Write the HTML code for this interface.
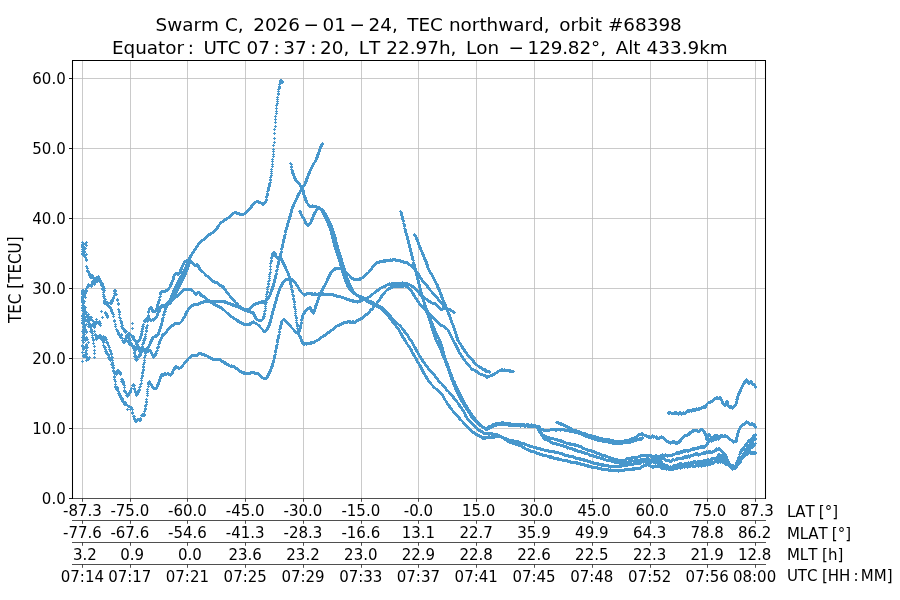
<!DOCTYPE html>
<html lang="en"><head><meta charset="utf-8"><title>Swarm C TEC northward, orbit #68398</title>
<style>
html,body{margin:0;padding:0;background:#fff;overflow:hidden}
svg{display:block;will-change:transform}
text{white-space:pre}
.c,.c text{font-family:"DejaVu Sans Condensed","DejaVu Sans","Liberation Sans",sans-serif;font-stretch:condensed}
.k{font-kerning:none}
</style></head>
<body>
<svg width="900" height="600" viewBox="0 0 900 600" font-family="'DejaVu Sans','Liberation Sans',sans-serif" fill="#000">
<rect width="900" height="600" fill="#fff"/>
<path d="M82.5 60.5V498.5M130.5 60.5V498.5M187.5 60.5V498.5M245.5 60.5V498.5M303.5 60.5V498.5M361.5 60.5V498.5M418.5 60.5V498.5M476.5 60.5V498.5M534.5 60.5V498.5M592.5 60.5V498.5M650.5 60.5V498.5M707.5 60.5V498.5M755.5 60.5V498.5M72.5 428.5H765.5M72.5 358.5H765.5M72.5 288.5H765.5M72.5 218.5H765.5M72.5 148.5H765.5M72.5 78.5H765.5" stroke="#bcbcbc" stroke-width="0.8" fill="none"/>
<path d="M84 255.5h3m-1.5 -1.5v3M84 257.5h3m-1.5 -1.5v3M85 259.5h3m-1.5 -1.5v3M85 260.5h3m-1.5 -1.5v3M85 266.5h3m-1.5 -1.5v3M86 268.5h3m-1.5 -1.5v3M86 271.5h3m-1.5 -1.5v3M86 270.5h3m-1.5 -1.5v3M87 271.5h3m-1.5 -1.5v3M87 272.5h3m-1.5 -1.5v3M88 275.5h3m-1.5 -1.5v3M88 274.5h3m-1.5 -1.5v3M89 277.5h3m-1.5 -1.5v3M89 274.5h3m-1.5 -1.5v3M90 275.5h3m-1.5 -1.5v3M90 277.5h3m-1.5 -1.5v3M91 276.5h3m-1.5 -1.5v3M91 275.5h3m-1.5 -1.5v3M91 277.5h3m-1.5 -1.5v3M92 277.5h3m-1.5 -1.5v3M93 279.5h3m-1.5 -1.5v3M93 278.5h3m-1.5 -1.5v3M94 278.5h3m-1.5 -1.5v3M95 277.5h3m-1.5 -1.5v3M95 279.5h3m-1.5 -1.5v3M96 279.5h3m-1.5 -1.5v3M96 281.5h3m-1.5 -1.5v3M97 279.5h3m-1.5 -1.5v3M97 280.5h3m-1.5 -1.5v3M98 280.5h3m-1.5 -1.5v3M98 281.5h3m-1.5 -1.5v3M99 280.5h3m-1.5 -1.5v3M100 282.5h3m-1.5 -1.5v3M100 284.5h3m-1.5 -1.5v3M100 283.5h3m-1.5 -1.5v3M101 284.5h3m-1.5 -1.5v3M101 283.5h3m-1.5 -1.5v3M101 285.5h3m-1.5 -1.5v3M101 286.5h3m-1.5 -1.5v3M102 286.5h3m-1.5 -1.5v3M103 290.5h3m-1.5 -1.5v3M103 288.5h3m-1.5 -1.5v3M103 296.5h3m-1.5 -1.5v3M104 299.5h3m-1.5 -1.5v3M104 301.5h3m-1.5 -1.5v3M104 303.5h3m-1.5 -1.5v3M105 303.5h3m-1.5 -1.5v3M105 304.5h3m-1.5 -1.5v3M106 305.5h3m-1.5 -1.5v3M106 303.5h3m-1.5 -1.5v3M107 305.5h3m-1.5 -1.5v3M107 306.5h3m-1.5 -1.5v3M108 307.5h3m-1.5 -1.5v3M109 308.5h3m-1.5 -1.5v3M109 307.5h3m-1.5 -1.5v3M110 309.5h3m-1.5 -1.5v3M110 310.5h3m-1.5 -1.5v3M110 311.5h3m-1.5 -1.5v3M111 313.5h3m-1.5 -1.5v3M111 312.5h3m-1.5 -1.5v3M112 314.5h3m-1.5 -1.5v3M112 316.5h3m-1.5 -1.5v3M113 320.5h3m-1.5 -1.5v3M113 321.5h3m-1.5 -1.5v3M114 324.5h3m-1.5 -1.5v3M114 326.5h3m-1.5 -1.5v3M115 329.5h3m-1.5 -1.5v3M116 331.5h3m-1.5 -1.5v3M116 330.5h3m-1.5 -1.5v3M117 332.5h3m-1.5 -1.5v3M117 333.5h3m-1.5 -1.5v3M117 334.5h3m-1.5 -1.5v3M118 335.5h3m-1.5 -1.5v3M119 337.5h3m-1.5 -1.5v3M119 335.5h3m-1.5 -1.5v3M120 334.5h3m-1.5 -1.5v3M120 335.5h3m-1.5 -1.5v3M120 337.5h3m-1.5 -1.5v3M121 338.5h3m-1.5 -1.5v3M121 340.5h3m-1.5 -1.5v3M122 342.5h3m-1.5 -1.5v3M122 341.5h3m-1.5 -1.5v3M123 342.5h3m-1.5 -1.5v3M123 341.5h3m-1.5 -1.5v3M124 338.5h3m-1.5 -1.5v3M124 341.5h3m-1.5 -1.5v3M124 339.5h3m-1.5 -1.5v3M125 337.5h3m-1.5 -1.5v3M125 338.5h3m-1.5 -1.5v3M125 340.5h3m-1.5 -1.5v3M126 341.5h3m-1.5 -1.5v3M127 340.5h3m-1.5 -1.5v3M127 341.5h3m-1.5 -1.5v3M128 343.5h3m-1.5 -1.5v3M128 344.5h3m-1.5 -1.5v3M129 343.5h3m-1.5 -1.5v3M129 342.5h3m-1.5 -1.5v3M130 343.5h3m-1.5 -1.5v3M130 345.5h3m-1.5 -1.5v3M131 346.5h3m-1.5 -1.5v3M132 348.5h3m-1.5 -1.5v3M132 346.5h3m-1.5 -1.5v3M133 346.5h3m-1.5 -1.5v3M133 347.5h3m-1.5 -1.5v3M134 350.5h3m-1.5 -1.5v3M134 349.5h3m-1.5 -1.5v3M135 349.5h3m-1.5 -1.5v3M135 347.5h3m-1.5 -1.5v3M135 346.5h3m-1.5 -1.5v3M136 345.5h3m-1.5 -1.5v3M136 342.5h3m-1.5 -1.5v3M136 341.5h3m-1.5 -1.5v3M137 341.5h3m-1.5 -1.5v3M138 340.5h3m-1.5 -1.5v3M138 339.5h3m-1.5 -1.5v3M139 338.5h3m-1.5 -1.5v3M139 337.5h3m-1.5 -1.5v3M139 336.5h3m-1.5 -1.5v3M140 335.5h3m-1.5 -1.5v3M140 334.5h3m-1.5 -1.5v3M140 333.5h3m-1.5 -1.5v3M140 331.5h3m-1.5 -1.5v3M141 331.5h3m-1.5 -1.5v3M141 329.5h3m-1.5 -1.5v3M141 328.5h3m-1.5 -1.5v3M141 326.5h3m-1.5 -1.5v3M142 326.5h3m-1.5 -1.5v3M142 324.5h3m-1.5 -1.5v3M143 321.5h3m-1.5 -1.5v3M143 320.5h3m-1.5 -1.5v3M144 321.5h3m-1.5 -1.5v3M144 320.5h3m-1.5 -1.5v3M144 319.5h3m-1.5 -1.5v3M145 320.5h3m-1.5 -1.5v3M145 319.5h3m-1.5 -1.5v3M145 318.5h3m-1.5 -1.5v3M146 318.5h3m-1.5 -1.5v3M146 319.5h3m-1.5 -1.5v3M147 319.5h3m-1.5 -1.5v3M147 320.5h3m-1.5 -1.5v3M148 319.5h3m-1.5 -1.5v3M148 318.5h3m-1.5 -1.5v3M149 319.5h3m-1.5 -1.5v3M149 320.5h3m-1.5 -1.5v3M150 320.5h3m-1.5 -1.5v3M151 319.5h3m-1.5 -1.5v3M152 320.5h3m-1.5 -1.5v3M152 319.5h3m-1.5 -1.5v3M153 318.5h3m-1.5 -1.5v3M154 318.5h3m-1.5 -1.5v3M154 317.5h3m-1.5 -1.5v3M155 317.5h3m-1.5 -1.5v3M155 316.5h3m-1.5 -1.5v3M156 315.5h3m-1.5 -1.5v3M156 314.5h3m-1.5 -1.5v3M156 313.5h3m-1.5 -1.5v3M157 312.5h3m-1.5 -1.5v3M157 311.5h3m-1.5 -1.5v3M158 311.5h3m-1.5 -1.5v3M158 310.5h3m-1.5 -1.5v3M158 309.5h3m-1.5 -1.5v3M158 308.5h3m-1.5 -1.5v3M158 307.5h3m-1.5 -1.5v3M159 308.5h3m-1.5 -1.5v3M159 307.5h3m-1.5 -1.5v3M159 306.5h3m-1.5 -1.5v3M160 307.5h3m-1.5 -1.5v3M160 306.5h3m-1.5 -1.5v3M160 305.5h3m-1.5 -1.5v3M161 305.5h3m-1.5 -1.5v3M162 305.5h3m-1.5 -1.5v3M162 306.5h3m-1.5 -1.5v3M163 306.5h3m-1.5 -1.5v3M163 305.5h3m-1.5 -1.5v3M164 305.5h3m-1.5 -1.5v3M164 304.5h3m-1.5 -1.5v3M165 303.5h3m-1.5 -1.5v3M166 302.5h3m-1.5 -1.5v3M166 303.5h3m-1.5 -1.5v3M167 302.5h3m-1.5 -1.5v3M167 301.5h3m-1.5 -1.5v3M168 301.5h3m-1.5 -1.5v3M169 300.5h3m-1.5 -1.5v3M169 299.5h3m-1.5 -1.5v3M169 298.5h3m-1.5 -1.5v3M170 297.5h3m-1.5 -1.5v3M170 296.5h3m-1.5 -1.5v3M170 295.5h3m-1.5 -1.5v3M171 295.5h3m-1.5 -1.5v3M171 294.5h3m-1.5 -1.5v3M171 293.5h3m-1.5 -1.5v3M172 293.5h3m-1.5 -1.5v3M172 292.5h3m-1.5 -1.5v3M172 291.5h3m-1.5 -1.5v3M172 290.5h3m-1.5 -1.5v3M173 290.5h3m-1.5 -1.5v3M173 289.5h3m-1.5 -1.5v3M173 288.5h3m-1.5 -1.5v3M174 288.5h3m-1.5 -1.5v3M174 287.5h3m-1.5 -1.5v3M174 286.5h3m-1.5 -1.5v3M175 286.5h3m-1.5 -1.5v3M175 285.5h3m-1.5 -1.5v3M175 284.5h3m-1.5 -1.5v3M176 284.5h3m-1.5 -1.5v3M176 283.5h3m-1.5 -1.5v3M176 282.5h3m-1.5 -1.5v3M177 282.5h3m-1.5 -1.5v3M177 281.5h3m-1.5 -1.5v3M177 280.5h3m-1.5 -1.5v3M178 279.5h3m-1.5 -1.5v3M178 278.5h3m-1.5 -1.5v3M179 278.5h3m-1.5 -1.5v3M179 277.5h3m-1.5 -1.5v3M179 276.5h3m-1.5 -1.5v3M180 276.5h3m-1.5 -1.5v3M180 275.5h3m-1.5 -1.5v3M181 274.5h3m-1.5 -1.5v3M181 273.5h3m-1.5 -1.5v3M182 272.5h3m-1.5 -1.5v3M182 271.5h3m-1.5 -1.5v3M183 271.5h3m-1.5 -1.5v3M183 270.5h3m-1.5 -1.5v3M183 269.5h3m-1.5 -1.5v3M184 268.5h3m-1.5 -1.5v3M184 267.5h3m-1.5 -1.5v3M185 266.5h3m-1.5 -1.5v3M185 265.5h3m-1.5 -1.5v3M185 264.5h3m-1.5 -1.5v3M186 263.5h3m-1.5 -1.5v3M186 262.5h3m-1.5 -1.5v3M186 261.5h3m-1.5 -1.5v3M187 260.5h3m-1.5 -1.5v3M187 259.5h3m-1.5 -1.5v3M188 258.5h3m-1.5 -1.5v3M188 257.5h3m-1.5 -1.5v3M189 257.5h3m-1.5 -1.5v3M189 256.5h3m-1.5 -1.5v3M189 255.5h3m-1.5 -1.5v3M190 255.5h3m-1.5 -1.5v3M190 254.5h3m-1.5 -1.5v3M191 253.5h3m-1.5 -1.5v3M191 252.5h3m-1.5 -1.5v3M192 252.5h3m-1.5 -1.5v3M192 251.5h3m-1.5 -1.5v3M193 250.5h3m-1.5 -1.5v3M193 249.5h3m-1.5 -1.5v3M194 249.5h3m-1.5 -1.5v3M194 248.5h3m-1.5 -1.5v3M195 247.5h3m-1.5 -1.5v3M195 246.5h3m-1.5 -1.5v3M196 246.5h3m-1.5 -1.5v3M196 245.5h3m-1.5 -1.5v3M197 244.5h3m-1.5 -1.5v3M197 243.5h3m-1.5 -1.5v3M198 243.5h3m-1.5 -1.5v3M198 242.5h3m-1.5 -1.5v3M199 242.5h3m-1.5 -1.5v3M199 241.5h3m-1.5 -1.5v3M200 241.5h3m-1.5 -1.5v3M200 240.5h3m-1.5 -1.5v3M201 240.5h3m-1.5 -1.5v3M202 239.5h3m-1.5 -1.5v3M203 239.5h3m-1.5 -1.5v3M203 238.5h3m-1.5 -1.5v3M204 237.5h3m-1.5 -1.5v3M205 237.5h3m-1.5 -1.5v3M205 236.5h3m-1.5 -1.5v3M206 236.5h3m-1.5 -1.5v3M206 235.5h3m-1.5 -1.5v3M207 235.5h3m-1.5 -1.5v3M207 234.5h3m-1.5 -1.5v3M208 234.5h3m-1.5 -1.5v3M209 234.5h3m-1.5 -1.5v3M209 233.5h3m-1.5 -1.5v3M210 233.5h3m-1.5 -1.5v3M211 232.5h3m-1.5 -1.5v3M212 232.5h3m-1.5 -1.5v3M212 231.5h3m-1.5 -1.5v3M213 231.5h3m-1.5 -1.5v3M213 230.5h3m-1.5 -1.5v3M214 230.5h3m-1.5 -1.5v3M214 229.5h3m-1.5 -1.5v3M215 229.5h3m-1.5 -1.5v3M215 228.5h3m-1.5 -1.5v3M216 228.5h3m-1.5 -1.5v3M216 227.5h3m-1.5 -1.5v3M216 226.5h3m-1.5 -1.5v3M217 226.5h3m-1.5 -1.5v3M217 225.5h3m-1.5 -1.5v3M218 224.5h3m-1.5 -1.5v3M219 223.5h3m-1.5 -1.5v3M219 222.5h3m-1.5 -1.5v3M220 222.5h3m-1.5 -1.5v3M221 221.5h3m-1.5 -1.5v3M222 221.5h3m-1.5 -1.5v3M222 220.5h3m-1.5 -1.5v3M223 220.5h3m-1.5 -1.5v3M223 219.5h3m-1.5 -1.5v3M224 219.5h3m-1.5 -1.5v3M225 219.5h3m-1.5 -1.5v3M225 218.5h3m-1.5 -1.5v3M226 218.5h3m-1.5 -1.5v3M227 217.5h3m-1.5 -1.5v3M228 217.5h3m-1.5 -1.5v3M228 216.5h3m-1.5 -1.5v3M229 215.5h3m-1.5 -1.5v3M230 215.5h3m-1.5 -1.5v3M230 214.5h3m-1.5 -1.5v3M231 214.5h3m-1.5 -1.5v3M231 213.5h3m-1.5 -1.5v3M232 213.5h3m-1.5 -1.5v3M233 212.5h3m-1.5 -1.5v3M234 212.5h3m-1.5 -1.5v3M235 212.5h3m-1.5 -1.5v3M235 213.5h3m-1.5 -1.5v3M236 213.5h3m-1.5 -1.5v3M237 213.5h3m-1.5 -1.5v3M238 213.5h3m-1.5 -1.5v3M238 214.5h3m-1.5 -1.5v3M239 214.5h3m-1.5 -1.5v3M240 214.5h3m-1.5 -1.5v3M241 214.5h3m-1.5 -1.5v3M242 214.5h3m-1.5 -1.5v3M243 213.5h3m-1.5 -1.5v3M244 213.5h3m-1.5 -1.5v3M244 212.5h3m-1.5 -1.5v3M245 212.5h3m-1.5 -1.5v3M245 211.5h3m-1.5 -1.5v3M246 211.5h3m-1.5 -1.5v3M246 210.5h3m-1.5 -1.5v3M247 210.5h3m-1.5 -1.5v3M247 209.5h3m-1.5 -1.5v3M248 209.5h3m-1.5 -1.5v3M248 208.5h3m-1.5 -1.5v3M249 208.5h3m-1.5 -1.5v3M249 207.5h3m-1.5 -1.5v3M250 207.5h3m-1.5 -1.5v3M250 206.5h3m-1.5 -1.5v3M250 205.5h3m-1.5 -1.5v3M251 205.5h3m-1.5 -1.5v3M251 204.5h3m-1.5 -1.5v3M252 204.5h3m-1.5 -1.5v3M252 203.5h3m-1.5 -1.5v3M253 203.5h3m-1.5 -1.5v3M253 202.5h3m-1.5 -1.5v3M254 202.5h3m-1.5 -1.5v3M255 201.5h3m-1.5 -1.5v3M256 201.5h3m-1.5 -1.5v3M257 201.5h3m-1.5 -1.5v3M257 202.5h3m-1.5 -1.5v3M258 202.5h3m-1.5 -1.5v3M259 202.5h3m-1.5 -1.5v3M260 203.5h3m-1.5 -1.5v3M261 203.5h3m-1.5 -1.5v3M261 204.5h3m-1.5 -1.5v3M262 204.5h3m-1.5 -1.5v3M262 203.5h3m-1.5 -1.5v3M263 203.5h3m-1.5 -1.5v3M263 202.5h3m-1.5 -1.5v3M264 202.5h3m-1.5 -1.5v3M264 201.5h3m-1.5 -1.5v3M265 200.5h3m-1.5 -1.5v3M265 199.5h3m-1.5 -1.5v3M265 197.5h3m-1.5 -1.5v3M265 196.5h3m-1.5 -1.5v3M266 195.5h3m-1.5 -1.5v3M266 194.5h3m-1.5 -1.5v3M266 193.5h3m-1.5 -1.5v3M266 191.5h3m-1.5 -1.5v3M267 190.5h3m-1.5 -1.5v3M267 189.5h3m-1.5 -1.5v3M267 188.5h3m-1.5 -1.5v3M267 187.5h3m-1.5 -1.5v3M268 186.5h3m-1.5 -1.5v3M268 185.5h3m-1.5 -1.5v3M268 184.5h3m-1.5 -1.5v3M268 183.5h3m-1.5 -1.5v3M269 182.5h3m-1.5 -1.5v3M269 180.5h3m-1.5 -1.5v3M269 179.5h3m-1.5 -1.5v3M269 177.5h3m-1.5 -1.5v3M270 175.5h3m-1.5 -1.5v3M270 173.5h3m-1.5 -1.5v3M270 171.5h3m-1.5 -1.5v3M270 169.5h3m-1.5 -1.5v3M271 166.5h3m-1.5 -1.5v3M271 164.5h3m-1.5 -1.5v3M271 161.5h3m-1.5 -1.5v3M271 159.5h3m-1.5 -1.5v3M272 156.5h3m-1.5 -1.5v3M272 154.5h3m-1.5 -1.5v3M272 151.5h3m-1.5 -1.5v3M272 149.5h3m-1.5 -1.5v3M272 145.5h3m-1.5 -1.5v3M273 142.5h3m-1.5 -1.5v3M273 138.5h3m-1.5 -1.5v3M273 133.5h3m-1.5 -1.5v3M273 129.5h3m-1.5 -1.5v3M274 126.5h3m-1.5 -1.5v3M274 122.5h3m-1.5 -1.5v3M274 119.5h3m-1.5 -1.5v3M274 116.5h3m-1.5 -1.5v3M275 113.5h3m-1.5 -1.5v3M275 111.5h3m-1.5 -1.5v3M275 108.5h3m-1.5 -1.5v3M275 105.5h3m-1.5 -1.5v3M276 103.5h3m-1.5 -1.5v3M276 101.5h3m-1.5 -1.5v3M276 99.5h3m-1.5 -1.5v3M276 97.5h3m-1.5 -1.5v3M277 94.5h3m-1.5 -1.5v3M277 93.5h3m-1.5 -1.5v3M277 91.5h3m-1.5 -1.5v3M277 89.5h3m-1.5 -1.5v3M278 88.5h3m-1.5 -1.5v3M278 87.5h3m-1.5 -1.5v3M278 86.5h3m-1.5 -1.5v3M278 84.5h3m-1.5 -1.5v3M279 83.5h3m-1.5 -1.5v3M279 82.5h3m-1.5 -1.5v3M279 81.5h3m-1.5 -1.5v3M279 80.5h3m-1.5 -1.5v3M280 80.5h3m-1.5 -1.5v3M280 81.5h3m-1.5 -1.5v3M281 81.5h3m-1.5 -1.5v3M281 82.5h3m-1.5 -1.5v3M84 293.5h3m-1.5 -1.5v3M85 290.5h3m-1.5 -1.5v3M85 291.5h3m-1.5 -1.5v3M85 288.5h3m-1.5 -1.5v3M86 287.5h3m-1.5 -1.5v3M86 286.5h3m-1.5 -1.5v3M87 284.5h3m-1.5 -1.5v3M87 285.5h3m-1.5 -1.5v3M88 285.5h3m-1.5 -1.5v3M89 285.5h3m-1.5 -1.5v3M90 286.5h3m-1.5 -1.5v3M90 285.5h3m-1.5 -1.5v3M90 284.5h3m-1.5 -1.5v3M91 282.5h3m-1.5 -1.5v3M91 281.5h3m-1.5 -1.5v3M92 281.5h3m-1.5 -1.5v3M92 282.5h3m-1.5 -1.5v3M93 283.5h3m-1.5 -1.5v3M93 284.5h3m-1.5 -1.5v3M93 282.5h3m-1.5 -1.5v3M94 281.5h3m-1.5 -1.5v3M94 282.5h3m-1.5 -1.5v3M95 280.5h3m-1.5 -1.5v3M95 278.5h3m-1.5 -1.5v3M96 278.5h3m-1.5 -1.5v3M97 277.5h3m-1.5 -1.5v3M97 276.5h3m-1.5 -1.5v3M98 278.5h3m-1.5 -1.5v3M100 285.5h3m-1.5 -1.5v3M101 288.5h3m-1.5 -1.5v3M101 289.5h3m-1.5 -1.5v3M102 292.5h3m-1.5 -1.5v3M102 294.5h3m-1.5 -1.5v3M102 296.5h3m-1.5 -1.5v3M103 298.5h3m-1.5 -1.5v3M103 300.5h3m-1.5 -1.5v3M103 301.5h3m-1.5 -1.5v3M103 302.5h3m-1.5 -1.5v3M103 303.5h3m-1.5 -1.5v3M104 302.5h3m-1.5 -1.5v3M105 302.5h3m-1.5 -1.5v3M106 302.5h3m-1.5 -1.5v3M109 303.5h3m-1.5 -1.5v3M109 302.5h3m-1.5 -1.5v3M110 302.5h3m-1.5 -1.5v3M110 303.5h3m-1.5 -1.5v3M110 301.5h3m-1.5 -1.5v3M110 300.5h3m-1.5 -1.5v3M111 300.5h3m-1.5 -1.5v3M111 301.5h3m-1.5 -1.5v3M112 297.5h3m-1.5 -1.5v3M112 298.5h3m-1.5 -1.5v3M113 295.5h3m-1.5 -1.5v3M113 293.5h3m-1.5 -1.5v3M113 291.5h3m-1.5 -1.5v3M113 290.5h3m-1.5 -1.5v3M114 291.5h3m-1.5 -1.5v3M114 290.5h3m-1.5 -1.5v3M115 294.5h3m-1.5 -1.5v3M116 299.5h3m-1.5 -1.5v3M116 300.5h3m-1.5 -1.5v3M117 303.5h3m-1.5 -1.5v3M117 304.5h3m-1.5 -1.5v3M117 309.5h3m-1.5 -1.5v3M118 311.5h3m-1.5 -1.5v3M118 312.5h3m-1.5 -1.5v3M118 314.5h3m-1.5 -1.5v3M118 317.5h3m-1.5 -1.5v3M119 318.5h3m-1.5 -1.5v3M119 320.5h3m-1.5 -1.5v3M120 321.5h3m-1.5 -1.5v3M120 322.5h3m-1.5 -1.5v3M120 323.5h3m-1.5 -1.5v3M120 326.5h3m-1.5 -1.5v3M121 325.5h3m-1.5 -1.5v3M121 327.5h3m-1.5 -1.5v3M121 328.5h3m-1.5 -1.5v3M122 328.5h3m-1.5 -1.5v3M122 329.5h3m-1.5 -1.5v3M123 329.5h3m-1.5 -1.5v3M123 331.5h3m-1.5 -1.5v3M124 330.5h3m-1.5 -1.5v3M124 332.5h3m-1.5 -1.5v3M124 331.5h3m-1.5 -1.5v3M125 331.5h3m-1.5 -1.5v3M126 334.5h3m-1.5 -1.5v3M127 333.5h3m-1.5 -1.5v3M127 334.5h3m-1.5 -1.5v3M127 335.5h3m-1.5 -1.5v3M128 334.5h3m-1.5 -1.5v3M128 333.5h3m-1.5 -1.5v3M129 334.5h3m-1.5 -1.5v3M130 335.5h3m-1.5 -1.5v3M131 336.5h3m-1.5 -1.5v3M131 337.5h3m-1.5 -1.5v3M132 337.5h3m-1.5 -1.5v3M132 336.5h3m-1.5 -1.5v3M132 338.5h3m-1.5 -1.5v3M132 339.5h3m-1.5 -1.5v3M133 340.5h3m-1.5 -1.5v3M133 339.5h3m-1.5 -1.5v3M134 340.5h3m-1.5 -1.5v3M134 341.5h3m-1.5 -1.5v3M135 342.5h3m-1.5 -1.5v3M135 343.5h3m-1.5 -1.5v3M135 344.5h3m-1.5 -1.5v3M136 344.5h3m-1.5 -1.5v3M136 346.5h3m-1.5 -1.5v3M137 346.5h3m-1.5 -1.5v3M137 347.5h3m-1.5 -1.5v3M137 348.5h3m-1.5 -1.5v3M138 349.5h3m-1.5 -1.5v3M138 350.5h3m-1.5 -1.5v3M138 351.5h3m-1.5 -1.5v3M139 350.5h3m-1.5 -1.5v3M139 349.5h3m-1.5 -1.5v3M140 349.5h3m-1.5 -1.5v3M140 348.5h3m-1.5 -1.5v3M140 347.5h3m-1.5 -1.5v3M141 347.5h3m-1.5 -1.5v3M141 346.5h3m-1.5 -1.5v3M141 344.5h3m-1.5 -1.5v3M142 343.5h3m-1.5 -1.5v3M142 342.5h3m-1.5 -1.5v3M142 340.5h3m-1.5 -1.5v3M143 340.5h3m-1.5 -1.5v3M143 338.5h3m-1.5 -1.5v3M144 338.5h3m-1.5 -1.5v3M144 336.5h3m-1.5 -1.5v3M144 334.5h3m-1.5 -1.5v3M145 331.5h3m-1.5 -1.5v3M145 330.5h3m-1.5 -1.5v3M145 328.5h3m-1.5 -1.5v3M145 327.5h3m-1.5 -1.5v3M146 325.5h3m-1.5 -1.5v3M146 321.5h3m-1.5 -1.5v3M147 316.5h3m-1.5 -1.5v3M147 315.5h3m-1.5 -1.5v3M147 312.5h3m-1.5 -1.5v3M147 311.5h3m-1.5 -1.5v3M148 309.5h3m-1.5 -1.5v3M148 308.5h3m-1.5 -1.5v3M149 307.5h3m-1.5 -1.5v3M150 307.5h3m-1.5 -1.5v3M150 308.5h3m-1.5 -1.5v3M150 309.5h3m-1.5 -1.5v3M151 309.5h3m-1.5 -1.5v3M151 310.5h3m-1.5 -1.5v3M151 311.5h3m-1.5 -1.5v3M152 311.5h3m-1.5 -1.5v3M153 311.5h3m-1.5 -1.5v3M154 311.5h3m-1.5 -1.5v3M154 310.5h3m-1.5 -1.5v3M155 310.5h3m-1.5 -1.5v3M155 309.5h3m-1.5 -1.5v3M155 308.5h3m-1.5 -1.5v3M156 307.5h3m-1.5 -1.5v3M156 306.5h3m-1.5 -1.5v3M156 305.5h3m-1.5 -1.5v3M156 304.5h3m-1.5 -1.5v3M157 303.5h3m-1.5 -1.5v3M157 302.5h3m-1.5 -1.5v3M157 301.5h3m-1.5 -1.5v3M158 300.5h3m-1.5 -1.5v3M158 299.5h3m-1.5 -1.5v3M158 297.5h3m-1.5 -1.5v3M159 296.5h3m-1.5 -1.5v3M159 294.5h3m-1.5 -1.5v3M159 293.5h3m-1.5 -1.5v3M159 292.5h3m-1.5 -1.5v3M160 292.5h3m-1.5 -1.5v3M160 291.5h3m-1.5 -1.5v3M161 291.5h3m-1.5 -1.5v3M162 291.5h3m-1.5 -1.5v3M163 291.5h3m-1.5 -1.5v3M164 291.5h3m-1.5 -1.5v3M164 290.5h3m-1.5 -1.5v3M165 290.5h3m-1.5 -1.5v3M166 290.5h3m-1.5 -1.5v3M166 289.5h3m-1.5 -1.5v3M167 289.5h3m-1.5 -1.5v3M167 288.5h3m-1.5 -1.5v3M168 287.5h3m-1.5 -1.5v3M169 286.5h3m-1.5 -1.5v3M169 285.5h3m-1.5 -1.5v3M169 284.5h3m-1.5 -1.5v3M170 284.5h3m-1.5 -1.5v3M170 283.5h3m-1.5 -1.5v3M170 282.5h3m-1.5 -1.5v3M171 281.5h3m-1.5 -1.5v3M171 280.5h3m-1.5 -1.5v3M172 279.5h3m-1.5 -1.5v3M172 278.5h3m-1.5 -1.5v3M172 277.5h3m-1.5 -1.5v3M172 276.5h3m-1.5 -1.5v3M173 275.5h3m-1.5 -1.5v3M173 274.5h3m-1.5 -1.5v3M174 274.5h3m-1.5 -1.5v3M174 273.5h3m-1.5 -1.5v3M175 273.5h3m-1.5 -1.5v3M176 273.5h3m-1.5 -1.5v3M176 274.5h3m-1.5 -1.5v3M177 274.5h3m-1.5 -1.5v3M177 273.5h3m-1.5 -1.5v3M178 273.5h3m-1.5 -1.5v3M178 272.5h3m-1.5 -1.5v3M179 272.5h3m-1.5 -1.5v3M179 271.5h3m-1.5 -1.5v3M179 270.5h3m-1.5 -1.5v3M179 269.5h3m-1.5 -1.5v3M180 269.5h3m-1.5 -1.5v3M180 268.5h3m-1.5 -1.5v3M180 267.5h3m-1.5 -1.5v3M181 266.5h3m-1.5 -1.5v3M181 265.5h3m-1.5 -1.5v3M182 264.5h3m-1.5 -1.5v3M182 263.5h3m-1.5 -1.5v3M183 262.5h3m-1.5 -1.5v3M183 261.5h3m-1.5 -1.5v3M184 261.5h3m-1.5 -1.5v3M185 261.5h3m-1.5 -1.5v3M185 260.5h3m-1.5 -1.5v3M186 260.5h3m-1.5 -1.5v3M188 260.5h3m-1.5 -1.5v3M189 260.5h3m-1.5 -1.5v3M189 261.5h3m-1.5 -1.5v3M190 261.5h3m-1.5 -1.5v3M190 262.5h3m-1.5 -1.5v3M191 262.5h3m-1.5 -1.5v3M191 263.5h3m-1.5 -1.5v3M192 263.5h3m-1.5 -1.5v3M192 264.5h3m-1.5 -1.5v3M193 264.5h3m-1.5 -1.5v3M193 265.5h3m-1.5 -1.5v3M194 265.5h3m-1.5 -1.5v3M195 265.5h3m-1.5 -1.5v3M195 264.5h3m-1.5 -1.5v3M196 264.5h3m-1.5 -1.5v3M196 265.5h3m-1.5 -1.5v3M197 265.5h3m-1.5 -1.5v3M197 266.5h3m-1.5 -1.5v3M197 267.5h3m-1.5 -1.5v3M198 267.5h3m-1.5 -1.5v3M198 268.5h3m-1.5 -1.5v3M198 269.5h3m-1.5 -1.5v3M199 269.5h3m-1.5 -1.5v3M199 270.5h3m-1.5 -1.5v3M200 270.5h3m-1.5 -1.5v3M200 271.5h3m-1.5 -1.5v3M201 271.5h3m-1.5 -1.5v3M202 272.5h3m-1.5 -1.5v3M203 273.5h3m-1.5 -1.5v3M204 274.5h3m-1.5 -1.5v3M204 275.5h3m-1.5 -1.5v3M205 275.5h3m-1.5 -1.5v3M206 276.5h3m-1.5 -1.5v3M207 276.5h3m-1.5 -1.5v3M207 277.5h3m-1.5 -1.5v3M208 277.5h3m-1.5 -1.5v3M208 278.5h3m-1.5 -1.5v3M209 279.5h3m-1.5 -1.5v3M210 279.5h3m-1.5 -1.5v3M210 280.5h3m-1.5 -1.5v3M211 280.5h3m-1.5 -1.5v3M211 281.5h3m-1.5 -1.5v3M212 281.5h3m-1.5 -1.5v3M213 281.5h3m-1.5 -1.5v3M213 282.5h3m-1.5 -1.5v3M214 282.5h3m-1.5 -1.5v3M215 282.5h3m-1.5 -1.5v3M216 282.5h3m-1.5 -1.5v3M216 283.5h3m-1.5 -1.5v3M217 283.5h3m-1.5 -1.5v3M217 284.5h3m-1.5 -1.5v3M218 284.5h3m-1.5 -1.5v3M218 285.5h3m-1.5 -1.5v3M219 285.5h3m-1.5 -1.5v3M220 285.5h3m-1.5 -1.5v3M220 286.5h3m-1.5 -1.5v3M221 286.5h3m-1.5 -1.5v3M222 286.5h3m-1.5 -1.5v3M222 287.5h3m-1.5 -1.5v3M222 288.5h3m-1.5 -1.5v3M223 288.5h3m-1.5 -1.5v3M223 289.5h3m-1.5 -1.5v3M224 289.5h3m-1.5 -1.5v3M224 290.5h3m-1.5 -1.5v3M225 291.5h3m-1.5 -1.5v3M225 292.5h3m-1.5 -1.5v3M226 292.5h3m-1.5 -1.5v3M226 293.5h3m-1.5 -1.5v3M227 293.5h3m-1.5 -1.5v3M227 294.5h3m-1.5 -1.5v3M228 295.5h3m-1.5 -1.5v3M229 296.5h3m-1.5 -1.5v3M229 297.5h3m-1.5 -1.5v3M230 297.5h3m-1.5 -1.5v3M230 298.5h3m-1.5 -1.5v3M231 298.5h3m-1.5 -1.5v3M231 299.5h3m-1.5 -1.5v3M232 299.5h3m-1.5 -1.5v3M232 300.5h3m-1.5 -1.5v3M233 300.5h3m-1.5 -1.5v3M233 301.5h3m-1.5 -1.5v3M234 302.5h3m-1.5 -1.5v3M235 303.5h3m-1.5 -1.5v3M236 303.5h3m-1.5 -1.5v3M236 304.5h3m-1.5 -1.5v3M237 305.5h3m-1.5 -1.5v3M238 306.5h3m-1.5 -1.5v3M239 306.5h3m-1.5 -1.5v3M239 307.5h3m-1.5 -1.5v3M240 307.5h3m-1.5 -1.5v3M240 308.5h3m-1.5 -1.5v3M241 308.5h3m-1.5 -1.5v3M241 309.5h3m-1.5 -1.5v3M242 309.5h3m-1.5 -1.5v3M243 309.5h3m-1.5 -1.5v3M243 310.5h3m-1.5 -1.5v3M244 310.5h3m-1.5 -1.5v3M245 310.5h3m-1.5 -1.5v3M246 310.5h3m-1.5 -1.5v3M246 311.5h3m-1.5 -1.5v3M247 311.5h3m-1.5 -1.5v3M248 311.5h3m-1.5 -1.5v3M249 311.5h3m-1.5 -1.5v3M249 312.5h3m-1.5 -1.5v3M250 312.5h3m-1.5 -1.5v3M251 312.5h3m-1.5 -1.5v3M252 312.5h3m-1.5 -1.5v3M252 313.5h3m-1.5 -1.5v3M252 314.5h3m-1.5 -1.5v3M253 314.5h3m-1.5 -1.5v3M253 315.5h3m-1.5 -1.5v3M253 316.5h3m-1.5 -1.5v3M254 316.5h3m-1.5 -1.5v3M254 317.5h3m-1.5 -1.5v3M254 318.5h3m-1.5 -1.5v3M255 318.5h3m-1.5 -1.5v3M255 319.5h3m-1.5 -1.5v3M256 319.5h3m-1.5 -1.5v3M257 320.5h3m-1.5 -1.5v3M258 320.5h3m-1.5 -1.5v3M259 320.5h3m-1.5 -1.5v3M260 320.5h3m-1.5 -1.5v3M261 319.5h3m-1.5 -1.5v3M262 318.5h3m-1.5 -1.5v3M262 317.5h3m-1.5 -1.5v3M262 316.5h3m-1.5 -1.5v3M263 316.5h3m-1.5 -1.5v3M263 314.5h3m-1.5 -1.5v3M263 313.5h3m-1.5 -1.5v3M263 311.5h3m-1.5 -1.5v3M264 310.5h3m-1.5 -1.5v3M264 308.5h3m-1.5 -1.5v3M264 306.5h3m-1.5 -1.5v3M264 304.5h3m-1.5 -1.5v3M265 302.5h3m-1.5 -1.5v3M265 300.5h3m-1.5 -1.5v3M265 298.5h3m-1.5 -1.5v3M265 296.5h3m-1.5 -1.5v3M265 294.5h3m-1.5 -1.5v3M266 292.5h3m-1.5 -1.5v3M266 291.5h3m-1.5 -1.5v3M266 289.5h3m-1.5 -1.5v3M266 287.5h3m-1.5 -1.5v3M267 286.5h3m-1.5 -1.5v3M267 284.5h3m-1.5 -1.5v3M267 283.5h3m-1.5 -1.5v3M267 281.5h3m-1.5 -1.5v3M268 280.5h3m-1.5 -1.5v3M268 278.5h3m-1.5 -1.5v3M268 276.5h3m-1.5 -1.5v3M268 274.5h3m-1.5 -1.5v3M269 272.5h3m-1.5 -1.5v3M269 269.5h3m-1.5 -1.5v3M269 266.5h3m-1.5 -1.5v3M269 263.5h3m-1.5 -1.5v3M270 261.5h3m-1.5 -1.5v3M270 260.5h3m-1.5 -1.5v3M270 258.5h3m-1.5 -1.5v3M270 257.5h3m-1.5 -1.5v3M271 256.5h3m-1.5 -1.5v3M271 255.5h3m-1.5 -1.5v3M271 254.5h3m-1.5 -1.5v3M271 253.5h3m-1.5 -1.5v3M272 253.5h3m-1.5 -1.5v3M272 252.5h3m-1.5 -1.5v3M273 252.5h3m-1.5 -1.5v3M273 253.5h3m-1.5 -1.5v3M274 253.5h3m-1.5 -1.5v3M274 254.5h3m-1.5 -1.5v3M274 255.5h3m-1.5 -1.5v3M274 256.5h3m-1.5 -1.5v3M275 256.5h3m-1.5 -1.5v3M275 257.5h3m-1.5 -1.5v3M276 257.5h3m-1.5 -1.5v3M276 258.5h3m-1.5 -1.5v3M277 258.5h3m-1.5 -1.5v3M277 257.5h3m-1.5 -1.5v3M278 257.5h3m-1.5 -1.5v3M279 257.5h3m-1.5 -1.5v3M279 258.5h3m-1.5 -1.5v3M280 258.5h3m-1.5 -1.5v3M280 259.5h3m-1.5 -1.5v3M280 260.5h3m-1.5 -1.5v3M281 260.5h3m-1.5 -1.5v3M281 261.5h3m-1.5 -1.5v3M281 262.5h3m-1.5 -1.5v3M282 262.5h3m-1.5 -1.5v3M282 263.5h3m-1.5 -1.5v3M282 264.5h3m-1.5 -1.5v3M283 264.5h3m-1.5 -1.5v3M283 265.5h3m-1.5 -1.5v3M283 266.5h3m-1.5 -1.5v3M284 266.5h3m-1.5 -1.5v3M284 267.5h3m-1.5 -1.5v3M284 268.5h3m-1.5 -1.5v3M285 269.5h3m-1.5 -1.5v3M285 270.5h3m-1.5 -1.5v3M286 271.5h3m-1.5 -1.5v3M286 272.5h3m-1.5 -1.5v3M287 273.5h3m-1.5 -1.5v3M287 274.5h3m-1.5 -1.5v3M287 275.5h3m-1.5 -1.5v3M288 276.5h3m-1.5 -1.5v3M288 277.5h3m-1.5 -1.5v3M288 279.5h3m-1.5 -1.5v3M288 280.5h3m-1.5 -1.5v3M289 281.5h3m-1.5 -1.5v3M289 282.5h3m-1.5 -1.5v3M289 283.5h3m-1.5 -1.5v3M289 284.5h3m-1.5 -1.5v3M290 285.5h3m-1.5 -1.5v3M290 286.5h3m-1.5 -1.5v3M290 287.5h3m-1.5 -1.5v3M290 289.5h3m-1.5 -1.5v3M291 290.5h3m-1.5 -1.5v3M291 291.5h3m-1.5 -1.5v3M291 292.5h3m-1.5 -1.5v3M291 294.5h3m-1.5 -1.5v3M292 295.5h3m-1.5 -1.5v3M292 296.5h3m-1.5 -1.5v3M292 298.5h3m-1.5 -1.5v3M292 299.5h3m-1.5 -1.5v3M293 301.5h3m-1.5 -1.5v3M293 302.5h3m-1.5 -1.5v3M293 304.5h3m-1.5 -1.5v3M293 306.5h3m-1.5 -1.5v3M293 307.5h3m-1.5 -1.5v3M294 309.5h3m-1.5 -1.5v3M294 311.5h3m-1.5 -1.5v3M294 313.5h3m-1.5 -1.5v3M294 315.5h3m-1.5 -1.5v3M295 317.5h3m-1.5 -1.5v3M295 318.5h3m-1.5 -1.5v3M295 320.5h3m-1.5 -1.5v3M295 322.5h3m-1.5 -1.5v3M296 324.5h3m-1.5 -1.5v3M296 325.5h3m-1.5 -1.5v3M296 326.5h3m-1.5 -1.5v3M296 328.5h3m-1.5 -1.5v3M297 329.5h3m-1.5 -1.5v3M297 330.5h3m-1.5 -1.5v3M297 331.5h3m-1.5 -1.5v3M298 331.5h3m-1.5 -1.5v3M298 330.5h3m-1.5 -1.5v3M298 329.5h3m-1.5 -1.5v3M299 328.5h3m-1.5 -1.5v3M299 327.5h3m-1.5 -1.5v3M299 326.5h3m-1.5 -1.5v3M299 325.5h3m-1.5 -1.5v3M300 323.5h3m-1.5 -1.5v3M300 322.5h3m-1.5 -1.5v3M300 320.5h3m-1.5 -1.5v3M300 319.5h3m-1.5 -1.5v3M301 318.5h3m-1.5 -1.5v3M301 317.5h3m-1.5 -1.5v3M301 316.5h3m-1.5 -1.5v3M301 315.5h3m-1.5 -1.5v3M302 314.5h3m-1.5 -1.5v3M302 313.5h3m-1.5 -1.5v3M303 313.5h3m-1.5 -1.5v3M303 312.5h3m-1.5 -1.5v3M303 311.5h3m-1.5 -1.5v3M304 310.5h3m-1.5 -1.5v3M305 310.5h3m-1.5 -1.5v3M305 309.5h3m-1.5 -1.5v3M306 309.5h3m-1.5 -1.5v3M306 308.5h3m-1.5 -1.5v3M307 308.5h3m-1.5 -1.5v3M308 308.5h3m-1.5 -1.5v3M308 307.5h3m-1.5 -1.5v3M309 307.5h3m-1.5 -1.5v3M309 308.5h3m-1.5 -1.5v3M310 309.5h3m-1.5 -1.5v3M310 310.5h3m-1.5 -1.5v3M310 311.5h3m-1.5 -1.5v3M311 311.5h3m-1.5 -1.5v3M311 312.5h3m-1.5 -1.5v3M312 313.5h3m-1.5 -1.5v3M312 312.5h3m-1.5 -1.5v3M312 311.5h3m-1.5 -1.5v3M313 311.5h3m-1.5 -1.5v3M313 310.5h3m-1.5 -1.5v3M313 309.5h3m-1.5 -1.5v3M314 308.5h3m-1.5 -1.5v3M314 307.5h3m-1.5 -1.5v3M314 306.5h3m-1.5 -1.5v3M314 305.5h3m-1.5 -1.5v3M315 305.5h3m-1.5 -1.5v3M315 304.5h3m-1.5 -1.5v3M315 303.5h3m-1.5 -1.5v3M316 302.5h3m-1.5 -1.5v3M316 301.5h3m-1.5 -1.5v3M316 300.5h3m-1.5 -1.5v3M317 299.5h3m-1.5 -1.5v3M317 298.5h3m-1.5 -1.5v3M317 297.5h3m-1.5 -1.5v3M318 296.5h3m-1.5 -1.5v3M318 295.5h3m-1.5 -1.5v3M318 294.5h3m-1.5 -1.5v3M319 293.5h3m-1.5 -1.5v3M319 292.5h3m-1.5 -1.5v3M320 292.5h3m-1.5 -1.5v3M320 291.5h3m-1.5 -1.5v3M320 290.5h3m-1.5 -1.5v3M321 290.5h3m-1.5 -1.5v3M321 289.5h3m-1.5 -1.5v3M321 288.5h3m-1.5 -1.5v3M322 288.5h3m-1.5 -1.5v3M322 287.5h3m-1.5 -1.5v3M322 286.5h3m-1.5 -1.5v3M323 286.5h3m-1.5 -1.5v3M323 285.5h3m-1.5 -1.5v3M324 284.5h3m-1.5 -1.5v3M324 283.5h3m-1.5 -1.5v3M325 282.5h3m-1.5 -1.5v3M325 281.5h3m-1.5 -1.5v3M326 280.5h3m-1.5 -1.5v3M326 279.5h3m-1.5 -1.5v3M326 278.5h3m-1.5 -1.5v3M327 278.5h3m-1.5 -1.5v3M327 277.5h3m-1.5 -1.5v3M327 276.5h3m-1.5 -1.5v3M328 276.5h3m-1.5 -1.5v3M328 275.5h3m-1.5 -1.5v3M328 274.5h3m-1.5 -1.5v3M329 274.5h3m-1.5 -1.5v3M329 273.5h3m-1.5 -1.5v3M329 272.5h3m-1.5 -1.5v3M330 272.5h3m-1.5 -1.5v3M330 271.5h3m-1.5 -1.5v3M331 271.5h3m-1.5 -1.5v3M331 270.5h3m-1.5 -1.5v3M332 270.5h3m-1.5 -1.5v3M332 269.5h3m-1.5 -1.5v3M333 269.5h3m-1.5 -1.5v3M333 268.5h3m-1.5 -1.5v3M334 268.5h3m-1.5 -1.5v3M334 269.5h3m-1.5 -1.5v3M335 268.5h3m-1.5 -1.5v3M336 268.5h3m-1.5 -1.5v3M337 268.5h3m-1.5 -1.5v3M338 268.5h3m-1.5 -1.5v3M339 268.5h3m-1.5 -1.5v3M340 268.5h3m-1.5 -1.5v3M341 269.5h3m-1.5 -1.5v3M342 269.5h3m-1.5 -1.5v3M342 270.5h3m-1.5 -1.5v3M343 270.5h3m-1.5 -1.5v3M344 271.5h3m-1.5 -1.5v3M345 272.5h3m-1.5 -1.5v3M346 273.5h3m-1.5 -1.5v3M347 274.5h3m-1.5 -1.5v3M348 275.5h3m-1.5 -1.5v3M349 276.5h3m-1.5 -1.5v3M349 277.5h3m-1.5 -1.5v3M350 277.5h3m-1.5 -1.5v3M350 278.5h3m-1.5 -1.5v3M351 278.5h3m-1.5 -1.5v3M352 278.5h3m-1.5 -1.5v3M352 279.5h3m-1.5 -1.5v3M353 279.5h3m-1.5 -1.5v3M354 279.5h3m-1.5 -1.5v3M355 279.5h3m-1.5 -1.5v3M356 279.5h3m-1.5 -1.5v3M357 279.5h3m-1.5 -1.5v3M358 279.5h3m-1.5 -1.5v3M358 278.5h3m-1.5 -1.5v3M359 278.5h3m-1.5 -1.5v3M359 279.5h3m-1.5 -1.5v3M360 278.5h3m-1.5 -1.5v3M361 277.5h3m-1.5 -1.5v3M362 277.5h3m-1.5 -1.5v3M362 276.5h3m-1.5 -1.5v3M363 276.5h3m-1.5 -1.5v3M363 275.5h3m-1.5 -1.5v3M364 275.5h3m-1.5 -1.5v3M364 274.5h3m-1.5 -1.5v3M365 274.5h3m-1.5 -1.5v3M365 273.5h3m-1.5 -1.5v3M366 273.5h3m-1.5 -1.5v3M367 272.5h3m-1.5 -1.5v3M368 271.5h3m-1.5 -1.5v3M368 270.5h3m-1.5 -1.5v3M369 270.5h3m-1.5 -1.5v3M369 269.5h3m-1.5 -1.5v3M370 269.5h3m-1.5 -1.5v3M370 268.5h3m-1.5 -1.5v3M371 267.5h3m-1.5 -1.5v3M371 266.5h3m-1.5 -1.5v3M372 266.5h3m-1.5 -1.5v3M372 265.5h3m-1.5 -1.5v3M373 265.5h3m-1.5 -1.5v3M373 264.5h3m-1.5 -1.5v3M374 264.5h3m-1.5 -1.5v3M375 263.5h3m-1.5 -1.5v3M375 262.5h3m-1.5 -1.5v3M376 262.5h3m-1.5 -1.5v3M377 262.5h3m-1.5 -1.5v3M378 262.5h3m-1.5 -1.5v3M378 261.5h3m-1.5 -1.5v3M379 261.5h3m-1.5 -1.5v3M380 261.5h3m-1.5 -1.5v3M381 261.5h3m-1.5 -1.5v3M382 261.5h3m-1.5 -1.5v3M382 260.5h3m-1.5 -1.5v3M383 261.5h3m-1.5 -1.5v3M383 260.5h3m-1.5 -1.5v3M384 260.5h3m-1.5 -1.5v3M384 261.5h3m-1.5 -1.5v3M385 260.5h3m-1.5 -1.5v3M386 260.5h3m-1.5 -1.5v3M387 260.5h3m-1.5 -1.5v3M388 260.5h3m-1.5 -1.5v3M389 260.5h3m-1.5 -1.5v3M389 259.5h3m-1.5 -1.5v3M390 260.5h3m-1.5 -1.5v3M391 260.5h3m-1.5 -1.5v3M391 259.5h3m-1.5 -1.5v3M392 259.5h3m-1.5 -1.5v3M393 259.5h3m-1.5 -1.5v3M394 259.5h3m-1.5 -1.5v3M394 260.5h3m-1.5 -1.5v3M395 260.5h3m-1.5 -1.5v3M396 260.5h3m-1.5 -1.5v3M397 260.5h3m-1.5 -1.5v3M398 260.5h3m-1.5 -1.5v3M399 260.5h3m-1.5 -1.5v3M399 261.5h3m-1.5 -1.5v3M400 261.5h3m-1.5 -1.5v3M401 261.5h3m-1.5 -1.5v3M402 261.5h3m-1.5 -1.5v3M402 262.5h3m-1.5 -1.5v3M403 262.5h3m-1.5 -1.5v3M404 262.5h3m-1.5 -1.5v3M405 262.5h3m-1.5 -1.5v3M406 262.5h3m-1.5 -1.5v3M406 263.5h3m-1.5 -1.5v3M407 263.5h3m-1.5 -1.5v3M407 264.5h3m-1.5 -1.5v3M408 264.5h3m-1.5 -1.5v3M409 265.5h3m-1.5 -1.5v3M410 265.5h3m-1.5 -1.5v3M410 266.5h3m-1.5 -1.5v3M411 266.5h3m-1.5 -1.5v3M411 267.5h3m-1.5 -1.5v3M412 267.5h3m-1.5 -1.5v3M412 268.5h3m-1.5 -1.5v3M413 268.5h3m-1.5 -1.5v3M413 269.5h3m-1.5 -1.5v3M414 270.5h3m-1.5 -1.5v3M414 271.5h3m-1.5 -1.5v3M415 271.5h3m-1.5 -1.5v3M415 272.5h3m-1.5 -1.5v3M416 272.5h3m-1.5 -1.5v3M416 273.5h3m-1.5 -1.5v3M417 273.5h3m-1.5 -1.5v3M417 274.5h3m-1.5 -1.5v3M417 275.5h3m-1.5 -1.5v3M418 275.5h3m-1.5 -1.5v3M418 276.5h3m-1.5 -1.5v3M419 277.5h3m-1.5 -1.5v3M419 278.5h3m-1.5 -1.5v3M420 278.5h3m-1.5 -1.5v3M420 279.5h3m-1.5 -1.5v3M421 280.5h3m-1.5 -1.5v3M421 281.5h3m-1.5 -1.5v3M422 281.5h3m-1.5 -1.5v3M422 282.5h3m-1.5 -1.5v3M423 282.5h3m-1.5 -1.5v3M423 283.5h3m-1.5 -1.5v3M424 283.5h3m-1.5 -1.5v3M424 284.5h3m-1.5 -1.5v3M425 284.5h3m-1.5 -1.5v3M425 285.5h3m-1.5 -1.5v3M426 285.5h3m-1.5 -1.5v3M426 286.5h3m-1.5 -1.5v3M426 287.5h3m-1.5 -1.5v3M427 287.5h3m-1.5 -1.5v3M427 288.5h3m-1.5 -1.5v3M428 288.5h3m-1.5 -1.5v3M428 289.5h3m-1.5 -1.5v3M429 290.5h3m-1.5 -1.5v3M430 291.5h3m-1.5 -1.5v3M431 292.5h3m-1.5 -1.5v3M431 293.5h3m-1.5 -1.5v3M432 293.5h3m-1.5 -1.5v3M432 294.5h3m-1.5 -1.5v3M433 294.5h3m-1.5 -1.5v3M433 295.5h3m-1.5 -1.5v3M434 295.5h3m-1.5 -1.5v3M434 296.5h3m-1.5 -1.5v3M435 296.5h3m-1.5 -1.5v3M435 297.5h3m-1.5 -1.5v3M436 297.5h3m-1.5 -1.5v3M436 298.5h3m-1.5 -1.5v3M437 299.5h3m-1.5 -1.5v3M437 300.5h3m-1.5 -1.5v3M438 300.5h3m-1.5 -1.5v3M438 301.5h3m-1.5 -1.5v3M439 301.5h3m-1.5 -1.5v3M439 302.5h3m-1.5 -1.5v3M440 302.5h3m-1.5 -1.5v3M440 303.5h3m-1.5 -1.5v3M441 304.5h3m-1.5 -1.5v3M442 305.5h3m-1.5 -1.5v3M442 306.5h3m-1.5 -1.5v3M443 306.5h3m-1.5 -1.5v3M443 307.5h3m-1.5 -1.5v3M444 307.5h3m-1.5 -1.5v3M444 308.5h3m-1.5 -1.5v3M445 308.5h3m-1.5 -1.5v3M445 309.5h3m-1.5 -1.5v3M446 309.5h3m-1.5 -1.5v3M446 310.5h3m-1.5 -1.5v3M446 311.5h3m-1.5 -1.5v3M447 312.5h3m-1.5 -1.5v3M447 313.5h3m-1.5 -1.5v3M447 314.5h3m-1.5 -1.5v3M448 314.5h3m-1.5 -1.5v3M448 315.5h3m-1.5 -1.5v3M448 316.5h3m-1.5 -1.5v3M449 317.5h3m-1.5 -1.5v3M449 318.5h3m-1.5 -1.5v3M449 319.5h3m-1.5 -1.5v3M450 320.5h3m-1.5 -1.5v3M450 321.5h3m-1.5 -1.5v3M450 322.5h3m-1.5 -1.5v3M451 323.5h3m-1.5 -1.5v3M451 324.5h3m-1.5 -1.5v3M452 325.5h3m-1.5 -1.5v3M452 326.5h3m-1.5 -1.5v3M452 327.5h3m-1.5 -1.5v3M453 328.5h3m-1.5 -1.5v3M453 329.5h3m-1.5 -1.5v3M453 330.5h3m-1.5 -1.5v3M454 331.5h3m-1.5 -1.5v3M454 332.5h3m-1.5 -1.5v3M454 333.5h3m-1.5 -1.5v3M455 334.5h3m-1.5 -1.5v3M455 335.5h3m-1.5 -1.5v3M455 336.5h3m-1.5 -1.5v3M455 337.5h3m-1.5 -1.5v3M456 337.5h3m-1.5 -1.5v3M456 338.5h3m-1.5 -1.5v3M456 339.5h3m-1.5 -1.5v3M456 340.5h3m-1.5 -1.5v3M457 340.5h3m-1.5 -1.5v3M457 341.5h3m-1.5 -1.5v3M458 342.5h3m-1.5 -1.5v3M458 343.5h3m-1.5 -1.5v3M459 343.5h3m-1.5 -1.5v3M459 344.5h3m-1.5 -1.5v3M460 345.5h3m-1.5 -1.5v3M460 346.5h3m-1.5 -1.5v3M461 346.5h3m-1.5 -1.5v3M461 347.5h3m-1.5 -1.5v3M461 348.5h3m-1.5 -1.5v3M462 348.5h3m-1.5 -1.5v3M462 349.5h3m-1.5 -1.5v3M463 349.5h3m-1.5 -1.5v3M463 350.5h3m-1.5 -1.5v3M463 351.5h3m-1.5 -1.5v3M464 351.5h3m-1.5 -1.5v3M464 352.5h3m-1.5 -1.5v3M465 352.5h3m-1.5 -1.5v3M465 353.5h3m-1.5 -1.5v3M466 354.5h3m-1.5 -1.5v3M466 355.5h3m-1.5 -1.5v3M467 355.5h3m-1.5 -1.5v3M467 356.5h3m-1.5 -1.5v3M468 356.5h3m-1.5 -1.5v3M468 357.5h3m-1.5 -1.5v3M469 358.5h3m-1.5 -1.5v3M470 358.5h3m-1.5 -1.5v3M470 359.5h3m-1.5 -1.5v3M471 359.5h3m-1.5 -1.5v3M471 360.5h3m-1.5 -1.5v3M472 360.5h3m-1.5 -1.5v3M472 361.5h3m-1.5 -1.5v3M472 362.5h3m-1.5 -1.5v3M473 362.5h3m-1.5 -1.5v3M473 363.5h3m-1.5 -1.5v3M474 363.5h3m-1.5 -1.5v3M474 364.5h3m-1.5 -1.5v3M475 364.5h3m-1.5 -1.5v3M476 365.5h3m-1.5 -1.5v3M477 366.5h3m-1.5 -1.5v3M478 366.5h3m-1.5 -1.5v3M478 367.5h3m-1.5 -1.5v3M479 367.5h3m-1.5 -1.5v3M480 367.5h3m-1.5 -1.5v3M480 368.5h3m-1.5 -1.5v3M481 368.5h3m-1.5 -1.5v3M481 369.5h3m-1.5 -1.5v3M482 369.5h3m-1.5 -1.5v3M483 369.5h3m-1.5 -1.5v3M483 370.5h3m-1.5 -1.5v3M484 369.5h3m-1.5 -1.5v3M484 370.5h3m-1.5 -1.5v3M484 371.5h3m-1.5 -1.5v3M485 371.5h3m-1.5 -1.5v3M486 371.5h3m-1.5 -1.5v3M487 371.5h3m-1.5 -1.5v3M488 371.5h3m-1.5 -1.5v3M488 372.5h3m-1.5 -1.5v3M85 316.5h3m-1.5 -1.5v3M85 314.5h3m-1.5 -1.5v3M86 316.5h3m-1.5 -1.5v3M86 315.5h3m-1.5 -1.5v3M87 316.5h3m-1.5 -1.5v3M87 314.5h3m-1.5 -1.5v3M88 317.5h3m-1.5 -1.5v3M88 319.5h3m-1.5 -1.5v3M89 319.5h3m-1.5 -1.5v3M89 317.5h3m-1.5 -1.5v3M90 317.5h3m-1.5 -1.5v3M90 319.5h3m-1.5 -1.5v3M91 320.5h3m-1.5 -1.5v3M92 321.5h3m-1.5 -1.5v3M92 323.5h3m-1.5 -1.5v3M93 322.5h3m-1.5 -1.5v3M94 324.5h3m-1.5 -1.5v3M94 323.5h3m-1.5 -1.5v3M95 321.5h3m-1.5 -1.5v3M95 322.5h3m-1.5 -1.5v3M95 319.5h3m-1.5 -1.5v3M96 322.5h3m-1.5 -1.5v3M97 323.5h3m-1.5 -1.5v3M98 323.5h3m-1.5 -1.5v3M98 321.5h3m-1.5 -1.5v3M99 323.5h3m-1.5 -1.5v3M99 325.5h3m-1.5 -1.5v3M100 339.5h3m-1.5 -1.5v3M101 340.5h3m-1.5 -1.5v3M102 342.5h3m-1.5 -1.5v3M102 341.5h3m-1.5 -1.5v3M102 345.5h3m-1.5 -1.5v3M103 346.5h3m-1.5 -1.5v3M103 347.5h3m-1.5 -1.5v3M104 347.5h3m-1.5 -1.5v3M104 349.5h3m-1.5 -1.5v3M104 351.5h3m-1.5 -1.5v3M105 351.5h3m-1.5 -1.5v3M105 353.5h3m-1.5 -1.5v3M106 353.5h3m-1.5 -1.5v3M107 354.5h3m-1.5 -1.5v3M107 355.5h3m-1.5 -1.5v3M107 357.5h3m-1.5 -1.5v3M108 357.5h3m-1.5 -1.5v3M108 359.5h3m-1.5 -1.5v3M109 359.5h3m-1.5 -1.5v3M109 360.5h3m-1.5 -1.5v3M110 364.5h3m-1.5 -1.5v3M111 363.5h3m-1.5 -1.5v3M111 365.5h3m-1.5 -1.5v3M111 367.5h3m-1.5 -1.5v3M112 367.5h3m-1.5 -1.5v3M112 368.5h3m-1.5 -1.5v3M112 371.5h3m-1.5 -1.5v3M113 371.5h3m-1.5 -1.5v3M113 372.5h3m-1.5 -1.5v3M114 373.5h3m-1.5 -1.5v3M115 374.5h3m-1.5 -1.5v3M115 371.5h3m-1.5 -1.5v3M116 370.5h3m-1.5 -1.5v3M116 372.5h3m-1.5 -1.5v3M116 371.5h3m-1.5 -1.5v3M117 370.5h3m-1.5 -1.5v3M117 371.5h3m-1.5 -1.5v3M118 373.5h3m-1.5 -1.5v3M119 372.5h3m-1.5 -1.5v3M119 373.5h3m-1.5 -1.5v3M119 374.5h3m-1.5 -1.5v3M120 379.5h3m-1.5 -1.5v3M120 381.5h3m-1.5 -1.5v3M121 379.5h3m-1.5 -1.5v3M121 380.5h3m-1.5 -1.5v3M121 381.5h3m-1.5 -1.5v3M122 381.5h3m-1.5 -1.5v3M122 382.5h3m-1.5 -1.5v3M122 383.5h3m-1.5 -1.5v3M122 384.5h3m-1.5 -1.5v3M123 385.5h3m-1.5 -1.5v3M123 387.5h3m-1.5 -1.5v3M123 390.5h3m-1.5 -1.5v3M123 391.5h3m-1.5 -1.5v3M124 392.5h3m-1.5 -1.5v3M124 391.5h3m-1.5 -1.5v3M125 393.5h3m-1.5 -1.5v3M125 395.5h3m-1.5 -1.5v3M126 395.5h3m-1.5 -1.5v3M126 396.5h3m-1.5 -1.5v3M127 395.5h3m-1.5 -1.5v3M127 393.5h3m-1.5 -1.5v3M128 393.5h3m-1.5 -1.5v3M128 392.5h3m-1.5 -1.5v3M129 392.5h3m-1.5 -1.5v3M129 390.5h3m-1.5 -1.5v3M129 391.5h3m-1.5 -1.5v3M130 388.5h3m-1.5 -1.5v3M131 385.5h3m-1.5 -1.5v3M132 384.5h3m-1.5 -1.5v3M132 385.5h3m-1.5 -1.5v3M133 385.5h3m-1.5 -1.5v3M133 388.5h3m-1.5 -1.5v3M133 389.5h3m-1.5 -1.5v3M134 391.5h3m-1.5 -1.5v3M134 392.5h3m-1.5 -1.5v3M135 394.5h3m-1.5 -1.5v3M135 395.5h3m-1.5 -1.5v3M136 394.5h3m-1.5 -1.5v3M136 393.5h3m-1.5 -1.5v3M136 392.5h3m-1.5 -1.5v3M137 392.5h3m-1.5 -1.5v3M137 391.5h3m-1.5 -1.5v3M137 390.5h3m-1.5 -1.5v3M138 390.5h3m-1.5 -1.5v3M138 389.5h3m-1.5 -1.5v3M138 387.5h3m-1.5 -1.5v3M139 386.5h3m-1.5 -1.5v3M139 384.5h3m-1.5 -1.5v3M140 383.5h3m-1.5 -1.5v3M140 380.5h3m-1.5 -1.5v3M140 378.5h3m-1.5 -1.5v3M141 376.5h3m-1.5 -1.5v3M141 375.5h3m-1.5 -1.5v3M141 373.5h3m-1.5 -1.5v3M141 372.5h3m-1.5 -1.5v3M142 370.5h3m-1.5 -1.5v3M142 369.5h3m-1.5 -1.5v3M142 367.5h3m-1.5 -1.5v3M142 366.5h3m-1.5 -1.5v3M142 364.5h3m-1.5 -1.5v3M143 362.5h3m-1.5 -1.5v3M143 360.5h3m-1.5 -1.5v3M143 357.5h3m-1.5 -1.5v3M144 355.5h3m-1.5 -1.5v3M144 353.5h3m-1.5 -1.5v3M144 352.5h3m-1.5 -1.5v3M145 352.5h3m-1.5 -1.5v3M145 348.5h3m-1.5 -1.5v3M146 348.5h3m-1.5 -1.5v3M146 347.5h3m-1.5 -1.5v3M147 347.5h3m-1.5 -1.5v3M147 346.5h3m-1.5 -1.5v3M148 345.5h3m-1.5 -1.5v3M148 344.5h3m-1.5 -1.5v3M149 343.5h3m-1.5 -1.5v3M149 342.5h3m-1.5 -1.5v3M149 341.5h3m-1.5 -1.5v3M150 341.5h3m-1.5 -1.5v3M150 340.5h3m-1.5 -1.5v3M150 339.5h3m-1.5 -1.5v3M151 339.5h3m-1.5 -1.5v3M151 338.5h3m-1.5 -1.5v3M151 337.5h3m-1.5 -1.5v3M152 337.5h3m-1.5 -1.5v3M153 336.5h3m-1.5 -1.5v3M154 336.5h3m-1.5 -1.5v3M154 335.5h3m-1.5 -1.5v3M155 336.5h3m-1.5 -1.5v3M155 335.5h3m-1.5 -1.5v3M156 335.5h3m-1.5 -1.5v3M156 334.5h3m-1.5 -1.5v3M157 334.5h3m-1.5 -1.5v3M157 333.5h3m-1.5 -1.5v3M157 332.5h3m-1.5 -1.5v3M158 331.5h3m-1.5 -1.5v3M158 330.5h3m-1.5 -1.5v3M158 329.5h3m-1.5 -1.5v3M159 328.5h3m-1.5 -1.5v3M159 327.5h3m-1.5 -1.5v3M159 326.5h3m-1.5 -1.5v3M160 325.5h3m-1.5 -1.5v3M160 324.5h3m-1.5 -1.5v3M160 323.5h3m-1.5 -1.5v3M161 321.5h3m-1.5 -1.5v3M161 320.5h3m-1.5 -1.5v3M161 319.5h3m-1.5 -1.5v3M161 318.5h3m-1.5 -1.5v3M162 317.5h3m-1.5 -1.5v3M162 315.5h3m-1.5 -1.5v3M162 314.5h3m-1.5 -1.5v3M163 314.5h3m-1.5 -1.5v3M163 312.5h3m-1.5 -1.5v3M163 311.5h3m-1.5 -1.5v3M164 311.5h3m-1.5 -1.5v3M164 309.5h3m-1.5 -1.5v3M164 308.5h3m-1.5 -1.5v3M165 307.5h3m-1.5 -1.5v3M165 306.5h3m-1.5 -1.5v3M166 305.5h3m-1.5 -1.5v3M166 304.5h3m-1.5 -1.5v3M167 303.5h3m-1.5 -1.5v3M167 304.5h3m-1.5 -1.5v3M168 302.5h3m-1.5 -1.5v3M169 302.5h3m-1.5 -1.5v3M169 301.5h3m-1.5 -1.5v3M170 301.5h3m-1.5 -1.5v3M170 300.5h3m-1.5 -1.5v3M171 300.5h3m-1.5 -1.5v3M171 299.5h3m-1.5 -1.5v3M172 299.5h3m-1.5 -1.5v3M172 298.5h3m-1.5 -1.5v3M173 298.5h3m-1.5 -1.5v3M173 297.5h3m-1.5 -1.5v3M174 297.5h3m-1.5 -1.5v3M174 296.5h3m-1.5 -1.5v3M175 296.5h3m-1.5 -1.5v3M176 296.5h3m-1.5 -1.5v3M176 295.5h3m-1.5 -1.5v3M177 295.5h3m-1.5 -1.5v3M177 294.5h3m-1.5 -1.5v3M178 294.5h3m-1.5 -1.5v3M178 293.5h3m-1.5 -1.5v3M179 293.5h3m-1.5 -1.5v3M180 292.5h3m-1.5 -1.5v3M180 291.5h3m-1.5 -1.5v3M181 291.5h3m-1.5 -1.5v3M181 290.5h3m-1.5 -1.5v3M182 290.5h3m-1.5 -1.5v3M182 289.5h3m-1.5 -1.5v3M183 289.5h3m-1.5 -1.5v3M184 289.5h3m-1.5 -1.5v3M185 289.5h3m-1.5 -1.5v3M186 289.5h3m-1.5 -1.5v3M187 289.5h3m-1.5 -1.5v3M188 289.5h3m-1.5 -1.5v3M189 289.5h3m-1.5 -1.5v3M190 289.5h3m-1.5 -1.5v3M190 290.5h3m-1.5 -1.5v3M191 290.5h3m-1.5 -1.5v3M192 291.5h3m-1.5 -1.5v3M193 292.5h3m-1.5 -1.5v3M193 293.5h3m-1.5 -1.5v3M194 293.5h3m-1.5 -1.5v3M194 294.5h3m-1.5 -1.5v3M195 294.5h3m-1.5 -1.5v3M195 293.5h3m-1.5 -1.5v3M196 293.5h3m-1.5 -1.5v3M196 292.5h3m-1.5 -1.5v3M197 292.5h3m-1.5 -1.5v3M198 292.5h3m-1.5 -1.5v3M198 293.5h3m-1.5 -1.5v3M199 293.5h3m-1.5 -1.5v3M199 294.5h3m-1.5 -1.5v3M199 295.5h3m-1.5 -1.5v3M200 295.5h3m-1.5 -1.5v3M201 295.5h3m-1.5 -1.5v3M201 296.5h3m-1.5 -1.5v3M202 296.5h3m-1.5 -1.5v3M203 296.5h3m-1.5 -1.5v3M203 297.5h3m-1.5 -1.5v3M204 297.5h3m-1.5 -1.5v3M204 298.5h3m-1.5 -1.5v3M205 298.5h3m-1.5 -1.5v3M205 299.5h3m-1.5 -1.5v3M206 299.5h3m-1.5 -1.5v3M207 300.5h3m-1.5 -1.5v3M208 300.5h3m-1.5 -1.5v3M208 301.5h3m-1.5 -1.5v3M209 301.5h3m-1.5 -1.5v3M209 302.5h3m-1.5 -1.5v3M210 302.5h3m-1.5 -1.5v3M211 303.5h3m-1.5 -1.5v3M212 303.5h3m-1.5 -1.5v3M212 304.5h3m-1.5 -1.5v3M213 304.5h3m-1.5 -1.5v3M214 304.5h3m-1.5 -1.5v3M214 305.5h3m-1.5 -1.5v3M215 305.5h3m-1.5 -1.5v3M216 305.5h3m-1.5 -1.5v3M216 306.5h3m-1.5 -1.5v3M217 306.5h3m-1.5 -1.5v3M218 306.5h3m-1.5 -1.5v3M218 307.5h3m-1.5 -1.5v3M219 307.5h3m-1.5 -1.5v3M220 307.5h3m-1.5 -1.5v3M220 308.5h3m-1.5 -1.5v3M221 308.5h3m-1.5 -1.5v3M221 309.5h3m-1.5 -1.5v3M222 309.5h3m-1.5 -1.5v3M223 310.5h3m-1.5 -1.5v3M224 311.5h3m-1.5 -1.5v3M225 312.5h3m-1.5 -1.5v3M226 313.5h3m-1.5 -1.5v3M227 313.5h3m-1.5 -1.5v3M227 314.5h3m-1.5 -1.5v3M228 314.5h3m-1.5 -1.5v3M228 315.5h3m-1.5 -1.5v3M229 315.5h3m-1.5 -1.5v3M229 316.5h3m-1.5 -1.5v3M230 316.5h3m-1.5 -1.5v3M231 317.5h3m-1.5 -1.5v3M232 317.5h3m-1.5 -1.5v3M232 318.5h3m-1.5 -1.5v3M233 318.5h3m-1.5 -1.5v3M234 319.5h3m-1.5 -1.5v3M235 319.5h3m-1.5 -1.5v3M235 320.5h3m-1.5 -1.5v3M236 320.5h3m-1.5 -1.5v3M236 321.5h3m-1.5 -1.5v3M237 320.5h3m-1.5 -1.5v3M237 321.5h3m-1.5 -1.5v3M238 321.5h3m-1.5 -1.5v3M238 322.5h3m-1.5 -1.5v3M239 322.5h3m-1.5 -1.5v3M240 322.5h3m-1.5 -1.5v3M240 323.5h3m-1.5 -1.5v3M241 323.5h3m-1.5 -1.5v3M242 323.5h3m-1.5 -1.5v3M242 324.5h3m-1.5 -1.5v3M243 324.5h3m-1.5 -1.5v3M244 324.5h3m-1.5 -1.5v3M245 324.5h3m-1.5 -1.5v3M246 324.5h3m-1.5 -1.5v3M247 324.5h3m-1.5 -1.5v3M248 324.5h3m-1.5 -1.5v3M248 323.5h3m-1.5 -1.5v3M249 324.5h3m-1.5 -1.5v3M249 323.5h3m-1.5 -1.5v3M250 323.5h3m-1.5 -1.5v3M250 322.5h3m-1.5 -1.5v3M251 322.5h3m-1.5 -1.5v3M252 321.5h3m-1.5 -1.5v3M252 322.5h3m-1.5 -1.5v3M253 322.5h3m-1.5 -1.5v3M254 323.5h3m-1.5 -1.5v3M255 323.5h3m-1.5 -1.5v3M256 324.5h3m-1.5 -1.5v3M257 325.5h3m-1.5 -1.5v3M258 325.5h3m-1.5 -1.5v3M258 326.5h3m-1.5 -1.5v3M259 327.5h3m-1.5 -1.5v3M260 328.5h3m-1.5 -1.5v3M261 329.5h3m-1.5 -1.5v3M262 330.5h3m-1.5 -1.5v3M262 331.5h3m-1.5 -1.5v3M263 331.5h3m-1.5 -1.5v3M264 331.5h3m-1.5 -1.5v3M264 330.5h3m-1.5 -1.5v3M265 330.5h3m-1.5 -1.5v3M265 329.5h3m-1.5 -1.5v3M266 329.5h3m-1.5 -1.5v3M266 328.5h3m-1.5 -1.5v3M266 327.5h3m-1.5 -1.5v3M267 327.5h3m-1.5 -1.5v3M267 326.5h3m-1.5 -1.5v3M267 325.5h3m-1.5 -1.5v3M268 325.5h3m-1.5 -1.5v3M268 324.5h3m-1.5 -1.5v3M268 323.5h3m-1.5 -1.5v3M268 322.5h3m-1.5 -1.5v3M269 322.5h3m-1.5 -1.5v3M269 321.5h3m-1.5 -1.5v3M269 320.5h3m-1.5 -1.5v3M269 319.5h3m-1.5 -1.5v3M270 318.5h3m-1.5 -1.5v3M270 317.5h3m-1.5 -1.5v3M270 316.5h3m-1.5 -1.5v3M270 315.5h3m-1.5 -1.5v3M271 314.5h3m-1.5 -1.5v3M271 313.5h3m-1.5 -1.5v3M271 312.5h3m-1.5 -1.5v3M271 311.5h3m-1.5 -1.5v3M272 310.5h3m-1.5 -1.5v3M272 309.5h3m-1.5 -1.5v3M272 308.5h3m-1.5 -1.5v3M273 307.5h3m-1.5 -1.5v3M273 306.5h3m-1.5 -1.5v3M273 305.5h3m-1.5 -1.5v3M273 304.5h3m-1.5 -1.5v3M274 303.5h3m-1.5 -1.5v3M274 302.5h3m-1.5 -1.5v3M274 301.5h3m-1.5 -1.5v3M275 300.5h3m-1.5 -1.5v3M275 299.5h3m-1.5 -1.5v3M275 298.5h3m-1.5 -1.5v3M275 297.5h3m-1.5 -1.5v3M276 296.5h3m-1.5 -1.5v3M276 295.5h3m-1.5 -1.5v3M276 294.5h3m-1.5 -1.5v3M277 293.5h3m-1.5 -1.5v3M277 292.5h3m-1.5 -1.5v3M277 291.5h3m-1.5 -1.5v3M278 290.5h3m-1.5 -1.5v3M278 289.5h3m-1.5 -1.5v3M278 288.5h3m-1.5 -1.5v3M279 287.5h3m-1.5 -1.5v3M279 286.5h3m-1.5 -1.5v3M280 286.5h3m-1.5 -1.5v3M280 285.5h3m-1.5 -1.5v3M280 284.5h3m-1.5 -1.5v3M281 284.5h3m-1.5 -1.5v3M281 283.5h3m-1.5 -1.5v3M281 282.5h3m-1.5 -1.5v3M282 282.5h3m-1.5 -1.5v3M282 281.5h3m-1.5 -1.5v3M283 281.5h3m-1.5 -1.5v3M283 280.5h3m-1.5 -1.5v3M284 280.5h3m-1.5 -1.5v3M284 279.5h3m-1.5 -1.5v3M285 279.5h3m-1.5 -1.5v3M286 279.5h3m-1.5 -1.5v3M287 279.5h3m-1.5 -1.5v3M287 278.5h3m-1.5 -1.5v3M288 278.5h3m-1.5 -1.5v3M289 278.5h3m-1.5 -1.5v3M289 279.5h3m-1.5 -1.5v3M290 279.5h3m-1.5 -1.5v3M291 279.5h3m-1.5 -1.5v3M291 280.5h3m-1.5 -1.5v3M292 280.5h3m-1.5 -1.5v3M292 281.5h3m-1.5 -1.5v3M293 281.5h3m-1.5 -1.5v3M293 282.5h3m-1.5 -1.5v3M294 282.5h3m-1.5 -1.5v3M294 283.5h3m-1.5 -1.5v3M295 284.5h3m-1.5 -1.5v3M295 285.5h3m-1.5 -1.5v3M296 285.5h3m-1.5 -1.5v3M296 286.5h3m-1.5 -1.5v3M297 287.5h3m-1.5 -1.5v3M297 288.5h3m-1.5 -1.5v3M298 289.5h3m-1.5 -1.5v3M298 290.5h3m-1.5 -1.5v3M299 290.5h3m-1.5 -1.5v3M299 291.5h3m-1.5 -1.5v3M300 292.5h3m-1.5 -1.5v3M301 293.5h3m-1.5 -1.5v3M302 294.5h3m-1.5 -1.5v3M303 295.5h3m-1.5 -1.5v3M303 294.5h3m-1.5 -1.5v3M304 294.5h3m-1.5 -1.5v3M305 294.5h3m-1.5 -1.5v3M305 293.5h3m-1.5 -1.5v3M306 293.5h3m-1.5 -1.5v3M307 293.5h3m-1.5 -1.5v3M308 293.5h3m-1.5 -1.5v3M309 293.5h3m-1.5 -1.5v3M310 293.5h3m-1.5 -1.5v3M310 294.5h3m-1.5 -1.5v3M311 293.5h3m-1.5 -1.5v3M311 294.5h3m-1.5 -1.5v3M312 294.5h3m-1.5 -1.5v3M313 294.5h3m-1.5 -1.5v3M313 293.5h3m-1.5 -1.5v3M314 293.5h3m-1.5 -1.5v3M314 294.5h3m-1.5 -1.5v3M315 294.5h3m-1.5 -1.5v3M316 294.5h3m-1.5 -1.5v3M317 294.5h3m-1.5 -1.5v3M317 293.5h3m-1.5 -1.5v3M318 293.5h3m-1.5 -1.5v3M319 294.5h3m-1.5 -1.5v3M320 294.5h3m-1.5 -1.5v3M320 293.5h3m-1.5 -1.5v3M321 293.5h3m-1.5 -1.5v3M321 294.5h3m-1.5 -1.5v3M322 293.5h3m-1.5 -1.5v3M322 294.5h3m-1.5 -1.5v3M323 294.5h3m-1.5 -1.5v3M324 294.5h3m-1.5 -1.5v3M325 294.5h3m-1.5 -1.5v3M326 294.5h3m-1.5 -1.5v3M327 294.5h3m-1.5 -1.5v3M328 294.5h3m-1.5 -1.5v3M329 294.5h3m-1.5 -1.5v3M330 294.5h3m-1.5 -1.5v3M331 294.5h3m-1.5 -1.5v3M332 295.5h3m-1.5 -1.5v3M332 294.5h3m-1.5 -1.5v3M333 295.5h3m-1.5 -1.5v3M334 295.5h3m-1.5 -1.5v3M335 295.5h3m-1.5 -1.5v3M335 296.5h3m-1.5 -1.5v3M336 296.5h3m-1.5 -1.5v3M337 296.5h3m-1.5 -1.5v3M338 296.5h3m-1.5 -1.5v3M339 296.5h3m-1.5 -1.5v3M340 297.5h3m-1.5 -1.5v3M341 297.5h3m-1.5 -1.5v3M342 297.5h3m-1.5 -1.5v3M343 298.5h3m-1.5 -1.5v3M344 298.5h3m-1.5 -1.5v3M345 298.5h3m-1.5 -1.5v3M345 299.5h3m-1.5 -1.5v3M346 299.5h3m-1.5 -1.5v3M347 299.5h3m-1.5 -1.5v3M348 299.5h3m-1.5 -1.5v3M348 300.5h3m-1.5 -1.5v3M349 300.5h3m-1.5 -1.5v3M350 300.5h3m-1.5 -1.5v3M351 300.5h3m-1.5 -1.5v3M351 301.5h3m-1.5 -1.5v3M352 301.5h3m-1.5 -1.5v3M352 300.5h3m-1.5 -1.5v3M353 301.5h3m-1.5 -1.5v3M354 301.5h3m-1.5 -1.5v3M355 301.5h3m-1.5 -1.5v3M356 302.5h3m-1.5 -1.5v3M356 301.5h3m-1.5 -1.5v3M357 301.5h3m-1.5 -1.5v3M358 301.5h3m-1.5 -1.5v3M358 300.5h3m-1.5 -1.5v3M359 301.5h3m-1.5 -1.5v3M359 300.5h3m-1.5 -1.5v3M360 300.5h3m-1.5 -1.5v3M361 300.5h3m-1.5 -1.5v3M361 299.5h3m-1.5 -1.5v3M362 299.5h3m-1.5 -1.5v3M363 299.5h3m-1.5 -1.5v3M364 298.5h3m-1.5 -1.5v3M365 298.5h3m-1.5 -1.5v3M366 298.5h3m-1.5 -1.5v3M366 297.5h3m-1.5 -1.5v3M367 297.5h3m-1.5 -1.5v3M368 296.5h3m-1.5 -1.5v3M369 296.5h3m-1.5 -1.5v3M369 295.5h3m-1.5 -1.5v3M370 295.5h3m-1.5 -1.5v3M370 294.5h3m-1.5 -1.5v3M371 294.5h3m-1.5 -1.5v3M372 293.5h3m-1.5 -1.5v3M373 292.5h3m-1.5 -1.5v3M374 292.5h3m-1.5 -1.5v3M374 291.5h3m-1.5 -1.5v3M375 291.5h3m-1.5 -1.5v3M375 290.5h3m-1.5 -1.5v3M376 290.5h3m-1.5 -1.5v3M377 290.5h3m-1.5 -1.5v3M377 289.5h3m-1.5 -1.5v3M378 289.5h3m-1.5 -1.5v3M378 288.5h3m-1.5 -1.5v3M379 288.5h3m-1.5 -1.5v3M380 287.5h3m-1.5 -1.5v3M381 287.5h3m-1.5 -1.5v3M382 286.5h3m-1.5 -1.5v3M383 286.5h3m-1.5 -1.5v3M384 286.5h3m-1.5 -1.5v3M384 285.5h3m-1.5 -1.5v3M385 285.5h3m-1.5 -1.5v3M386 284.5h3m-1.5 -1.5v3M387 284.5h3m-1.5 -1.5v3M388 284.5h3m-1.5 -1.5v3M388 283.5h3m-1.5 -1.5v3M389 284.5h3m-1.5 -1.5v3M390 284.5h3m-1.5 -1.5v3M390 283.5h3m-1.5 -1.5v3M391 283.5h3m-1.5 -1.5v3M391 284.5h3m-1.5 -1.5v3M392 283.5h3m-1.5 -1.5v3M393 283.5h3m-1.5 -1.5v3M394 283.5h3m-1.5 -1.5v3M395 283.5h3m-1.5 -1.5v3M396 283.5h3m-1.5 -1.5v3M397 283.5h3m-1.5 -1.5v3M398 283.5h3m-1.5 -1.5v3M399 283.5h3m-1.5 -1.5v3M400 283.5h3m-1.5 -1.5v3M401 283.5h3m-1.5 -1.5v3M401 282.5h3m-1.5 -1.5v3M402 283.5h3m-1.5 -1.5v3M403 283.5h3m-1.5 -1.5v3M404 283.5h3m-1.5 -1.5v3M405 283.5h3m-1.5 -1.5v3M406 283.5h3m-1.5 -1.5v3M406 284.5h3m-1.5 -1.5v3M407 284.5h3m-1.5 -1.5v3M408 284.5h3m-1.5 -1.5v3M409 285.5h3m-1.5 -1.5v3M410 285.5h3m-1.5 -1.5v3M410 286.5h3m-1.5 -1.5v3M411 286.5h3m-1.5 -1.5v3M412 286.5h3m-1.5 -1.5v3M412 287.5h3m-1.5 -1.5v3M413 287.5h3m-1.5 -1.5v3M413 288.5h3m-1.5 -1.5v3M414 288.5h3m-1.5 -1.5v3M414 289.5h3m-1.5 -1.5v3M415 289.5h3m-1.5 -1.5v3M415 290.5h3m-1.5 -1.5v3M416 290.5h3m-1.5 -1.5v3M416 291.5h3m-1.5 -1.5v3M417 291.5h3m-1.5 -1.5v3M417 292.5h3m-1.5 -1.5v3M418 293.5h3m-1.5 -1.5v3M418 294.5h3m-1.5 -1.5v3M419 294.5h3m-1.5 -1.5v3M420 295.5h3m-1.5 -1.5v3M420 296.5h3m-1.5 -1.5v3M421 296.5h3m-1.5 -1.5v3M422 296.5h3m-1.5 -1.5v3M422 297.5h3m-1.5 -1.5v3M423 297.5h3m-1.5 -1.5v3M423 298.5h3m-1.5 -1.5v3M424 298.5h3m-1.5 -1.5v3M425 299.5h3m-1.5 -1.5v3M426 299.5h3m-1.5 -1.5v3M426 300.5h3m-1.5 -1.5v3M427 300.5h3m-1.5 -1.5v3M427 301.5h3m-1.5 -1.5v3M428 301.5h3m-1.5 -1.5v3M429 301.5h3m-1.5 -1.5v3M429 302.5h3m-1.5 -1.5v3M430 302.5h3m-1.5 -1.5v3M431 303.5h3m-1.5 -1.5v3M432 303.5h3m-1.5 -1.5v3M433 303.5h3m-1.5 -1.5v3M434 303.5h3m-1.5 -1.5v3M434 304.5h3m-1.5 -1.5v3M435 304.5h3m-1.5 -1.5v3M435 305.5h3m-1.5 -1.5v3M436 305.5h3m-1.5 -1.5v3M436 306.5h3m-1.5 -1.5v3M437 306.5h3m-1.5 -1.5v3M437 307.5h3m-1.5 -1.5v3M438 307.5h3m-1.5 -1.5v3M438 308.5h3m-1.5 -1.5v3M439 308.5h3m-1.5 -1.5v3M439 309.5h3m-1.5 -1.5v3M440 309.5h3m-1.5 -1.5v3M441 309.5h3m-1.5 -1.5v3M441 308.5h3m-1.5 -1.5v3M442 308.5h3m-1.5 -1.5v3M443 308.5h3m-1.5 -1.5v3M447 309.5h3m-1.5 -1.5v3M448 309.5h3m-1.5 -1.5v3M449 309.5h3m-1.5 -1.5v3M449 310.5h3m-1.5 -1.5v3M450 310.5h3m-1.5 -1.5v3M451 311.5h3m-1.5 -1.5v3M452 311.5h3m-1.5 -1.5v3M452 312.5h3m-1.5 -1.5v3M453 312.5h3m-1.5 -1.5v3M86 319.5h3m-1.5 -1.5v3M86 321.5h3m-1.5 -1.5v3M87 326.5h3m-1.5 -1.5v3M87 324.5h3m-1.5 -1.5v3M88 324.5h3m-1.5 -1.5v3M88 323.5h3m-1.5 -1.5v3M89 325.5h3m-1.5 -1.5v3M89 327.5h3m-1.5 -1.5v3M90 326.5h3m-1.5 -1.5v3M90 325.5h3m-1.5 -1.5v3M91 325.5h3m-1.5 -1.5v3M92 326.5h3m-1.5 -1.5v3M93 326.5h3m-1.5 -1.5v3M93 327.5h3m-1.5 -1.5v3M93 331.5h3m-1.5 -1.5v3M94 334.5h3m-1.5 -1.5v3M94 335.5h3m-1.5 -1.5v3M95 339.5h3m-1.5 -1.5v3M95 337.5h3m-1.5 -1.5v3M95 338.5h3m-1.5 -1.5v3M96 336.5h3m-1.5 -1.5v3M96 338.5h3m-1.5 -1.5v3M97 337.5h3m-1.5 -1.5v3M97 336.5h3m-1.5 -1.5v3M98 335.5h3m-1.5 -1.5v3M98 337.5h3m-1.5 -1.5v3M99 336.5h3m-1.5 -1.5v3M99 335.5h3m-1.5 -1.5v3M100 337.5h3m-1.5 -1.5v3M100 336.5h3m-1.5 -1.5v3M100 338.5h3m-1.5 -1.5v3M101 337.5h3m-1.5 -1.5v3M101 338.5h3m-1.5 -1.5v3M101 339.5h3m-1.5 -1.5v3M102 336.5h3m-1.5 -1.5v3M102 338.5h3m-1.5 -1.5v3M102 337.5h3m-1.5 -1.5v3M103 339.5h3m-1.5 -1.5v3M103 338.5h3m-1.5 -1.5v3M104 337.5h3m-1.5 -1.5v3M104 338.5h3m-1.5 -1.5v3M104 339.5h3m-1.5 -1.5v3M105 339.5h3m-1.5 -1.5v3M105 342.5h3m-1.5 -1.5v3M106 343.5h3m-1.5 -1.5v3M106 342.5h3m-1.5 -1.5v3M107 345.5h3m-1.5 -1.5v3M108 347.5h3m-1.5 -1.5v3M108 349.5h3m-1.5 -1.5v3M109 351.5h3m-1.5 -1.5v3M109 350.5h3m-1.5 -1.5v3M110 353.5h3m-1.5 -1.5v3M110 354.5h3m-1.5 -1.5v3M110 357.5h3m-1.5 -1.5v3M111 357.5h3m-1.5 -1.5v3M111 360.5h3m-1.5 -1.5v3M111 362.5h3m-1.5 -1.5v3M112 365.5h3m-1.5 -1.5v3M112 370.5h3m-1.5 -1.5v3M113 373.5h3m-1.5 -1.5v3M113 376.5h3m-1.5 -1.5v3M113 377.5h3m-1.5 -1.5v3M113 379.5h3m-1.5 -1.5v3M114 381.5h3m-1.5 -1.5v3M114 384.5h3m-1.5 -1.5v3M114 387.5h3m-1.5 -1.5v3M114 386.5h3m-1.5 -1.5v3M115 389.5h3m-1.5 -1.5v3M116 387.5h3m-1.5 -1.5v3M116 388.5h3m-1.5 -1.5v3M116 389.5h3m-1.5 -1.5v3M117 391.5h3m-1.5 -1.5v3M117 393.5h3m-1.5 -1.5v3M118 393.5h3m-1.5 -1.5v3M118 395.5h3m-1.5 -1.5v3M119 395.5h3m-1.5 -1.5v3M119 396.5h3m-1.5 -1.5v3M119 397.5h3m-1.5 -1.5v3M120 398.5h3m-1.5 -1.5v3M120 399.5h3m-1.5 -1.5v3M121 398.5h3m-1.5 -1.5v3M121 399.5h3m-1.5 -1.5v3M121 401.5h3m-1.5 -1.5v3M122 401.5h3m-1.5 -1.5v3M122 402.5h3m-1.5 -1.5v3M123 403.5h3m-1.5 -1.5v3M123 404.5h3m-1.5 -1.5v3M124 403.5h3m-1.5 -1.5v3M124 402.5h3m-1.5 -1.5v3M124 404.5h3m-1.5 -1.5v3M125 404.5h3m-1.5 -1.5v3M126 405.5h3m-1.5 -1.5v3M126 409.5h3m-1.5 -1.5v3M127 406.5h3m-1.5 -1.5v3M128 406.5h3m-1.5 -1.5v3M129 407.5h3m-1.5 -1.5v3M129 409.5h3m-1.5 -1.5v3M130 407.5h3m-1.5 -1.5v3M130 408.5h3m-1.5 -1.5v3M131 409.5h3m-1.5 -1.5v3M131 412.5h3m-1.5 -1.5v3M131 413.5h3m-1.5 -1.5v3M132 416.5h3m-1.5 -1.5v3M133 416.5h3m-1.5 -1.5v3M133 418.5h3m-1.5 -1.5v3M133 419.5h3m-1.5 -1.5v3M134 420.5h3m-1.5 -1.5v3M134 421.5h3m-1.5 -1.5v3M135 421.5h3m-1.5 -1.5v3M136 420.5h3m-1.5 -1.5v3M136 419.5h3m-1.5 -1.5v3M137 419.5h3m-1.5 -1.5v3M138 419.5h3m-1.5 -1.5v3M138 420.5h3m-1.5 -1.5v3M139 420.5h3m-1.5 -1.5v3M139 419.5h3m-1.5 -1.5v3M139 418.5h3m-1.5 -1.5v3M140 415.5h3m-1.5 -1.5v3M141 414.5h3m-1.5 -1.5v3M141 415.5h3m-1.5 -1.5v3M142 414.5h3m-1.5 -1.5v3M142 415.5h3m-1.5 -1.5v3M143 415.5h3m-1.5 -1.5v3M143 414.5h3m-1.5 -1.5v3M143 411.5h3m-1.5 -1.5v3M144 409.5h3m-1.5 -1.5v3M144 408.5h3m-1.5 -1.5v3M144 406.5h3m-1.5 -1.5v3M144 405.5h3m-1.5 -1.5v3M145 404.5h3m-1.5 -1.5v3M145 402.5h3m-1.5 -1.5v3M145 401.5h3m-1.5 -1.5v3M145 399.5h3m-1.5 -1.5v3M146 395.5h3m-1.5 -1.5v3M146 393.5h3m-1.5 -1.5v3M146 391.5h3m-1.5 -1.5v3M146 389.5h3m-1.5 -1.5v3M147 386.5h3m-1.5 -1.5v3M147 384.5h3m-1.5 -1.5v3M147 383.5h3m-1.5 -1.5v3M147 382.5h3m-1.5 -1.5v3M148 381.5h3m-1.5 -1.5v3M148 382.5h3m-1.5 -1.5v3M148 383.5h3m-1.5 -1.5v3M149 383.5h3m-1.5 -1.5v3M149 384.5h3m-1.5 -1.5v3M150 384.5h3m-1.5 -1.5v3M150 385.5h3m-1.5 -1.5v3M151 386.5h3m-1.5 -1.5v3M151 387.5h3m-1.5 -1.5v3M152 387.5h3m-1.5 -1.5v3M152 388.5h3m-1.5 -1.5v3M153 388.5h3m-1.5 -1.5v3M154 388.5h3m-1.5 -1.5v3M155 388.5h3m-1.5 -1.5v3M155 387.5h3m-1.5 -1.5v3M156 386.5h3m-1.5 -1.5v3M156 385.5h3m-1.5 -1.5v3M156 384.5h3m-1.5 -1.5v3M157 384.5h3m-1.5 -1.5v3M157 383.5h3m-1.5 -1.5v3M157 382.5h3m-1.5 -1.5v3M158 381.5h3m-1.5 -1.5v3M158 380.5h3m-1.5 -1.5v3M158 379.5h3m-1.5 -1.5v3M159 378.5h3m-1.5 -1.5v3M159 377.5h3m-1.5 -1.5v3M159 376.5h3m-1.5 -1.5v3M160 376.5h3m-1.5 -1.5v3M160 375.5h3m-1.5 -1.5v3M160 374.5h3m-1.5 -1.5v3M161 375.5h3m-1.5 -1.5v3M161 374.5h3m-1.5 -1.5v3M162 374.5h3m-1.5 -1.5v3M162 375.5h3m-1.5 -1.5v3M163 374.5h3m-1.5 -1.5v3M163 373.5h3m-1.5 -1.5v3M164 374.5h3m-1.5 -1.5v3M164 373.5h3m-1.5 -1.5v3M165 374.5h3m-1.5 -1.5v3M166 373.5h3m-1.5 -1.5v3M167 373.5h3m-1.5 -1.5v3M167 374.5h3m-1.5 -1.5v3M168 374.5h3m-1.5 -1.5v3M169 374.5h3m-1.5 -1.5v3M169 375.5h3m-1.5 -1.5v3M170 374.5h3m-1.5 -1.5v3M170 373.5h3m-1.5 -1.5v3M171 373.5h3m-1.5 -1.5v3M171 372.5h3m-1.5 -1.5v3M171 371.5h3m-1.5 -1.5v3M172 370.5h3m-1.5 -1.5v3M172 369.5h3m-1.5 -1.5v3M173 369.5h3m-1.5 -1.5v3M173 368.5h3m-1.5 -1.5v3M173 367.5h3m-1.5 -1.5v3M174 367.5h3m-1.5 -1.5v3M174 366.5h3m-1.5 -1.5v3M175 367.5h3m-1.5 -1.5v3M175 366.5h3m-1.5 -1.5v3M176 367.5h3m-1.5 -1.5v3M177 367.5h3m-1.5 -1.5v3M177 368.5h3m-1.5 -1.5v3M178 368.5h3m-1.5 -1.5v3M179 367.5h3m-1.5 -1.5v3M180 367.5h3m-1.5 -1.5v3M180 366.5h3m-1.5 -1.5v3M181 366.5h3m-1.5 -1.5v3M181 365.5h3m-1.5 -1.5v3M182 364.5h3m-1.5 -1.5v3M183 363.5h3m-1.5 -1.5v3M183 362.5h3m-1.5 -1.5v3M184 362.5h3m-1.5 -1.5v3M184 361.5h3m-1.5 -1.5v3M185 361.5h3m-1.5 -1.5v3M185 360.5h3m-1.5 -1.5v3M186 360.5h3m-1.5 -1.5v3M186 359.5h3m-1.5 -1.5v3M187 358.5h3m-1.5 -1.5v3M188 357.5h3m-1.5 -1.5v3M189 357.5h3m-1.5 -1.5v3M189 356.5h3m-1.5 -1.5v3M190 356.5h3m-1.5 -1.5v3M190 355.5h3m-1.5 -1.5v3M191 355.5h3m-1.5 -1.5v3M192 355.5h3m-1.5 -1.5v3M193 355.5h3m-1.5 -1.5v3M194 355.5h3m-1.5 -1.5v3M195 355.5h3m-1.5 -1.5v3M196 355.5h3m-1.5 -1.5v3M196 354.5h3m-1.5 -1.5v3M197 354.5h3m-1.5 -1.5v3M197 353.5h3m-1.5 -1.5v3M198 353.5h3m-1.5 -1.5v3M199 353.5h3m-1.5 -1.5v3M200 353.5h3m-1.5 -1.5v3M200 354.5h3m-1.5 -1.5v3M201 354.5h3m-1.5 -1.5v3M202 354.5h3m-1.5 -1.5v3M203 355.5h3m-1.5 -1.5v3M203 354.5h3m-1.5 -1.5v3M204 355.5h3m-1.5 -1.5v3M205 355.5h3m-1.5 -1.5v3M206 356.5h3m-1.5 -1.5v3M207 356.5h3m-1.5 -1.5v3M207 357.5h3m-1.5 -1.5v3M208 357.5h3m-1.5 -1.5v3M209 357.5h3m-1.5 -1.5v3M209 358.5h3m-1.5 -1.5v3M210 358.5h3m-1.5 -1.5v3M211 358.5h3m-1.5 -1.5v3M211 359.5h3m-1.5 -1.5v3M212 359.5h3m-1.5 -1.5v3M213 359.5h3m-1.5 -1.5v3M214 359.5h3m-1.5 -1.5v3M215 359.5h3m-1.5 -1.5v3M216 359.5h3m-1.5 -1.5v3M217 359.5h3m-1.5 -1.5v3M218 359.5h3m-1.5 -1.5v3M219 359.5h3m-1.5 -1.5v3M219 360.5h3m-1.5 -1.5v3M220 360.5h3m-1.5 -1.5v3M220 361.5h3m-1.5 -1.5v3M221 361.5h3m-1.5 -1.5v3M222 361.5h3m-1.5 -1.5v3M222 362.5h3m-1.5 -1.5v3M223 362.5h3m-1.5 -1.5v3M223 363.5h3m-1.5 -1.5v3M224 362.5h3m-1.5 -1.5v3M224 363.5h3m-1.5 -1.5v3M225 363.5h3m-1.5 -1.5v3M225 364.5h3m-1.5 -1.5v3M226 364.5h3m-1.5 -1.5v3M227 364.5h3m-1.5 -1.5v3M227 365.5h3m-1.5 -1.5v3M228 365.5h3m-1.5 -1.5v3M229 366.5h3m-1.5 -1.5v3M230 366.5h3m-1.5 -1.5v3M230 365.5h3m-1.5 -1.5v3M231 366.5h3m-1.5 -1.5v3M232 366.5h3m-1.5 -1.5v3M233 366.5h3m-1.5 -1.5v3M233 367.5h3m-1.5 -1.5v3M234 367.5h3m-1.5 -1.5v3M234 368.5h3m-1.5 -1.5v3M235 368.5h3m-1.5 -1.5v3M236 368.5h3m-1.5 -1.5v3M236 369.5h3m-1.5 -1.5v3M237 369.5h3m-1.5 -1.5v3M237 370.5h3m-1.5 -1.5v3M238 370.5h3m-1.5 -1.5v3M238 371.5h3m-1.5 -1.5v3M239 371.5h3m-1.5 -1.5v3M240 371.5h3m-1.5 -1.5v3M240 372.5h3m-1.5 -1.5v3M241 372.5h3m-1.5 -1.5v3M242 372.5h3m-1.5 -1.5v3M242 373.5h3m-1.5 -1.5v3M243 372.5h3m-1.5 -1.5v3M243 373.5h3m-1.5 -1.5v3M244 373.5h3m-1.5 -1.5v3M245 373.5h3m-1.5 -1.5v3M246 373.5h3m-1.5 -1.5v3M247 373.5h3m-1.5 -1.5v3M248 373.5h3m-1.5 -1.5v3M249 373.5h3m-1.5 -1.5v3M249 372.5h3m-1.5 -1.5v3M250 372.5h3m-1.5 -1.5v3M251 372.5h3m-1.5 -1.5v3M252 372.5h3m-1.5 -1.5v3M253 372.5h3m-1.5 -1.5v3M253 373.5h3m-1.5 -1.5v3M254 373.5h3m-1.5 -1.5v3M255 373.5h3m-1.5 -1.5v3M256 373.5h3m-1.5 -1.5v3M257 373.5h3m-1.5 -1.5v3M257 374.5h3m-1.5 -1.5v3M258 375.5h3m-1.5 -1.5v3M259 375.5h3m-1.5 -1.5v3M259 376.5h3m-1.5 -1.5v3M260 376.5h3m-1.5 -1.5v3M260 377.5h3m-1.5 -1.5v3M261 377.5h3m-1.5 -1.5v3M262 378.5h3m-1.5 -1.5v3M263 378.5h3m-1.5 -1.5v3M264 378.5h3m-1.5 -1.5v3M265 378.5h3m-1.5 -1.5v3M265 377.5h3m-1.5 -1.5v3M266 377.5h3m-1.5 -1.5v3M266 376.5h3m-1.5 -1.5v3M266 375.5h3m-1.5 -1.5v3M267 375.5h3m-1.5 -1.5v3M267 374.5h3m-1.5 -1.5v3M267 373.5h3m-1.5 -1.5v3M268 373.5h3m-1.5 -1.5v3M268 372.5h3m-1.5 -1.5v3M268 371.5h3m-1.5 -1.5v3M269 371.5h3m-1.5 -1.5v3M269 370.5h3m-1.5 -1.5v3M269 369.5h3m-1.5 -1.5v3M270 368.5h3m-1.5 -1.5v3M270 367.5h3m-1.5 -1.5v3M270 366.5h3m-1.5 -1.5v3M271 366.5h3m-1.5 -1.5v3M271 365.5h3m-1.5 -1.5v3M271 364.5h3m-1.5 -1.5v3M271 363.5h3m-1.5 -1.5v3M272 362.5h3m-1.5 -1.5v3M272 361.5h3m-1.5 -1.5v3M272 360.5h3m-1.5 -1.5v3M273 358.5h3m-1.5 -1.5v3M273 357.5h3m-1.5 -1.5v3M273 356.5h3m-1.5 -1.5v3M273 355.5h3m-1.5 -1.5v3M274 354.5h3m-1.5 -1.5v3M274 352.5h3m-1.5 -1.5v3M274 351.5h3m-1.5 -1.5v3M274 350.5h3m-1.5 -1.5v3M275 348.5h3m-1.5 -1.5v3M275 347.5h3m-1.5 -1.5v3M275 346.5h3m-1.5 -1.5v3M275 345.5h3m-1.5 -1.5v3M276 344.5h3m-1.5 -1.5v3M276 342.5h3m-1.5 -1.5v3M276 341.5h3m-1.5 -1.5v3M276 340.5h3m-1.5 -1.5v3M276 339.5h3m-1.5 -1.5v3M277 338.5h3m-1.5 -1.5v3M277 337.5h3m-1.5 -1.5v3M277 336.5h3m-1.5 -1.5v3M277 335.5h3m-1.5 -1.5v3M278 334.5h3m-1.5 -1.5v3M278 332.5h3m-1.5 -1.5v3M278 331.5h3m-1.5 -1.5v3M278 329.5h3m-1.5 -1.5v3M279 328.5h3m-1.5 -1.5v3M279 327.5h3m-1.5 -1.5v3M279 326.5h3m-1.5 -1.5v3M279 325.5h3m-1.5 -1.5v3M280 324.5h3m-1.5 -1.5v3M280 323.5h3m-1.5 -1.5v3M280 322.5h3m-1.5 -1.5v3M280 321.5h3m-1.5 -1.5v3M281 320.5h3m-1.5 -1.5v3M282 319.5h3m-1.5 -1.5v3M283 319.5h3m-1.5 -1.5v3M283 320.5h3m-1.5 -1.5v3M284 320.5h3m-1.5 -1.5v3M285 321.5h3m-1.5 -1.5v3M285 322.5h3m-1.5 -1.5v3M286 322.5h3m-1.5 -1.5v3M286 323.5h3m-1.5 -1.5v3M287 323.5h3m-1.5 -1.5v3M288 324.5h3m-1.5 -1.5v3M288 325.5h3m-1.5 -1.5v3M289 325.5h3m-1.5 -1.5v3M289 326.5h3m-1.5 -1.5v3M290 327.5h3m-1.5 -1.5v3M291 328.5h3m-1.5 -1.5v3M292 329.5h3m-1.5 -1.5v3M293 330.5h3m-1.5 -1.5v3M293 331.5h3m-1.5 -1.5v3M294 331.5h3m-1.5 -1.5v3M294 332.5h3m-1.5 -1.5v3M295 332.5h3m-1.5 -1.5v3M296 333.5h3m-1.5 -1.5v3M297 333.5h3m-1.5 -1.5v3M297 334.5h3m-1.5 -1.5v3M298 335.5h3m-1.5 -1.5v3M298 336.5h3m-1.5 -1.5v3M299 336.5h3m-1.5 -1.5v3M299 337.5h3m-1.5 -1.5v3M299 338.5h3m-1.5 -1.5v3M300 339.5h3m-1.5 -1.5v3M300 340.5h3m-1.5 -1.5v3M300 341.5h3m-1.5 -1.5v3M301 341.5h3m-1.5 -1.5v3M301 342.5h3m-1.5 -1.5v3M301 343.5h3m-1.5 -1.5v3M302 343.5h3m-1.5 -1.5v3M302 344.5h3m-1.5 -1.5v3M303 344.5h3m-1.5 -1.5v3M303 343.5h3m-1.5 -1.5v3M304 343.5h3m-1.5 -1.5v3M305 343.5h3m-1.5 -1.5v3M305 344.5h3m-1.5 -1.5v3M306 343.5h3m-1.5 -1.5v3M307 343.5h3m-1.5 -1.5v3M308 343.5h3m-1.5 -1.5v3M309 343.5h3m-1.5 -1.5v3M309 342.5h3m-1.5 -1.5v3M310 343.5h3m-1.5 -1.5v3M310 342.5h3m-1.5 -1.5v3M311 342.5h3m-1.5 -1.5v3M312 342.5h3m-1.5 -1.5v3M313 342.5h3m-1.5 -1.5v3M313 341.5h3m-1.5 -1.5v3M314 341.5h3m-1.5 -1.5v3M315 340.5h3m-1.5 -1.5v3M316 340.5h3m-1.5 -1.5v3M317 339.5h3m-1.5 -1.5v3M318 339.5h3m-1.5 -1.5v3M318 338.5h3m-1.5 -1.5v3M319 338.5h3m-1.5 -1.5v3M319 337.5h3m-1.5 -1.5v3M320 337.5h3m-1.5 -1.5v3M321 336.5h3m-1.5 -1.5v3M322 336.5h3m-1.5 -1.5v3M322 335.5h3m-1.5 -1.5v3M323 335.5h3m-1.5 -1.5v3M324 335.5h3m-1.5 -1.5v3M324 334.5h3m-1.5 -1.5v3M325 334.5h3m-1.5 -1.5v3M325 333.5h3m-1.5 -1.5v3M326 333.5h3m-1.5 -1.5v3M326 332.5h3m-1.5 -1.5v3M327 332.5h3m-1.5 -1.5v3M328 332.5h3m-1.5 -1.5v3M328 331.5h3m-1.5 -1.5v3M329 331.5h3m-1.5 -1.5v3M329 330.5h3m-1.5 -1.5v3M330 330.5h3m-1.5 -1.5v3M331 329.5h3m-1.5 -1.5v3M332 329.5h3m-1.5 -1.5v3M332 328.5h3m-1.5 -1.5v3M333 328.5h3m-1.5 -1.5v3M333 327.5h3m-1.5 -1.5v3M334 327.5h3m-1.5 -1.5v3M334 326.5h3m-1.5 -1.5v3M335 326.5h3m-1.5 -1.5v3M336 325.5h3m-1.5 -1.5v3M337 325.5h3m-1.5 -1.5v3M338 325.5h3m-1.5 -1.5v3M338 324.5h3m-1.5 -1.5v3M339 324.5h3m-1.5 -1.5v3M340 324.5h3m-1.5 -1.5v3M340 323.5h3m-1.5 -1.5v3M341 323.5h3m-1.5 -1.5v3M342 323.5h3m-1.5 -1.5v3M342 322.5h3m-1.5 -1.5v3M343 322.5h3m-1.5 -1.5v3M344 322.5h3m-1.5 -1.5v3M345 322.5h3m-1.5 -1.5v3M346 322.5h3m-1.5 -1.5v3M346 321.5h3m-1.5 -1.5v3M347 321.5h3m-1.5 -1.5v3M348 322.5h3m-1.5 -1.5v3M348 321.5h3m-1.5 -1.5v3M349 322.5h3m-1.5 -1.5v3M349 321.5h3m-1.5 -1.5v3M350 322.5h3m-1.5 -1.5v3M351 321.5h3m-1.5 -1.5v3M351 322.5h3m-1.5 -1.5v3M352 322.5h3m-1.5 -1.5v3M352 321.5h3m-1.5 -1.5v3M353 322.5h3m-1.5 -1.5v3M354 322.5h3m-1.5 -1.5v3M354 321.5h3m-1.5 -1.5v3M355 321.5h3m-1.5 -1.5v3M355 320.5h3m-1.5 -1.5v3M356 320.5h3m-1.5 -1.5v3M357 320.5h3m-1.5 -1.5v3M357 319.5h3m-1.5 -1.5v3M358 319.5h3m-1.5 -1.5v3M359 319.5h3m-1.5 -1.5v3M359 318.5h3m-1.5 -1.5v3M360 318.5h3m-1.5 -1.5v3M361 318.5h3m-1.5 -1.5v3M361 317.5h3m-1.5 -1.5v3M362 317.5h3m-1.5 -1.5v3M362 316.5h3m-1.5 -1.5v3M363 316.5h3m-1.5 -1.5v3M363 315.5h3m-1.5 -1.5v3M364 315.5h3m-1.5 -1.5v3M364 314.5h3m-1.5 -1.5v3M365 314.5h3m-1.5 -1.5v3M366 314.5h3m-1.5 -1.5v3M366 313.5h3m-1.5 -1.5v3M367 313.5h3m-1.5 -1.5v3M367 312.5h3m-1.5 -1.5v3M368 312.5h3m-1.5 -1.5v3M368 311.5h3m-1.5 -1.5v3M369 310.5h3m-1.5 -1.5v3M369 309.5h3m-1.5 -1.5v3M370 309.5h3m-1.5 -1.5v3M371 309.5h3m-1.5 -1.5v3M371 308.5h3m-1.5 -1.5v3M372 307.5h3m-1.5 -1.5v3M372 306.5h3m-1.5 -1.5v3M373 306.5h3m-1.5 -1.5v3M373 305.5h3m-1.5 -1.5v3M374 305.5h3m-1.5 -1.5v3M374 304.5h3m-1.5 -1.5v3M375 304.5h3m-1.5 -1.5v3M375 303.5h3m-1.5 -1.5v3M376 302.5h3m-1.5 -1.5v3M376 301.5h3m-1.5 -1.5v3M377 301.5h3m-1.5 -1.5v3M377 300.5h3m-1.5 -1.5v3M378 300.5h3m-1.5 -1.5v3M378 299.5h3m-1.5 -1.5v3M379 298.5h3m-1.5 -1.5v3M379 297.5h3m-1.5 -1.5v3M380 297.5h3m-1.5 -1.5v3M380 296.5h3m-1.5 -1.5v3M380 295.5h3m-1.5 -1.5v3M381 295.5h3m-1.5 -1.5v3M381 294.5h3m-1.5 -1.5v3M382 294.5h3m-1.5 -1.5v3M382 293.5h3m-1.5 -1.5v3M383 293.5h3m-1.5 -1.5v3M383 292.5h3m-1.5 -1.5v3M384 291.5h3m-1.5 -1.5v3M385 290.5h3m-1.5 -1.5v3M386 289.5h3m-1.5 -1.5v3M387 289.5h3m-1.5 -1.5v3M387 288.5h3m-1.5 -1.5v3M388 288.5h3m-1.5 -1.5v3M389 288.5h3m-1.5 -1.5v3M389 287.5h3m-1.5 -1.5v3M390 287.5h3m-1.5 -1.5v3M391 287.5h3m-1.5 -1.5v3M391 286.5h3m-1.5 -1.5v3M392 286.5h3m-1.5 -1.5v3M393 286.5h3m-1.5 -1.5v3M394 286.5h3m-1.5 -1.5v3M395 286.5h3m-1.5 -1.5v3M396 286.5h3m-1.5 -1.5v3M397 286.5h3m-1.5 -1.5v3M398 286.5h3m-1.5 -1.5v3M399 286.5h3m-1.5 -1.5v3M400 286.5h3m-1.5 -1.5v3M401 286.5h3m-1.5 -1.5v3M402 285.5h3m-1.5 -1.5v3M402 286.5h3m-1.5 -1.5v3M403 285.5h3m-1.5 -1.5v3M404 285.5h3m-1.5 -1.5v3M404 286.5h3m-1.5 -1.5v3M405 286.5h3m-1.5 -1.5v3M406 286.5h3m-1.5 -1.5v3M406 287.5h3m-1.5 -1.5v3M407 287.5h3m-1.5 -1.5v3M408 288.5h3m-1.5 -1.5v3M408 289.5h3m-1.5 -1.5v3M409 289.5h3m-1.5 -1.5v3M409 290.5h3m-1.5 -1.5v3M410 290.5h3m-1.5 -1.5v3M410 291.5h3m-1.5 -1.5v3M411 292.5h3m-1.5 -1.5v3M411 293.5h3m-1.5 -1.5v3M412 293.5h3m-1.5 -1.5v3M412 294.5h3m-1.5 -1.5v3M412 295.5h3m-1.5 -1.5v3M413 295.5h3m-1.5 -1.5v3M413 296.5h3m-1.5 -1.5v3M414 297.5h3m-1.5 -1.5v3M414 298.5h3m-1.5 -1.5v3M415 298.5h3m-1.5 -1.5v3M415 299.5h3m-1.5 -1.5v3M416 300.5h3m-1.5 -1.5v3M416 301.5h3m-1.5 -1.5v3M417 301.5h3m-1.5 -1.5v3M417 302.5h3m-1.5 -1.5v3M418 303.5h3m-1.5 -1.5v3M418 304.5h3m-1.5 -1.5v3M419 304.5h3m-1.5 -1.5v3M419 305.5h3m-1.5 -1.5v3M420 305.5h3m-1.5 -1.5v3M420 306.5h3m-1.5 -1.5v3M421 306.5h3m-1.5 -1.5v3M421 307.5h3m-1.5 -1.5v3M422 307.5h3m-1.5 -1.5v3M422 308.5h3m-1.5 -1.5v3M423 308.5h3m-1.5 -1.5v3M423 309.5h3m-1.5 -1.5v3M424 310.5h3m-1.5 -1.5v3M425 311.5h3m-1.5 -1.5v3M425 312.5h3m-1.5 -1.5v3M426 312.5h3m-1.5 -1.5v3M427 312.5h3m-1.5 -1.5v3M427 313.5h3m-1.5 -1.5v3M428 313.5h3m-1.5 -1.5v3M428 314.5h3m-1.5 -1.5v3M429 314.5h3m-1.5 -1.5v3M429 315.5h3m-1.5 -1.5v3M430 315.5h3m-1.5 -1.5v3M430 316.5h3m-1.5 -1.5v3M431 316.5h3m-1.5 -1.5v3M431 317.5h3m-1.5 -1.5v3M432 317.5h3m-1.5 -1.5v3M432 318.5h3m-1.5 -1.5v3M433 318.5h3m-1.5 -1.5v3M433 319.5h3m-1.5 -1.5v3M434 319.5h3m-1.5 -1.5v3M434 320.5h3m-1.5 -1.5v3M435 321.5h3m-1.5 -1.5v3M436 321.5h3m-1.5 -1.5v3M436 322.5h3m-1.5 -1.5v3M437 322.5h3m-1.5 -1.5v3M437 323.5h3m-1.5 -1.5v3M438 323.5h3m-1.5 -1.5v3M438 324.5h3m-1.5 -1.5v3M439 324.5h3m-1.5 -1.5v3M439 325.5h3m-1.5 -1.5v3M440 325.5h3m-1.5 -1.5v3M441 325.5h3m-1.5 -1.5v3M442 326.5h3m-1.5 -1.5v3M443 326.5h3m-1.5 -1.5v3M443 327.5h3m-1.5 -1.5v3M444 327.5h3m-1.5 -1.5v3M444 328.5h3m-1.5 -1.5v3M445 328.5h3m-1.5 -1.5v3M446 329.5h3m-1.5 -1.5v3M447 330.5h3m-1.5 -1.5v3M447 331.5h3m-1.5 -1.5v3M448 332.5h3m-1.5 -1.5v3M448 333.5h3m-1.5 -1.5v3M449 334.5h3m-1.5 -1.5v3M449 335.5h3m-1.5 -1.5v3M450 336.5h3m-1.5 -1.5v3M450 337.5h3m-1.5 -1.5v3M451 338.5h3m-1.5 -1.5v3M451 339.5h3m-1.5 -1.5v3M452 340.5h3m-1.5 -1.5v3M452 341.5h3m-1.5 -1.5v3M453 342.5h3m-1.5 -1.5v3M453 343.5h3m-1.5 -1.5v3M454 343.5h3m-1.5 -1.5v3M454 344.5h3m-1.5 -1.5v3M454 345.5h3m-1.5 -1.5v3M455 345.5h3m-1.5 -1.5v3M455 346.5h3m-1.5 -1.5v3M455 347.5h3m-1.5 -1.5v3M456 347.5h3m-1.5 -1.5v3M456 348.5h3m-1.5 -1.5v3M456 349.5h3m-1.5 -1.5v3M457 349.5h3m-1.5 -1.5v3M457 350.5h3m-1.5 -1.5v3M457 351.5h3m-1.5 -1.5v3M458 352.5h3m-1.5 -1.5v3M458 353.5h3m-1.5 -1.5v3M459 353.5h3m-1.5 -1.5v3M459 354.5h3m-1.5 -1.5v3M460 355.5h3m-1.5 -1.5v3M460 356.5h3m-1.5 -1.5v3M461 356.5h3m-1.5 -1.5v3M461 357.5h3m-1.5 -1.5v3M462 358.5h3m-1.5 -1.5v3M462 359.5h3m-1.5 -1.5v3M463 359.5h3m-1.5 -1.5v3M463 360.5h3m-1.5 -1.5v3M464 361.5h3m-1.5 -1.5v3M465 362.5h3m-1.5 -1.5v3M465 363.5h3m-1.5 -1.5v3M466 363.5h3m-1.5 -1.5v3M466 364.5h3m-1.5 -1.5v3M467 364.5h3m-1.5 -1.5v3M467 365.5h3m-1.5 -1.5v3M468 365.5h3m-1.5 -1.5v3M468 366.5h3m-1.5 -1.5v3M469 367.5h3m-1.5 -1.5v3M470 368.5h3m-1.5 -1.5v3M470 369.5h3m-1.5 -1.5v3M471 369.5h3m-1.5 -1.5v3M472 369.5h3m-1.5 -1.5v3M473 370.5h3m-1.5 -1.5v3M474 370.5h3m-1.5 -1.5v3M474 371.5h3m-1.5 -1.5v3M475 371.5h3m-1.5 -1.5v3M476 371.5h3m-1.5 -1.5v3M476 372.5h3m-1.5 -1.5v3M477 372.5h3m-1.5 -1.5v3M477 373.5h3m-1.5 -1.5v3M478 373.5h3m-1.5 -1.5v3M479 374.5h3m-1.5 -1.5v3M480 374.5h3m-1.5 -1.5v3M481 374.5h3m-1.5 -1.5v3M482 375.5h3m-1.5 -1.5v3M483 375.5h3m-1.5 -1.5v3M484 375.5h3m-1.5 -1.5v3M484 376.5h3m-1.5 -1.5v3M485 376.5h3m-1.5 -1.5v3M485 377.5h3m-1.5 -1.5v3M486 377.5h3m-1.5 -1.5v3M486 376.5h3m-1.5 -1.5v3M487 376.5h3m-1.5 -1.5v3M488 376.5h3m-1.5 -1.5v3M489 375.5h3m-1.5 -1.5v3M490 375.5h3m-1.5 -1.5v3M491 375.5h3m-1.5 -1.5v3M491 374.5h3m-1.5 -1.5v3M492 374.5h3m-1.5 -1.5v3M493 374.5h3m-1.5 -1.5v3M493 373.5h3m-1.5 -1.5v3M494 373.5h3m-1.5 -1.5v3M495 372.5h3m-1.5 -1.5v3M496 372.5h3m-1.5 -1.5v3M496 371.5h3m-1.5 -1.5v3M497 371.5h3m-1.5 -1.5v3M498 370.5h3m-1.5 -1.5v3M499 370.5h3m-1.5 -1.5v3M500 370.5h3m-1.5 -1.5v3M500 369.5h3m-1.5 -1.5v3M501 370.5h3m-1.5 -1.5v3M501 369.5h3m-1.5 -1.5v3M502 370.5h3m-1.5 -1.5v3M503 370.5h3m-1.5 -1.5v3M503 369.5h3m-1.5 -1.5v3M504 370.5h3m-1.5 -1.5v3M505 370.5h3m-1.5 -1.5v3M506 370.5h3m-1.5 -1.5v3M507 370.5h3m-1.5 -1.5v3M508 370.5h3m-1.5 -1.5v3M508 371.5h3m-1.5 -1.5v3M509 370.5h3m-1.5 -1.5v3M509 371.5h3m-1.5 -1.5v3M510 371.5h3m-1.5 -1.5v3M511 371.5h3m-1.5 -1.5v3M512 371.5h3m-1.5 -1.5v3M125 336.5h3m-1.5 -1.5v3M125 335.5h3m-1.5 -1.5v3M126 335.5h3m-1.5 -1.5v3M126 336.5h3m-1.5 -1.5v3M127 336.5h3m-1.5 -1.5v3M127 337.5h3m-1.5 -1.5v3M128 339.5h3m-1.5 -1.5v3M128 338.5h3m-1.5 -1.5v3M129 340.5h3m-1.5 -1.5v3M131 345.5h3m-1.5 -1.5v3M132 347.5h3m-1.5 -1.5v3M133 350.5h3m-1.5 -1.5v3M133 352.5h3m-1.5 -1.5v3M133 353.5h3m-1.5 -1.5v3M133 356.5h3m-1.5 -1.5v3M134 355.5h3m-1.5 -1.5v3M134 356.5h3m-1.5 -1.5v3M134 357.5h3m-1.5 -1.5v3M134 359.5h3m-1.5 -1.5v3M135 359.5h3m-1.5 -1.5v3M135 360.5h3m-1.5 -1.5v3M136 359.5h3m-1.5 -1.5v3M136 357.5h3m-1.5 -1.5v3M137 356.5h3m-1.5 -1.5v3M138 356.5h3m-1.5 -1.5v3M138 354.5h3m-1.5 -1.5v3M139 355.5h3m-1.5 -1.5v3M139 354.5h3m-1.5 -1.5v3M139 353.5h3m-1.5 -1.5v3M140 352.5h3m-1.5 -1.5v3M140 351.5h3m-1.5 -1.5v3M141 350.5h3m-1.5 -1.5v3M141 351.5h3m-1.5 -1.5v3M142 350.5h3m-1.5 -1.5v3M142 349.5h3m-1.5 -1.5v3M143 350.5h3m-1.5 -1.5v3M143 349.5h3m-1.5 -1.5v3M144 350.5h3m-1.5 -1.5v3M144 349.5h3m-1.5 -1.5v3M145 349.5h3m-1.5 -1.5v3M145 350.5h3m-1.5 -1.5v3M146 349.5h3m-1.5 -1.5v3M146 350.5h3m-1.5 -1.5v3M146 351.5h3m-1.5 -1.5v3M147 351.5h3m-1.5 -1.5v3M147 350.5h3m-1.5 -1.5v3M148 350.5h3m-1.5 -1.5v3M149 350.5h3m-1.5 -1.5v3M149 351.5h3m-1.5 -1.5v3M150 352.5h3m-1.5 -1.5v3M150 353.5h3m-1.5 -1.5v3M151 354.5h3m-1.5 -1.5v3M151 355.5h3m-1.5 -1.5v3M152 356.5h3m-1.5 -1.5v3M152 357.5h3m-1.5 -1.5v3M153 356.5h3m-1.5 -1.5v3M153 355.5h3m-1.5 -1.5v3M154 355.5h3m-1.5 -1.5v3M154 354.5h3m-1.5 -1.5v3M154 353.5h3m-1.5 -1.5v3M155 353.5h3m-1.5 -1.5v3M155 351.5h3m-1.5 -1.5v3M156 350.5h3m-1.5 -1.5v3M156 348.5h3m-1.5 -1.5v3M156 347.5h3m-1.5 -1.5v3M157 347.5h3m-1.5 -1.5v3M157 346.5h3m-1.5 -1.5v3M157 344.5h3m-1.5 -1.5v3M158 343.5h3m-1.5 -1.5v3M158 342.5h3m-1.5 -1.5v3M158 341.5h3m-1.5 -1.5v3M159 340.5h3m-1.5 -1.5v3M159 339.5h3m-1.5 -1.5v3M160 338.5h3m-1.5 -1.5v3M160 337.5h3m-1.5 -1.5v3M161 336.5h3m-1.5 -1.5v3M161 335.5h3m-1.5 -1.5v3M161 334.5h3m-1.5 -1.5v3M162 334.5h3m-1.5 -1.5v3M163 334.5h3m-1.5 -1.5v3M163 333.5h3m-1.5 -1.5v3M164 332.5h3m-1.5 -1.5v3M165 332.5h3m-1.5 -1.5v3M165 331.5h3m-1.5 -1.5v3M166 330.5h3m-1.5 -1.5v3M166 329.5h3m-1.5 -1.5v3M167 329.5h3m-1.5 -1.5v3M167 328.5h3m-1.5 -1.5v3M168 328.5h3m-1.5 -1.5v3M168 327.5h3m-1.5 -1.5v3M169 326.5h3m-1.5 -1.5v3M170 326.5h3m-1.5 -1.5v3M170 325.5h3m-1.5 -1.5v3M171 325.5h3m-1.5 -1.5v3M172 325.5h3m-1.5 -1.5v3M172 324.5h3m-1.5 -1.5v3M173 323.5h3m-1.5 -1.5v3M174 323.5h3m-1.5 -1.5v3M175 323.5h3m-1.5 -1.5v3M176 323.5h3m-1.5 -1.5v3M177 323.5h3m-1.5 -1.5v3M178 323.5h3m-1.5 -1.5v3M179 322.5h3m-1.5 -1.5v3M180 321.5h3m-1.5 -1.5v3M181 320.5h3m-1.5 -1.5v3M181 319.5h3m-1.5 -1.5v3M182 318.5h3m-1.5 -1.5v3M182 317.5h3m-1.5 -1.5v3M183 317.5h3m-1.5 -1.5v3M183 316.5h3m-1.5 -1.5v3M184 315.5h3m-1.5 -1.5v3M184 314.5h3m-1.5 -1.5v3M184 313.5h3m-1.5 -1.5v3M185 313.5h3m-1.5 -1.5v3M185 312.5h3m-1.5 -1.5v3M185 311.5h3m-1.5 -1.5v3M186 311.5h3m-1.5 -1.5v3M186 310.5h3m-1.5 -1.5v3M187 309.5h3m-1.5 -1.5v3M187 308.5h3m-1.5 -1.5v3M188 308.5h3m-1.5 -1.5v3M188 307.5h3m-1.5 -1.5v3M189 307.5h3m-1.5 -1.5v3M189 306.5h3m-1.5 -1.5v3M190 306.5h3m-1.5 -1.5v3M190 305.5h3m-1.5 -1.5v3M191 305.5h3m-1.5 -1.5v3M192 305.5h3m-1.5 -1.5v3M192 304.5h3m-1.5 -1.5v3M193 304.5h3m-1.5 -1.5v3M194 304.5h3m-1.5 -1.5v3M195 304.5h3m-1.5 -1.5v3M196 304.5h3m-1.5 -1.5v3M197 304.5h3m-1.5 -1.5v3M197 303.5h3m-1.5 -1.5v3M198 303.5h3m-1.5 -1.5v3M199 303.5h3m-1.5 -1.5v3M199 302.5h3m-1.5 -1.5v3M200 302.5h3m-1.5 -1.5v3M201 302.5h3m-1.5 -1.5v3M202 302.5h3m-1.5 -1.5v3M202 301.5h3m-1.5 -1.5v3M203 301.5h3m-1.5 -1.5v3M204 301.5h3m-1.5 -1.5v3M205 301.5h3m-1.5 -1.5v3M206 301.5h3m-1.5 -1.5v3M207 301.5h3m-1.5 -1.5v3M210 301.5h3m-1.5 -1.5v3M211 301.5h3m-1.5 -1.5v3M212 301.5h3m-1.5 -1.5v3M213 301.5h3m-1.5 -1.5v3M214 301.5h3m-1.5 -1.5v3M215 301.5h3m-1.5 -1.5v3M216 301.5h3m-1.5 -1.5v3M217 301.5h3m-1.5 -1.5v3M218 301.5h3m-1.5 -1.5v3M219 301.5h3m-1.5 -1.5v3M220 301.5h3m-1.5 -1.5v3M221 301.5h3m-1.5 -1.5v3M222 301.5h3m-1.5 -1.5v3M223 301.5h3m-1.5 -1.5v3M223 302.5h3m-1.5 -1.5v3M224 301.5h3m-1.5 -1.5v3M224 302.5h3m-1.5 -1.5v3M225 302.5h3m-1.5 -1.5v3M226 302.5h3m-1.5 -1.5v3M226 303.5h3m-1.5 -1.5v3M227 303.5h3m-1.5 -1.5v3M228 303.5h3m-1.5 -1.5v3M229 303.5h3m-1.5 -1.5v3M229 304.5h3m-1.5 -1.5v3M230 304.5h3m-1.5 -1.5v3M231 304.5h3m-1.5 -1.5v3M231 305.5h3m-1.5 -1.5v3M232 304.5h3m-1.5 -1.5v3M232 305.5h3m-1.5 -1.5v3M233 305.5h3m-1.5 -1.5v3M234 305.5h3m-1.5 -1.5v3M234 306.5h3m-1.5 -1.5v3M235 306.5h3m-1.5 -1.5v3M236 306.5h3m-1.5 -1.5v3M237 307.5h3m-1.5 -1.5v3M238 307.5h3m-1.5 -1.5v3M239 308.5h3m-1.5 -1.5v3M242 308.5h3m-1.5 -1.5v3M244 309.5h3m-1.5 -1.5v3M245 309.5h3m-1.5 -1.5v3M246 309.5h3m-1.5 -1.5v3M247 309.5h3m-1.5 -1.5v3M248 309.5h3m-1.5 -1.5v3M248 308.5h3m-1.5 -1.5v3M249 308.5h3m-1.5 -1.5v3M249 307.5h3m-1.5 -1.5v3M250 307.5h3m-1.5 -1.5v3M250 306.5h3m-1.5 -1.5v3M251 306.5h3m-1.5 -1.5v3M251 305.5h3m-1.5 -1.5v3M252 305.5h3m-1.5 -1.5v3M252 304.5h3m-1.5 -1.5v3M253 304.5h3m-1.5 -1.5v3M254 304.5h3m-1.5 -1.5v3M254 303.5h3m-1.5 -1.5v3M255 303.5h3m-1.5 -1.5v3M256 303.5h3m-1.5 -1.5v3M257 303.5h3m-1.5 -1.5v3M257 302.5h3m-1.5 -1.5v3M258 302.5h3m-1.5 -1.5v3M259 302.5h3m-1.5 -1.5v3M260 301.5h3m-1.5 -1.5v3M260 302.5h3m-1.5 -1.5v3M261 301.5h3m-1.5 -1.5v3M261 302.5h3m-1.5 -1.5v3M262 302.5h3m-1.5 -1.5v3M262 301.5h3m-1.5 -1.5v3M263 301.5h3m-1.5 -1.5v3M263 302.5h3m-1.5 -1.5v3M264 301.5h3m-1.5 -1.5v3M264 300.5h3m-1.5 -1.5v3M265 299.5h3m-1.5 -1.5v3M266 299.5h3m-1.5 -1.5v3M266 298.5h3m-1.5 -1.5v3M267 298.5h3m-1.5 -1.5v3M267 297.5h3m-1.5 -1.5v3M267 296.5h3m-1.5 -1.5v3M268 296.5h3m-1.5 -1.5v3M268 295.5h3m-1.5 -1.5v3M269 294.5h3m-1.5 -1.5v3M269 293.5h3m-1.5 -1.5v3M269 292.5h3m-1.5 -1.5v3M270 291.5h3m-1.5 -1.5v3M270 290.5h3m-1.5 -1.5v3M270 289.5h3m-1.5 -1.5v3M271 289.5h3m-1.5 -1.5v3M271 288.5h3m-1.5 -1.5v3M271 287.5h3m-1.5 -1.5v3M271 286.5h3m-1.5 -1.5v3M272 286.5h3m-1.5 -1.5v3M272 285.5h3m-1.5 -1.5v3M272 284.5h3m-1.5 -1.5v3M272 283.5h3m-1.5 -1.5v3M273 282.5h3m-1.5 -1.5v3M273 281.5h3m-1.5 -1.5v3M273 280.5h3m-1.5 -1.5v3M273 279.5h3m-1.5 -1.5v3M274 278.5h3m-1.5 -1.5v3M274 277.5h3m-1.5 -1.5v3M274 276.5h3m-1.5 -1.5v3M274 275.5h3m-1.5 -1.5v3M275 274.5h3m-1.5 -1.5v3M275 273.5h3m-1.5 -1.5v3M275 271.5h3m-1.5 -1.5v3M275 270.5h3m-1.5 -1.5v3M276 269.5h3m-1.5 -1.5v3M276 267.5h3m-1.5 -1.5v3M276 266.5h3m-1.5 -1.5v3M276 265.5h3m-1.5 -1.5v3M277 264.5h3m-1.5 -1.5v3M277 263.5h3m-1.5 -1.5v3M277 262.5h3m-1.5 -1.5v3M277 261.5h3m-1.5 -1.5v3M278 259.5h3m-1.5 -1.5v3M278 258.5h3m-1.5 -1.5v3M279 256.5h3m-1.5 -1.5v3M279 255.5h3m-1.5 -1.5v3M279 254.5h3m-1.5 -1.5v3M279 253.5h3m-1.5 -1.5v3M280 252.5h3m-1.5 -1.5v3M280 251.5h3m-1.5 -1.5v3M280 249.5h3m-1.5 -1.5v3M280 248.5h3m-1.5 -1.5v3M281 247.5h3m-1.5 -1.5v3M281 246.5h3m-1.5 -1.5v3M281 245.5h3m-1.5 -1.5v3M281 244.5h3m-1.5 -1.5v3M282 242.5h3m-1.5 -1.5v3M282 241.5h3m-1.5 -1.5v3M282 240.5h3m-1.5 -1.5v3M282 239.5h3m-1.5 -1.5v3M283 238.5h3m-1.5 -1.5v3M283 237.5h3m-1.5 -1.5v3M283 236.5h3m-1.5 -1.5v3M283 235.5h3m-1.5 -1.5v3M284 234.5h3m-1.5 -1.5v3M284 232.5h3m-1.5 -1.5v3M284 231.5h3m-1.5 -1.5v3M284 230.5h3m-1.5 -1.5v3M285 229.5h3m-1.5 -1.5v3M285 228.5h3m-1.5 -1.5v3M285 227.5h3m-1.5 -1.5v3M286 226.5h3m-1.5 -1.5v3M286 225.5h3m-1.5 -1.5v3M286 224.5h3m-1.5 -1.5v3M286 223.5h3m-1.5 -1.5v3M287 222.5h3m-1.5 -1.5v3M287 221.5h3m-1.5 -1.5v3M287 220.5h3m-1.5 -1.5v3M288 219.5h3m-1.5 -1.5v3M288 218.5h3m-1.5 -1.5v3M288 217.5h3m-1.5 -1.5v3M288 216.5h3m-1.5 -1.5v3M289 216.5h3m-1.5 -1.5v3M289 215.5h3m-1.5 -1.5v3M289 214.5h3m-1.5 -1.5v3M289 213.5h3m-1.5 -1.5v3M290 212.5h3m-1.5 -1.5v3M290 211.5h3m-1.5 -1.5v3M290 210.5h3m-1.5 -1.5v3M290 209.5h3m-1.5 -1.5v3M291 208.5h3m-1.5 -1.5v3M291 207.5h3m-1.5 -1.5v3M291 206.5h3m-1.5 -1.5v3M292 206.5h3m-1.5 -1.5v3M292 205.5h3m-1.5 -1.5v3M292 204.5h3m-1.5 -1.5v3M293 203.5h3m-1.5 -1.5v3M293 202.5h3m-1.5 -1.5v3M294 201.5h3m-1.5 -1.5v3M294 200.5h3m-1.5 -1.5v3M295 199.5h3m-1.5 -1.5v3M295 198.5h3m-1.5 -1.5v3M296 197.5h3m-1.5 -1.5v3M296 196.5h3m-1.5 -1.5v3M296 195.5h3m-1.5 -1.5v3M297 195.5h3m-1.5 -1.5v3M297 194.5h3m-1.5 -1.5v3M297 193.5h3m-1.5 -1.5v3M298 193.5h3m-1.5 -1.5v3M298 192.5h3m-1.5 -1.5v3M299 191.5h3m-1.5 -1.5v3M299 190.5h3m-1.5 -1.5v3M300 189.5h3m-1.5 -1.5v3M300 188.5h3m-1.5 -1.5v3M301 187.5h3m-1.5 -1.5v3M301 186.5h3m-1.5 -1.5v3M302 186.5h3m-1.5 -1.5v3M302 185.5h3m-1.5 -1.5v3M303 185.5h3m-1.5 -1.5v3M303 184.5h3m-1.5 -1.5v3M304 183.5h3m-1.5 -1.5v3M304 182.5h3m-1.5 -1.5v3M304 181.5h3m-1.5 -1.5v3M305 181.5h3m-1.5 -1.5v3M305 180.5h3m-1.5 -1.5v3M305 179.5h3m-1.5 -1.5v3M305 178.5h3m-1.5 -1.5v3M306 178.5h3m-1.5 -1.5v3M306 177.5h3m-1.5 -1.5v3M306 176.5h3m-1.5 -1.5v3M307 175.5h3m-1.5 -1.5v3M307 174.5h3m-1.5 -1.5v3M307 173.5h3m-1.5 -1.5v3M308 173.5h3m-1.5 -1.5v3M308 172.5h3m-1.5 -1.5v3M308 171.5h3m-1.5 -1.5v3M309 170.5h3m-1.5 -1.5v3M309 169.5h3m-1.5 -1.5v3M310 168.5h3m-1.5 -1.5v3M310 167.5h3m-1.5 -1.5v3M311 166.5h3m-1.5 -1.5v3M311 165.5h3m-1.5 -1.5v3M312 164.5h3m-1.5 -1.5v3M312 163.5h3m-1.5 -1.5v3M313 162.5h3m-1.5 -1.5v3M314 161.5h3m-1.5 -1.5v3M314 160.5h3m-1.5 -1.5v3M315 159.5h3m-1.5 -1.5v3M315 158.5h3m-1.5 -1.5v3M315 157.5h3m-1.5 -1.5v3M316 157.5h3m-1.5 -1.5v3M316 156.5h3m-1.5 -1.5v3M316 155.5h3m-1.5 -1.5v3M316 154.5h3m-1.5 -1.5v3M317 154.5h3m-1.5 -1.5v3M317 153.5h3m-1.5 -1.5v3M317 152.5h3m-1.5 -1.5v3M318 151.5h3m-1.5 -1.5v3M318 150.5h3m-1.5 -1.5v3M318 149.5h3m-1.5 -1.5v3M319 148.5h3m-1.5 -1.5v3M319 147.5h3m-1.5 -1.5v3M319 146.5h3m-1.5 -1.5v3M320 146.5h3m-1.5 -1.5v3M320 145.5h3m-1.5 -1.5v3M320 144.5h3m-1.5 -1.5v3M321 144.5h3m-1.5 -1.5v3M321 143.5h3m-1.5 -1.5v3M289 163.5h3m-1.5 -1.5v3M290 164.5h3m-1.5 -1.5v3M290 166.5h3m-1.5 -1.5v3M290 167.5h3m-1.5 -1.5v3M290 169.5h3m-1.5 -1.5v3M291 170.5h3m-1.5 -1.5v3M291 171.5h3m-1.5 -1.5v3M291 172.5h3m-1.5 -1.5v3M291 173.5h3m-1.5 -1.5v3M292 173.5h3m-1.5 -1.5v3M292 174.5h3m-1.5 -1.5v3M292 175.5h3m-1.5 -1.5v3M293 176.5h3m-1.5 -1.5v3M293 177.5h3m-1.5 -1.5v3M293 178.5h3m-1.5 -1.5v3M294 178.5h3m-1.5 -1.5v3M294 179.5h3m-1.5 -1.5v3M294 180.5h3m-1.5 -1.5v3M295 180.5h3m-1.5 -1.5v3M295 181.5h3m-1.5 -1.5v3M296 181.5h3m-1.5 -1.5v3M296 182.5h3m-1.5 -1.5v3M297 182.5h3m-1.5 -1.5v3M297 183.5h3m-1.5 -1.5v3M298 183.5h3m-1.5 -1.5v3M298 184.5h3m-1.5 -1.5v3M299 185.5h3m-1.5 -1.5v3M299 186.5h3m-1.5 -1.5v3M300 186.5h3m-1.5 -1.5v3M300 187.5h3m-1.5 -1.5v3M301 188.5h3m-1.5 -1.5v3M301 189.5h3m-1.5 -1.5v3M301 190.5h3m-1.5 -1.5v3M302 190.5h3m-1.5 -1.5v3M302 191.5h3m-1.5 -1.5v3M302 192.5h3m-1.5 -1.5v3M302 193.5h3m-1.5 -1.5v3M302 194.5h3m-1.5 -1.5v3M303 195.5h3m-1.5 -1.5v3M303 196.5h3m-1.5 -1.5v3M303 197.5h3m-1.5 -1.5v3M304 197.5h3m-1.5 -1.5v3M304 198.5h3m-1.5 -1.5v3M304 199.5h3m-1.5 -1.5v3M304 200.5h3m-1.5 -1.5v3M305 200.5h3m-1.5 -1.5v3M305 201.5h3m-1.5 -1.5v3M305 202.5h3m-1.5 -1.5v3M306 203.5h3m-1.5 -1.5v3M307 204.5h3m-1.5 -1.5v3M307 205.5h3m-1.5 -1.5v3M308 205.5h3m-1.5 -1.5v3M308 206.5h3m-1.5 -1.5v3M309 206.5h3m-1.5 -1.5v3M310 206.5h3m-1.5 -1.5v3M311 206.5h3m-1.5 -1.5v3M311 205.5h3m-1.5 -1.5v3M312 206.5h3m-1.5 -1.5v3M313 206.5h3m-1.5 -1.5v3M314 206.5h3m-1.5 -1.5v3M315 206.5h3m-1.5 -1.5v3M315 207.5h3m-1.5 -1.5v3M316 207.5h3m-1.5 -1.5v3M317 207.5h3m-1.5 -1.5v3M318 207.5h3m-1.5 -1.5v3M318 208.5h3m-1.5 -1.5v3M319 208.5h3m-1.5 -1.5v3M319 209.5h3m-1.5 -1.5v3M320 209.5h3m-1.5 -1.5v3M320 210.5h3m-1.5 -1.5v3M321 211.5h3m-1.5 -1.5v3M321 212.5h3m-1.5 -1.5v3M322 213.5h3m-1.5 -1.5v3M322 214.5h3m-1.5 -1.5v3M323 215.5h3m-1.5 -1.5v3M323 216.5h3m-1.5 -1.5v3M324 217.5h3m-1.5 -1.5v3M324 218.5h3m-1.5 -1.5v3M325 219.5h3m-1.5 -1.5v3M325 220.5h3m-1.5 -1.5v3M326 221.5h3m-1.5 -1.5v3M326 222.5h3m-1.5 -1.5v3M327 223.5h3m-1.5 -1.5v3M327 224.5h3m-1.5 -1.5v3M327 225.5h3m-1.5 -1.5v3M328 226.5h3m-1.5 -1.5v3M328 227.5h3m-1.5 -1.5v3M329 228.5h3m-1.5 -1.5v3M329 229.5h3m-1.5 -1.5v3M329 230.5h3m-1.5 -1.5v3M330 231.5h3m-1.5 -1.5v3M330 232.5h3m-1.5 -1.5v3M330 233.5h3m-1.5 -1.5v3M330 234.5h3m-1.5 -1.5v3M331 234.5h3m-1.5 -1.5v3M331 236.5h3m-1.5 -1.5v3M331 237.5h3m-1.5 -1.5v3M331 238.5h3m-1.5 -1.5v3M332 239.5h3m-1.5 -1.5v3M332 240.5h3m-1.5 -1.5v3M332 241.5h3m-1.5 -1.5v3M332 242.5h3m-1.5 -1.5v3M333 243.5h3m-1.5 -1.5v3M333 244.5h3m-1.5 -1.5v3M333 245.5h3m-1.5 -1.5v3M333 246.5h3m-1.5 -1.5v3M334 247.5h3m-1.5 -1.5v3M334 248.5h3m-1.5 -1.5v3M334 249.5h3m-1.5 -1.5v3M335 250.5h3m-1.5 -1.5v3M335 251.5h3m-1.5 -1.5v3M335 252.5h3m-1.5 -1.5v3M336 253.5h3m-1.5 -1.5v3M336 254.5h3m-1.5 -1.5v3M336 255.5h3m-1.5 -1.5v3M337 256.5h3m-1.5 -1.5v3M337 257.5h3m-1.5 -1.5v3M337 258.5h3m-1.5 -1.5v3M338 259.5h3m-1.5 -1.5v3M338 260.5h3m-1.5 -1.5v3M338 261.5h3m-1.5 -1.5v3M339 262.5h3m-1.5 -1.5v3M339 263.5h3m-1.5 -1.5v3M339 264.5h3m-1.5 -1.5v3M339 265.5h3m-1.5 -1.5v3M340 266.5h3m-1.5 -1.5v3M340 267.5h3m-1.5 -1.5v3M340 269.5h3m-1.5 -1.5v3M341 270.5h3m-1.5 -1.5v3M341 271.5h3m-1.5 -1.5v3M341 272.5h3m-1.5 -1.5v3M342 273.5h3m-1.5 -1.5v3M342 274.5h3m-1.5 -1.5v3M342 275.5h3m-1.5 -1.5v3M343 276.5h3m-1.5 -1.5v3M343 277.5h3m-1.5 -1.5v3M343 278.5h3m-1.5 -1.5v3M344 279.5h3m-1.5 -1.5v3M344 280.5h3m-1.5 -1.5v3M344 281.5h3m-1.5 -1.5v3M345 281.5h3m-1.5 -1.5v3M345 282.5h3m-1.5 -1.5v3M345 283.5h3m-1.5 -1.5v3M346 284.5h3m-1.5 -1.5v3M346 285.5h3m-1.5 -1.5v3M346 286.5h3m-1.5 -1.5v3M347 286.5h3m-1.5 -1.5v3M347 287.5h3m-1.5 -1.5v3M348 288.5h3m-1.5 -1.5v3M348 289.5h3m-1.5 -1.5v3M349 289.5h3m-1.5 -1.5v3M349 290.5h3m-1.5 -1.5v3M350 291.5h3m-1.5 -1.5v3M351 291.5h3m-1.5 -1.5v3M351 292.5h3m-1.5 -1.5v3M352 292.5h3m-1.5 -1.5v3M352 293.5h3m-1.5 -1.5v3M353 293.5h3m-1.5 -1.5v3M354 294.5h3m-1.5 -1.5v3M355 294.5h3m-1.5 -1.5v3M355 295.5h3m-1.5 -1.5v3M356 295.5h3m-1.5 -1.5v3M357 295.5h3m-1.5 -1.5v3M358 296.5h3m-1.5 -1.5v3M359 296.5h3m-1.5 -1.5v3M360 296.5h3m-1.5 -1.5v3M360 297.5h3m-1.5 -1.5v3M361 297.5h3m-1.5 -1.5v3M362 297.5h3m-1.5 -1.5v3M362 298.5h3m-1.5 -1.5v3M363 298.5h3m-1.5 -1.5v3M364 299.5h3m-1.5 -1.5v3M365 299.5h3m-1.5 -1.5v3M365 300.5h3m-1.5 -1.5v3M366 300.5h3m-1.5 -1.5v3M367 300.5h3m-1.5 -1.5v3M368 301.5h3m-1.5 -1.5v3M369 301.5h3m-1.5 -1.5v3M370 301.5h3m-1.5 -1.5v3M370 302.5h3m-1.5 -1.5v3M371 302.5h3m-1.5 -1.5v3M372 302.5h3m-1.5 -1.5v3M372 303.5h3m-1.5 -1.5v3M373 303.5h3m-1.5 -1.5v3M373 304.5h3m-1.5 -1.5v3M375 305.5h3m-1.5 -1.5v3M376 305.5h3m-1.5 -1.5v3M377 305.5h3m-1.5 -1.5v3M378 306.5h3m-1.5 -1.5v3M379 306.5h3m-1.5 -1.5v3M379 307.5h3m-1.5 -1.5v3M380 307.5h3m-1.5 -1.5v3M381 307.5h3m-1.5 -1.5v3M382 308.5h3m-1.5 -1.5v3M382 309.5h3m-1.5 -1.5v3M383 309.5h3m-1.5 -1.5v3M383 310.5h3m-1.5 -1.5v3M384 310.5h3m-1.5 -1.5v3M384 311.5h3m-1.5 -1.5v3M385 311.5h3m-1.5 -1.5v3M385 312.5h3m-1.5 -1.5v3M386 312.5h3m-1.5 -1.5v3M386 313.5h3m-1.5 -1.5v3M387 313.5h3m-1.5 -1.5v3M387 314.5h3m-1.5 -1.5v3M388 314.5h3m-1.5 -1.5v3M388 315.5h3m-1.5 -1.5v3M389 315.5h3m-1.5 -1.5v3M389 316.5h3m-1.5 -1.5v3M390 317.5h3m-1.5 -1.5v3M390 318.5h3m-1.5 -1.5v3M391 318.5h3m-1.5 -1.5v3M391 319.5h3m-1.5 -1.5v3M392 319.5h3m-1.5 -1.5v3M393 320.5h3m-1.5 -1.5v3M393 321.5h3m-1.5 -1.5v3M394 321.5h3m-1.5 -1.5v3M394 322.5h3m-1.5 -1.5v3M395 322.5h3m-1.5 -1.5v3M395 323.5h3m-1.5 -1.5v3M396 323.5h3m-1.5 -1.5v3M397 324.5h3m-1.5 -1.5v3M398 325.5h3m-1.5 -1.5v3M399 325.5h3m-1.5 -1.5v3M399 326.5h3m-1.5 -1.5v3M400 327.5h3m-1.5 -1.5v3M401 328.5h3m-1.5 -1.5v3M401 329.5h3m-1.5 -1.5v3M402 329.5h3m-1.5 -1.5v3M402 330.5h3m-1.5 -1.5v3M403 330.5h3m-1.5 -1.5v3M403 331.5h3m-1.5 -1.5v3M403 332.5h3m-1.5 -1.5v3M404 332.5h3m-1.5 -1.5v3M404 333.5h3m-1.5 -1.5v3M405 333.5h3m-1.5 -1.5v3M405 334.5h3m-1.5 -1.5v3M406 334.5h3m-1.5 -1.5v3M406 335.5h3m-1.5 -1.5v3M407 336.5h3m-1.5 -1.5v3M407 337.5h3m-1.5 -1.5v3M408 338.5h3m-1.5 -1.5v3M408 339.5h3m-1.5 -1.5v3M409 339.5h3m-1.5 -1.5v3M409 340.5h3m-1.5 -1.5v3M410 340.5h3m-1.5 -1.5v3M410 341.5h3m-1.5 -1.5v3M411 342.5h3m-1.5 -1.5v3M411 343.5h3m-1.5 -1.5v3M412 344.5h3m-1.5 -1.5v3M412 345.5h3m-1.5 -1.5v3M413 346.5h3m-1.5 -1.5v3M413 347.5h3m-1.5 -1.5v3M414 347.5h3m-1.5 -1.5v3M414 348.5h3m-1.5 -1.5v3M414 349.5h3m-1.5 -1.5v3M415 349.5h3m-1.5 -1.5v3M415 350.5h3m-1.5 -1.5v3M415 351.5h3m-1.5 -1.5v3M416 351.5h3m-1.5 -1.5v3M416 352.5h3m-1.5 -1.5v3M417 353.5h3m-1.5 -1.5v3M417 354.5h3m-1.5 -1.5v3M418 355.5h3m-1.5 -1.5v3M418 356.5h3m-1.5 -1.5v3M419 356.5h3m-1.5 -1.5v3M419 357.5h3m-1.5 -1.5v3M420 358.5h3m-1.5 -1.5v3M420 359.5h3m-1.5 -1.5v3M421 359.5h3m-1.5 -1.5v3M421 360.5h3m-1.5 -1.5v3M421 361.5h3m-1.5 -1.5v3M422 361.5h3m-1.5 -1.5v3M422 362.5h3m-1.5 -1.5v3M423 362.5h3m-1.5 -1.5v3M423 363.5h3m-1.5 -1.5v3M424 364.5h3m-1.5 -1.5v3M424 365.5h3m-1.5 -1.5v3M425 365.5h3m-1.5 -1.5v3M425 366.5h3m-1.5 -1.5v3M426 366.5h3m-1.5 -1.5v3M426 367.5h3m-1.5 -1.5v3M427 368.5h3m-1.5 -1.5v3M427 369.5h3m-1.5 -1.5v3M428 369.5h3m-1.5 -1.5v3M428 370.5h3m-1.5 -1.5v3M429 370.5h3m-1.5 -1.5v3M429 371.5h3m-1.5 -1.5v3M430 371.5h3m-1.5 -1.5v3M430 372.5h3m-1.5 -1.5v3M431 372.5h3m-1.5 -1.5v3M431 373.5h3m-1.5 -1.5v3M432 373.5h3m-1.5 -1.5v3M432 374.5h3m-1.5 -1.5v3M433 374.5h3m-1.5 -1.5v3M433 375.5h3m-1.5 -1.5v3M434 376.5h3m-1.5 -1.5v3M434 377.5h3m-1.5 -1.5v3M435 377.5h3m-1.5 -1.5v3M435 378.5h3m-1.5 -1.5v3M436 378.5h3m-1.5 -1.5v3M436 379.5h3m-1.5 -1.5v3M437 380.5h3m-1.5 -1.5v3M437 381.5h3m-1.5 -1.5v3M438 381.5h3m-1.5 -1.5v3M438 382.5h3m-1.5 -1.5v3M439 382.5h3m-1.5 -1.5v3M440 383.5h3m-1.5 -1.5v3M441 384.5h3m-1.5 -1.5v3M441 385.5h3m-1.5 -1.5v3M442 385.5h3m-1.5 -1.5v3M442 386.5h3m-1.5 -1.5v3M443 386.5h3m-1.5 -1.5v3M443 387.5h3m-1.5 -1.5v3M444 387.5h3m-1.5 -1.5v3M444 388.5h3m-1.5 -1.5v3M445 389.5h3m-1.5 -1.5v3M445 390.5h3m-1.5 -1.5v3M446 390.5h3m-1.5 -1.5v3M447 391.5h3m-1.5 -1.5v3M448 392.5h3m-1.5 -1.5v3M448 393.5h3m-1.5 -1.5v3M449 393.5h3m-1.5 -1.5v3M449 394.5h3m-1.5 -1.5v3M450 394.5h3m-1.5 -1.5v3M450 395.5h3m-1.5 -1.5v3M451 395.5h3m-1.5 -1.5v3M451 396.5h3m-1.5 -1.5v3M452 396.5h3m-1.5 -1.5v3M452 397.5h3m-1.5 -1.5v3M452 398.5h3m-1.5 -1.5v3M453 398.5h3m-1.5 -1.5v3M453 399.5h3m-1.5 -1.5v3M454 399.5h3m-1.5 -1.5v3M454 400.5h3m-1.5 -1.5v3M455 400.5h3m-1.5 -1.5v3M455 401.5h3m-1.5 -1.5v3M456 402.5h3m-1.5 -1.5v3M457 403.5h3m-1.5 -1.5v3M457 404.5h3m-1.5 -1.5v3M458 404.5h3m-1.5 -1.5v3M458 405.5h3m-1.5 -1.5v3M458 406.5h3m-1.5 -1.5v3M459 406.5h3m-1.5 -1.5v3M459 407.5h3m-1.5 -1.5v3M460 407.5h3m-1.5 -1.5v3M460 408.5h3m-1.5 -1.5v3M461 409.5h3m-1.5 -1.5v3M461 410.5h3m-1.5 -1.5v3M462 410.5h3m-1.5 -1.5v3M462 411.5h3m-1.5 -1.5v3M463 412.5h3m-1.5 -1.5v3M463 413.5h3m-1.5 -1.5v3M464 414.5h3m-1.5 -1.5v3M464 415.5h3m-1.5 -1.5v3M464 416.5h3m-1.5 -1.5v3M465 416.5h3m-1.5 -1.5v3M465 417.5h3m-1.5 -1.5v3M466 418.5h3m-1.5 -1.5v3M466 419.5h3m-1.5 -1.5v3M467 419.5h3m-1.5 -1.5v3M467 420.5h3m-1.5 -1.5v3M468 420.5h3m-1.5 -1.5v3M468 421.5h3m-1.5 -1.5v3M469 421.5h3m-1.5 -1.5v3M469 422.5h3m-1.5 -1.5v3M470 423.5h3m-1.5 -1.5v3M471 423.5h3m-1.5 -1.5v3M471 424.5h3m-1.5 -1.5v3M472 424.5h3m-1.5 -1.5v3M472 425.5h3m-1.5 -1.5v3M473 425.5h3m-1.5 -1.5v3M473 426.5h3m-1.5 -1.5v3M474 426.5h3m-1.5 -1.5v3M474 427.5h3m-1.5 -1.5v3M475 427.5h3m-1.5 -1.5v3M475 428.5h3m-1.5 -1.5v3M476 428.5h3m-1.5 -1.5v3M476 429.5h3m-1.5 -1.5v3M477 429.5h3m-1.5 -1.5v3M477 430.5h3m-1.5 -1.5v3M478 430.5h3m-1.5 -1.5v3M479 430.5h3m-1.5 -1.5v3M479 431.5h3m-1.5 -1.5v3M480 431.5h3m-1.5 -1.5v3M481 431.5h3m-1.5 -1.5v3M481 432.5h3m-1.5 -1.5v3M482 432.5h3m-1.5 -1.5v3M482 433.5h3m-1.5 -1.5v3M483 433.5h3m-1.5 -1.5v3M484 433.5h3m-1.5 -1.5v3M485 433.5h3m-1.5 -1.5v3M486 433.5h3m-1.5 -1.5v3M487 433.5h3m-1.5 -1.5v3M487 434.5h3m-1.5 -1.5v3M488 433.5h3m-1.5 -1.5v3M488 434.5h3m-1.5 -1.5v3M489 433.5h3m-1.5 -1.5v3M490 433.5h3m-1.5 -1.5v3M490 434.5h3m-1.5 -1.5v3M491 433.5h3m-1.5 -1.5v3M491 434.5h3m-1.5 -1.5v3M492 434.5h3m-1.5 -1.5v3M493 434.5h3m-1.5 -1.5v3M494 434.5h3m-1.5 -1.5v3M495 434.5h3m-1.5 -1.5v3M496 434.5h3m-1.5 -1.5v3M496 435.5h3m-1.5 -1.5v3M497 435.5h3m-1.5 -1.5v3M498 435.5h3m-1.5 -1.5v3M499 436.5h3m-1.5 -1.5v3M500 436.5h3m-1.5 -1.5v3M500 437.5h3m-1.5 -1.5v3M501 437.5h3m-1.5 -1.5v3M502 437.5h3m-1.5 -1.5v3M502 438.5h3m-1.5 -1.5v3M503 438.5h3m-1.5 -1.5v3M504 438.5h3m-1.5 -1.5v3M504 439.5h3m-1.5 -1.5v3M505 438.5h3m-1.5 -1.5v3M505 439.5h3m-1.5 -1.5v3M506 439.5h3m-1.5 -1.5v3M507 439.5h3m-1.5 -1.5v3M507 440.5h3m-1.5 -1.5v3M508 440.5h3m-1.5 -1.5v3M508 441.5h3m-1.5 -1.5v3M509 440.5h3m-1.5 -1.5v3M509 441.5h3m-1.5 -1.5v3M510 441.5h3m-1.5 -1.5v3M510 440.5h3m-1.5 -1.5v3M511 440.5h3m-1.5 -1.5v3M511 441.5h3m-1.5 -1.5v3M512 440.5h3m-1.5 -1.5v3M512 441.5h3m-1.5 -1.5v3M513 441.5h3m-1.5 -1.5v3M514 441.5h3m-1.5 -1.5v3M515 441.5h3m-1.5 -1.5v3M516 441.5h3m-1.5 -1.5v3M517 441.5h3m-1.5 -1.5v3M517 442.5h3m-1.5 -1.5v3M518 442.5h3m-1.5 -1.5v3M519 442.5h3m-1.5 -1.5v3M519 443.5h3m-1.5 -1.5v3M520 443.5h3m-1.5 -1.5v3M521 443.5h3m-1.5 -1.5v3M522 443.5h3m-1.5 -1.5v3M523 443.5h3m-1.5 -1.5v3M523 444.5h3m-1.5 -1.5v3M524 444.5h3m-1.5 -1.5v3M525 444.5h3m-1.5 -1.5v3M526 445.5h3m-1.5 -1.5v3M527 445.5h3m-1.5 -1.5v3M528 445.5h3m-1.5 -1.5v3M528 446.5h3m-1.5 -1.5v3M529 446.5h3m-1.5 -1.5v3M530 446.5h3m-1.5 -1.5v3M531 446.5h3m-1.5 -1.5v3M532 447.5h3m-1.5 -1.5v3M533 447.5h3m-1.5 -1.5v3M534 447.5h3m-1.5 -1.5v3M535 447.5h3m-1.5 -1.5v3M535 448.5h3m-1.5 -1.5v3M536 448.5h3m-1.5 -1.5v3M537 448.5h3m-1.5 -1.5v3M538 448.5h3m-1.5 -1.5v3M539 449.5h3m-1.5 -1.5v3M539 448.5h3m-1.5 -1.5v3M540 449.5h3m-1.5 -1.5v3M541 449.5h3m-1.5 -1.5v3M542 449.5h3m-1.5 -1.5v3M543 450.5h3m-1.5 -1.5v3M544 450.5h3m-1.5 -1.5v3M545 450.5h3m-1.5 -1.5v3M546 450.5h3m-1.5 -1.5v3M547 451.5h3m-1.5 -1.5v3M547 450.5h3m-1.5 -1.5v3M548 451.5h3m-1.5 -1.5v3M549 451.5h3m-1.5 -1.5v3M550 451.5h3m-1.5 -1.5v3M551 451.5h3m-1.5 -1.5v3M552 451.5h3m-1.5 -1.5v3M553 451.5h3m-1.5 -1.5v3M553 452.5h3m-1.5 -1.5v3M554 452.5h3m-1.5 -1.5v3M555 452.5h3m-1.5 -1.5v3M556 452.5h3m-1.5 -1.5v3M557 452.5h3m-1.5 -1.5v3M558 453.5h3m-1.5 -1.5v3M559 453.5h3m-1.5 -1.5v3M560 453.5h3m-1.5 -1.5v3M561 453.5h3m-1.5 -1.5v3M561 454.5h3m-1.5 -1.5v3M562 454.5h3m-1.5 -1.5v3M563 454.5h3m-1.5 -1.5v3M563 455.5h3m-1.5 -1.5v3M564 455.5h3m-1.5 -1.5v3M565 455.5h3m-1.5 -1.5v3M566 455.5h3m-1.5 -1.5v3M567 455.5h3m-1.5 -1.5v3M567 456.5h3m-1.5 -1.5v3M568 456.5h3m-1.5 -1.5v3M569 456.5h3m-1.5 -1.5v3M570 456.5h3m-1.5 -1.5v3M571 456.5h3m-1.5 -1.5v3M572 456.5h3m-1.5 -1.5v3M572 457.5h3m-1.5 -1.5v3M573 457.5h3m-1.5 -1.5v3M574 457.5h3m-1.5 -1.5v3M574 458.5h3m-1.5 -1.5v3M575 458.5h3m-1.5 -1.5v3M576 458.5h3m-1.5 -1.5v3M577 458.5h3m-1.5 -1.5v3M578 458.5h3m-1.5 -1.5v3M578 459.5h3m-1.5 -1.5v3M579 458.5h3m-1.5 -1.5v3M579 459.5h3m-1.5 -1.5v3M580 459.5h3m-1.5 -1.5v3M581 459.5h3m-1.5 -1.5v3M582 460.5h3m-1.5 -1.5v3M582 459.5h3m-1.5 -1.5v3M583 459.5h3m-1.5 -1.5v3M583 460.5h3m-1.5 -1.5v3M584 460.5h3m-1.5 -1.5v3M585 460.5h3m-1.5 -1.5v3M586 460.5h3m-1.5 -1.5v3M586 461.5h3m-1.5 -1.5v3M587 461.5h3m-1.5 -1.5v3M588 461.5h3m-1.5 -1.5v3M589 461.5h3m-1.5 -1.5v3M589 462.5h3m-1.5 -1.5v3M590 462.5h3m-1.5 -1.5v3M591 462.5h3m-1.5 -1.5v3M592 462.5h3m-1.5 -1.5v3M592 463.5h3m-1.5 -1.5v3M593 463.5h3m-1.5 -1.5v3M594 463.5h3m-1.5 -1.5v3M595 463.5h3m-1.5 -1.5v3M596 463.5h3m-1.5 -1.5v3M596 464.5h3m-1.5 -1.5v3M597 464.5h3m-1.5 -1.5v3M597 463.5h3m-1.5 -1.5v3M598 464.5h3m-1.5 -1.5v3M599 464.5h3m-1.5 -1.5v3M600 464.5h3m-1.5 -1.5v3M600 465.5h3m-1.5 -1.5v3M601 464.5h3m-1.5 -1.5v3M601 465.5h3m-1.5 -1.5v3M602 465.5h3m-1.5 -1.5v3M602 464.5h3m-1.5 -1.5v3M603 465.5h3m-1.5 -1.5v3M604 465.5h3m-1.5 -1.5v3M605 465.5h3m-1.5 -1.5v3M606 465.5h3m-1.5 -1.5v3M607 465.5h3m-1.5 -1.5v3M607 466.5h3m-1.5 -1.5v3M608 466.5h3m-1.5 -1.5v3M609 466.5h3m-1.5 -1.5v3M610 466.5h3m-1.5 -1.5v3M611 466.5h3m-1.5 -1.5v3M612 466.5h3m-1.5 -1.5v3M613 466.5h3m-1.5 -1.5v3M614 466.5h3m-1.5 -1.5v3M615 466.5h3m-1.5 -1.5v3M616 466.5h3m-1.5 -1.5v3M617 466.5h3m-1.5 -1.5v3M618 465.5h3m-1.5 -1.5v3M618 466.5h3m-1.5 -1.5v3M619 465.5h3m-1.5 -1.5v3M619 466.5h3m-1.5 -1.5v3M620 466.5h3m-1.5 -1.5v3M620 465.5h3m-1.5 -1.5v3M621 465.5h3m-1.5 -1.5v3M622 465.5h3m-1.5 -1.5v3M623 465.5h3m-1.5 -1.5v3M624 465.5h3m-1.5 -1.5v3M625 465.5h3m-1.5 -1.5v3M626 465.5h3m-1.5 -1.5v3M626 464.5h3m-1.5 -1.5v3M627 464.5h3m-1.5 -1.5v3M628 464.5h3m-1.5 -1.5v3M629 464.5h3m-1.5 -1.5v3M630 464.5h3m-1.5 -1.5v3M631 464.5h3m-1.5 -1.5v3M632 464.5h3m-1.5 -1.5v3M633 463.5h3m-1.5 -1.5v3M634 463.5h3m-1.5 -1.5v3M635 463.5h3m-1.5 -1.5v3M636 463.5h3m-1.5 -1.5v3M637 463.5h3m-1.5 -1.5v3M638 463.5h3m-1.5 -1.5v3M638 462.5h3m-1.5 -1.5v3M639 463.5h3m-1.5 -1.5v3M639 462.5h3m-1.5 -1.5v3M640 462.5h3m-1.5 -1.5v3M640 461.5h3m-1.5 -1.5v3M641 461.5h3m-1.5 -1.5v3M642 461.5h3m-1.5 -1.5v3M642 462.5h3m-1.5 -1.5v3M643 461.5h3m-1.5 -1.5v3M643 460.5h3m-1.5 -1.5v3M644 461.5h3m-1.5 -1.5v3M645 461.5h3m-1.5 -1.5v3M645 460.5h3m-1.5 -1.5v3M646 461.5h3m-1.5 -1.5v3M647 461.5h3m-1.5 -1.5v3M647 462.5h3m-1.5 -1.5v3M648 461.5h3m-1.5 -1.5v3M648 462.5h3m-1.5 -1.5v3M649 461.5h3m-1.5 -1.5v3M649 462.5h3m-1.5 -1.5v3M650 461.5h3m-1.5 -1.5v3M650 462.5h3m-1.5 -1.5v3M651 461.5h3m-1.5 -1.5v3M652 461.5h3m-1.5 -1.5v3M652 462.5h3m-1.5 -1.5v3M653 461.5h3m-1.5 -1.5v3M653 462.5h3m-1.5 -1.5v3M654 462.5h3m-1.5 -1.5v3M654 463.5h3m-1.5 -1.5v3M655 462.5h3m-1.5 -1.5v3M656 463.5h3m-1.5 -1.5v3M656 462.5h3m-1.5 -1.5v3M657 463.5h3m-1.5 -1.5v3M657 462.5h3m-1.5 -1.5v3M658 462.5h3m-1.5 -1.5v3M298 211.5h3m-1.5 -1.5v3M299 211.5h3m-1.5 -1.5v3M299 212.5h3m-1.5 -1.5v3M299 213.5h3m-1.5 -1.5v3M300 214.5h3m-1.5 -1.5v3M300 215.5h3m-1.5 -1.5v3M301 216.5h3m-1.5 -1.5v3M301 217.5h3m-1.5 -1.5v3M302 217.5h3m-1.5 -1.5v3M302 218.5h3m-1.5 -1.5v3M303 219.5h3m-1.5 -1.5v3M303 220.5h3m-1.5 -1.5v3M304 221.5h3m-1.5 -1.5v3M304 222.5h3m-1.5 -1.5v3M304 223.5h3m-1.5 -1.5v3M305 223.5h3m-1.5 -1.5v3M305 224.5h3m-1.5 -1.5v3M306 224.5h3m-1.5 -1.5v3M306 225.5h3m-1.5 -1.5v3M307 225.5h3m-1.5 -1.5v3M307 224.5h3m-1.5 -1.5v3M308 224.5h3m-1.5 -1.5v3M308 223.5h3m-1.5 -1.5v3M309 223.5h3m-1.5 -1.5v3M309 222.5h3m-1.5 -1.5v3M310 221.5h3m-1.5 -1.5v3M310 220.5h3m-1.5 -1.5v3M310 219.5h3m-1.5 -1.5v3M311 219.5h3m-1.5 -1.5v3M311 218.5h3m-1.5 -1.5v3M311 217.5h3m-1.5 -1.5v3M312 216.5h3m-1.5 -1.5v3M312 215.5h3m-1.5 -1.5v3M312 214.5h3m-1.5 -1.5v3M313 214.5h3m-1.5 -1.5v3M313 213.5h3m-1.5 -1.5v3M313 212.5h3m-1.5 -1.5v3M314 212.5h3m-1.5 -1.5v3M314 211.5h3m-1.5 -1.5v3M315 210.5h3m-1.5 -1.5v3M315 209.5h3m-1.5 -1.5v3M316 209.5h3m-1.5 -1.5v3M316 208.5h3m-1.5 -1.5v3M317 208.5h3m-1.5 -1.5v3M321 209.5h3m-1.5 -1.5v3M321 210.5h3m-1.5 -1.5v3M322 210.5h3m-1.5 -1.5v3M322 211.5h3m-1.5 -1.5v3M322 212.5h3m-1.5 -1.5v3M323 212.5h3m-1.5 -1.5v3M323 213.5h3m-1.5 -1.5v3M324 213.5h3m-1.5 -1.5v3M324 214.5h3m-1.5 -1.5v3M324 215.5h3m-1.5 -1.5v3M325 215.5h3m-1.5 -1.5v3M325 216.5h3m-1.5 -1.5v3M326 217.5h3m-1.5 -1.5v3M326 218.5h3m-1.5 -1.5v3M327 219.5h3m-1.5 -1.5v3M327 220.5h3m-1.5 -1.5v3M328 221.5h3m-1.5 -1.5v3M328 222.5h3m-1.5 -1.5v3M329 223.5h3m-1.5 -1.5v3M329 224.5h3m-1.5 -1.5v3M329 225.5h3m-1.5 -1.5v3M330 225.5h3m-1.5 -1.5v3M330 226.5h3m-1.5 -1.5v3M330 227.5h3m-1.5 -1.5v3M331 228.5h3m-1.5 -1.5v3M331 229.5h3m-1.5 -1.5v3M331 230.5h3m-1.5 -1.5v3M332 231.5h3m-1.5 -1.5v3M332 232.5h3m-1.5 -1.5v3M332 233.5h3m-1.5 -1.5v3M333 234.5h3m-1.5 -1.5v3M333 235.5h3m-1.5 -1.5v3M333 236.5h3m-1.5 -1.5v3M334 237.5h3m-1.5 -1.5v3M334 238.5h3m-1.5 -1.5v3M334 239.5h3m-1.5 -1.5v3M334 240.5h3m-1.5 -1.5v3M334 241.5h3m-1.5 -1.5v3M335 242.5h3m-1.5 -1.5v3M335 243.5h3m-1.5 -1.5v3M335 244.5h3m-1.5 -1.5v3M336 245.5h3m-1.5 -1.5v3M336 246.5h3m-1.5 -1.5v3M336 247.5h3m-1.5 -1.5v3M336 248.5h3m-1.5 -1.5v3M337 249.5h3m-1.5 -1.5v3M337 250.5h3m-1.5 -1.5v3M337 251.5h3m-1.5 -1.5v3M338 252.5h3m-1.5 -1.5v3M338 253.5h3m-1.5 -1.5v3M338 254.5h3m-1.5 -1.5v3M339 255.5h3m-1.5 -1.5v3M339 256.5h3m-1.5 -1.5v3M339 257.5h3m-1.5 -1.5v3M340 258.5h3m-1.5 -1.5v3M340 259.5h3m-1.5 -1.5v3M340 260.5h3m-1.5 -1.5v3M340 261.5h3m-1.5 -1.5v3M341 262.5h3m-1.5 -1.5v3M341 263.5h3m-1.5 -1.5v3M341 264.5h3m-1.5 -1.5v3M342 265.5h3m-1.5 -1.5v3M342 266.5h3m-1.5 -1.5v3M342 267.5h3m-1.5 -1.5v3M343 268.5h3m-1.5 -1.5v3M343 269.5h3m-1.5 -1.5v3M343 271.5h3m-1.5 -1.5v3M344 272.5h3m-1.5 -1.5v3M344 273.5h3m-1.5 -1.5v3M344 274.5h3m-1.5 -1.5v3M345 275.5h3m-1.5 -1.5v3M345 276.5h3m-1.5 -1.5v3M345 277.5h3m-1.5 -1.5v3M346 278.5h3m-1.5 -1.5v3M346 279.5h3m-1.5 -1.5v3M346 280.5h3m-1.5 -1.5v3M347 280.5h3m-1.5 -1.5v3M347 281.5h3m-1.5 -1.5v3M347 282.5h3m-1.5 -1.5v3M348 283.5h3m-1.5 -1.5v3M348 284.5h3m-1.5 -1.5v3M348 285.5h3m-1.5 -1.5v3M349 285.5h3m-1.5 -1.5v3M349 286.5h3m-1.5 -1.5v3M349 287.5h3m-1.5 -1.5v3M350 287.5h3m-1.5 -1.5v3M350 288.5h3m-1.5 -1.5v3M350 289.5h3m-1.5 -1.5v3M351 289.5h3m-1.5 -1.5v3M351 290.5h3m-1.5 -1.5v3M352 291.5h3m-1.5 -1.5v3M353 292.5h3m-1.5 -1.5v3M357 296.5h3m-1.5 -1.5v3M358 297.5h3m-1.5 -1.5v3M359 297.5h3m-1.5 -1.5v3M360 298.5h3m-1.5 -1.5v3M361 298.5h3m-1.5 -1.5v3M364 300.5h3m-1.5 -1.5v3M365 301.5h3m-1.5 -1.5v3M366 301.5h3m-1.5 -1.5v3M367 301.5h3m-1.5 -1.5v3M367 302.5h3m-1.5 -1.5v3M368 302.5h3m-1.5 -1.5v3M369 302.5h3m-1.5 -1.5v3M369 303.5h3m-1.5 -1.5v3M370 303.5h3m-1.5 -1.5v3M371 303.5h3m-1.5 -1.5v3M371 304.5h3m-1.5 -1.5v3M372 304.5h3m-1.5 -1.5v3M375 306.5h3m-1.5 -1.5v3M376 306.5h3m-1.5 -1.5v3M377 307.5h3m-1.5 -1.5v3M378 307.5h3m-1.5 -1.5v3M379 308.5h3m-1.5 -1.5v3M380 308.5h3m-1.5 -1.5v3M380 309.5h3m-1.5 -1.5v3M381 309.5h3m-1.5 -1.5v3M381 310.5h3m-1.5 -1.5v3M382 311.5h3m-1.5 -1.5v3M383 311.5h3m-1.5 -1.5v3M383 312.5h3m-1.5 -1.5v3M384 312.5h3m-1.5 -1.5v3M384 313.5h3m-1.5 -1.5v3M385 313.5h3m-1.5 -1.5v3M385 314.5h3m-1.5 -1.5v3M386 314.5h3m-1.5 -1.5v3M386 315.5h3m-1.5 -1.5v3M387 315.5h3m-1.5 -1.5v3M387 316.5h3m-1.5 -1.5v3M388 317.5h3m-1.5 -1.5v3M388 318.5h3m-1.5 -1.5v3M389 318.5h3m-1.5 -1.5v3M389 319.5h3m-1.5 -1.5v3M390 319.5h3m-1.5 -1.5v3M390 320.5h3m-1.5 -1.5v3M391 320.5h3m-1.5 -1.5v3M391 321.5h3m-1.5 -1.5v3M391 322.5h3m-1.5 -1.5v3M392 322.5h3m-1.5 -1.5v3M392 323.5h3m-1.5 -1.5v3M393 323.5h3m-1.5 -1.5v3M393 324.5h3m-1.5 -1.5v3M394 325.5h3m-1.5 -1.5v3M395 326.5h3m-1.5 -1.5v3M395 327.5h3m-1.5 -1.5v3M396 327.5h3m-1.5 -1.5v3M396 328.5h3m-1.5 -1.5v3M397 328.5h3m-1.5 -1.5v3M397 329.5h3m-1.5 -1.5v3M398 330.5h3m-1.5 -1.5v3M398 331.5h3m-1.5 -1.5v3M399 332.5h3m-1.5 -1.5v3M399 333.5h3m-1.5 -1.5v3M400 333.5h3m-1.5 -1.5v3M400 334.5h3m-1.5 -1.5v3M400 335.5h3m-1.5 -1.5v3M401 335.5h3m-1.5 -1.5v3M401 336.5h3m-1.5 -1.5v3M401 337.5h3m-1.5 -1.5v3M402 337.5h3m-1.5 -1.5v3M402 338.5h3m-1.5 -1.5v3M403 338.5h3m-1.5 -1.5v3M403 339.5h3m-1.5 -1.5v3M403 340.5h3m-1.5 -1.5v3M404 340.5h3m-1.5 -1.5v3M404 341.5h3m-1.5 -1.5v3M405 342.5h3m-1.5 -1.5v3M405 343.5h3m-1.5 -1.5v3M406 344.5h3m-1.5 -1.5v3M407 345.5h3m-1.5 -1.5v3M407 346.5h3m-1.5 -1.5v3M408 346.5h3m-1.5 -1.5v3M408 347.5h3m-1.5 -1.5v3M409 348.5h3m-1.5 -1.5v3M409 349.5h3m-1.5 -1.5v3M410 349.5h3m-1.5 -1.5v3M410 350.5h3m-1.5 -1.5v3M410 351.5h3m-1.5 -1.5v3M411 352.5h3m-1.5 -1.5v3M411 353.5h3m-1.5 -1.5v3M412 353.5h3m-1.5 -1.5v3M412 354.5h3m-1.5 -1.5v3M412 355.5h3m-1.5 -1.5v3M413 355.5h3m-1.5 -1.5v3M413 356.5h3m-1.5 -1.5v3M414 357.5h3m-1.5 -1.5v3M414 358.5h3m-1.5 -1.5v3M415 358.5h3m-1.5 -1.5v3M415 359.5h3m-1.5 -1.5v3M415 360.5h3m-1.5 -1.5v3M416 361.5h3m-1.5 -1.5v3M416 362.5h3m-1.5 -1.5v3M417 362.5h3m-1.5 -1.5v3M417 363.5h3m-1.5 -1.5v3M418 364.5h3m-1.5 -1.5v3M418 365.5h3m-1.5 -1.5v3M419 365.5h3m-1.5 -1.5v3M419 366.5h3m-1.5 -1.5v3M419 367.5h3m-1.5 -1.5v3M420 367.5h3m-1.5 -1.5v3M420 368.5h3m-1.5 -1.5v3M420 369.5h3m-1.5 -1.5v3M421 369.5h3m-1.5 -1.5v3M421 370.5h3m-1.5 -1.5v3M421 371.5h3m-1.5 -1.5v3M422 371.5h3m-1.5 -1.5v3M422 372.5h3m-1.5 -1.5v3M422 373.5h3m-1.5 -1.5v3M423 373.5h3m-1.5 -1.5v3M423 374.5h3m-1.5 -1.5v3M424 375.5h3m-1.5 -1.5v3M424 376.5h3m-1.5 -1.5v3M425 376.5h3m-1.5 -1.5v3M425 377.5h3m-1.5 -1.5v3M425 378.5h3m-1.5 -1.5v3M426 378.5h3m-1.5 -1.5v3M426 379.5h3m-1.5 -1.5v3M427 380.5h3m-1.5 -1.5v3M427 381.5h3m-1.5 -1.5v3M428 381.5h3m-1.5 -1.5v3M428 382.5h3m-1.5 -1.5v3M429 382.5h3m-1.5 -1.5v3M429 383.5h3m-1.5 -1.5v3M430 384.5h3m-1.5 -1.5v3M431 385.5h3m-1.5 -1.5v3M432 386.5h3m-1.5 -1.5v3M432 387.5h3m-1.5 -1.5v3M433 387.5h3m-1.5 -1.5v3M434 388.5h3m-1.5 -1.5v3M435 389.5h3m-1.5 -1.5v3M436 389.5h3m-1.5 -1.5v3M436 390.5h3m-1.5 -1.5v3M437 390.5h3m-1.5 -1.5v3M437 391.5h3m-1.5 -1.5v3M438 391.5h3m-1.5 -1.5v3M438 392.5h3m-1.5 -1.5v3M439 392.5h3m-1.5 -1.5v3M439 393.5h3m-1.5 -1.5v3M440 393.5h3m-1.5 -1.5v3M441 394.5h3m-1.5 -1.5v3M441 395.5h3m-1.5 -1.5v3M442 396.5h3m-1.5 -1.5v3M442 397.5h3m-1.5 -1.5v3M443 398.5h3m-1.5 -1.5v3M443 399.5h3m-1.5 -1.5v3M444 400.5h3m-1.5 -1.5v3M445 401.5h3m-1.5 -1.5v3M445 402.5h3m-1.5 -1.5v3M446 403.5h3m-1.5 -1.5v3M446 404.5h3m-1.5 -1.5v3M447 404.5h3m-1.5 -1.5v3M447 405.5h3m-1.5 -1.5v3M448 405.5h3m-1.5 -1.5v3M448 406.5h3m-1.5 -1.5v3M448 407.5h3m-1.5 -1.5v3M449 407.5h3m-1.5 -1.5v3M449 408.5h3m-1.5 -1.5v3M450 408.5h3m-1.5 -1.5v3M450 409.5h3m-1.5 -1.5v3M451 410.5h3m-1.5 -1.5v3M452 411.5h3m-1.5 -1.5v3M452 412.5h3m-1.5 -1.5v3M453 412.5h3m-1.5 -1.5v3M453 413.5h3m-1.5 -1.5v3M454 413.5h3m-1.5 -1.5v3M454 414.5h3m-1.5 -1.5v3M455 414.5h3m-1.5 -1.5v3M455 415.5h3m-1.5 -1.5v3M456 415.5h3m-1.5 -1.5v3M456 416.5h3m-1.5 -1.5v3M457 416.5h3m-1.5 -1.5v3M457 417.5h3m-1.5 -1.5v3M458 417.5h3m-1.5 -1.5v3M458 418.5h3m-1.5 -1.5v3M458 419.5h3m-1.5 -1.5v3M459 419.5h3m-1.5 -1.5v3M460 420.5h3m-1.5 -1.5v3M461 421.5h3m-1.5 -1.5v3M462 422.5h3m-1.5 -1.5v3M462 423.5h3m-1.5 -1.5v3M463 423.5h3m-1.5 -1.5v3M463 424.5h3m-1.5 -1.5v3M464 424.5h3m-1.5 -1.5v3M464 425.5h3m-1.5 -1.5v3M465 425.5h3m-1.5 -1.5v3M465 426.5h3m-1.5 -1.5v3M466 426.5h3m-1.5 -1.5v3M466 427.5h3m-1.5 -1.5v3M467 427.5h3m-1.5 -1.5v3M467 428.5h3m-1.5 -1.5v3M468 428.5h3m-1.5 -1.5v3M468 429.5h3m-1.5 -1.5v3M469 429.5h3m-1.5 -1.5v3M469 430.5h3m-1.5 -1.5v3M470 430.5h3m-1.5 -1.5v3M471 431.5h3m-1.5 -1.5v3M471 432.5h3m-1.5 -1.5v3M472 432.5h3m-1.5 -1.5v3M473 432.5h3m-1.5 -1.5v3M473 433.5h3m-1.5 -1.5v3M474 433.5h3m-1.5 -1.5v3M474 434.5h3m-1.5 -1.5v3M475 434.5h3m-1.5 -1.5v3M476 434.5h3m-1.5 -1.5v3M476 435.5h3m-1.5 -1.5v3M477 435.5h3m-1.5 -1.5v3M478 435.5h3m-1.5 -1.5v3M478 436.5h3m-1.5 -1.5v3M479 436.5h3m-1.5 -1.5v3M480 436.5h3m-1.5 -1.5v3M480 437.5h3m-1.5 -1.5v3M481 437.5h3m-1.5 -1.5v3M481 438.5h3m-1.5 -1.5v3M482 437.5h3m-1.5 -1.5v3M482 438.5h3m-1.5 -1.5v3M483 437.5h3m-1.5 -1.5v3M483 438.5h3m-1.5 -1.5v3M484 438.5h3m-1.5 -1.5v3M484 437.5h3m-1.5 -1.5v3M485 437.5h3m-1.5 -1.5v3M486 437.5h3m-1.5 -1.5v3M487 437.5h3m-1.5 -1.5v3M488 437.5h3m-1.5 -1.5v3M489 437.5h3m-1.5 -1.5v3M490 437.5h3m-1.5 -1.5v3M491 437.5h3m-1.5 -1.5v3M492 437.5h3m-1.5 -1.5v3M493 437.5h3m-1.5 -1.5v3M493 436.5h3m-1.5 -1.5v3M494 436.5h3m-1.5 -1.5v3M495 436.5h3m-1.5 -1.5v3M496 436.5h3m-1.5 -1.5v3M497 436.5h3m-1.5 -1.5v3M498 436.5h3m-1.5 -1.5v3M503 439.5h3m-1.5 -1.5v3M505 440.5h3m-1.5 -1.5v3M506 440.5h3m-1.5 -1.5v3M506 441.5h3m-1.5 -1.5v3M507 441.5h3m-1.5 -1.5v3M508 442.5h3m-1.5 -1.5v3M509 442.5h3m-1.5 -1.5v3M510 442.5h3m-1.5 -1.5v3M511 443.5h3m-1.5 -1.5v3M512 443.5h3m-1.5 -1.5v3M513 443.5h3m-1.5 -1.5v3M514 443.5h3m-1.5 -1.5v3M514 444.5h3m-1.5 -1.5v3M515 444.5h3m-1.5 -1.5v3M516 444.5h3m-1.5 -1.5v3M517 445.5h3m-1.5 -1.5v3M518 445.5h3m-1.5 -1.5v3M519 445.5h3m-1.5 -1.5v3M520 446.5h3m-1.5 -1.5v3M521 446.5h3m-1.5 -1.5v3M521 447.5h3m-1.5 -1.5v3M522 447.5h3m-1.5 -1.5v3M523 447.5h3m-1.5 -1.5v3M523 448.5h3m-1.5 -1.5v3M524 448.5h3m-1.5 -1.5v3M525 449.5h3m-1.5 -1.5v3M526 449.5h3m-1.5 -1.5v3M527 449.5h3m-1.5 -1.5v3M527 450.5h3m-1.5 -1.5v3M528 450.5h3m-1.5 -1.5v3M529 450.5h3m-1.5 -1.5v3M529 451.5h3m-1.5 -1.5v3M530 451.5h3m-1.5 -1.5v3M531 451.5h3m-1.5 -1.5v3M532 451.5h3m-1.5 -1.5v3M533 451.5h3m-1.5 -1.5v3M533 452.5h3m-1.5 -1.5v3M534 452.5h3m-1.5 -1.5v3M535 452.5h3m-1.5 -1.5v3M535 453.5h3m-1.5 -1.5v3M536 453.5h3m-1.5 -1.5v3M537 453.5h3m-1.5 -1.5v3M538 454.5h3m-1.5 -1.5v3M538 453.5h3m-1.5 -1.5v3M539 454.5h3m-1.5 -1.5v3M540 454.5h3m-1.5 -1.5v3M541 454.5h3m-1.5 -1.5v3M541 455.5h3m-1.5 -1.5v3M542 455.5h3m-1.5 -1.5v3M543 455.5h3m-1.5 -1.5v3M544 455.5h3m-1.5 -1.5v3M545 455.5h3m-1.5 -1.5v3M546 456.5h3m-1.5 -1.5v3M547 456.5h3m-1.5 -1.5v3M548 456.5h3m-1.5 -1.5v3M548 457.5h3m-1.5 -1.5v3M549 456.5h3m-1.5 -1.5v3M549 457.5h3m-1.5 -1.5v3M550 456.5h3m-1.5 -1.5v3M550 457.5h3m-1.5 -1.5v3M551 457.5h3m-1.5 -1.5v3M552 457.5h3m-1.5 -1.5v3M552 458.5h3m-1.5 -1.5v3M553 458.5h3m-1.5 -1.5v3M554 458.5h3m-1.5 -1.5v3M555 458.5h3m-1.5 -1.5v3M556 458.5h3m-1.5 -1.5v3M556 459.5h3m-1.5 -1.5v3M557 459.5h3m-1.5 -1.5v3M557 458.5h3m-1.5 -1.5v3M558 459.5h3m-1.5 -1.5v3M559 459.5h3m-1.5 -1.5v3M560 459.5h3m-1.5 -1.5v3M561 460.5h3m-1.5 -1.5v3M562 460.5h3m-1.5 -1.5v3M563 460.5h3m-1.5 -1.5v3M564 460.5h3m-1.5 -1.5v3M565 460.5h3m-1.5 -1.5v3M566 460.5h3m-1.5 -1.5v3M566 461.5h3m-1.5 -1.5v3M567 461.5h3m-1.5 -1.5v3M568 461.5h3m-1.5 -1.5v3M569 461.5h3m-1.5 -1.5v3M569 462.5h3m-1.5 -1.5v3M570 462.5h3m-1.5 -1.5v3M571 462.5h3m-1.5 -1.5v3M572 462.5h3m-1.5 -1.5v3M573 462.5h3m-1.5 -1.5v3M574 462.5h3m-1.5 -1.5v3M575 463.5h3m-1.5 -1.5v3M575 462.5h3m-1.5 -1.5v3M576 462.5h3m-1.5 -1.5v3M576 463.5h3m-1.5 -1.5v3M577 463.5h3m-1.5 -1.5v3M578 463.5h3m-1.5 -1.5v3M579 463.5h3m-1.5 -1.5v3M579 464.5h3m-1.5 -1.5v3M580 464.5h3m-1.5 -1.5v3M581 464.5h3m-1.5 -1.5v3M582 464.5h3m-1.5 -1.5v3M583 464.5h3m-1.5 -1.5v3M583 465.5h3m-1.5 -1.5v3M584 465.5h3m-1.5 -1.5v3M585 465.5h3m-1.5 -1.5v3M586 465.5h3m-1.5 -1.5v3M586 466.5h3m-1.5 -1.5v3M587 465.5h3m-1.5 -1.5v3M587 466.5h3m-1.5 -1.5v3M588 466.5h3m-1.5 -1.5v3M589 466.5h3m-1.5 -1.5v3M590 466.5h3m-1.5 -1.5v3M590 467.5h3m-1.5 -1.5v3M591 467.5h3m-1.5 -1.5v3M592 467.5h3m-1.5 -1.5v3M593 467.5h3m-1.5 -1.5v3M594 467.5h3m-1.5 -1.5v3M595 467.5h3m-1.5 -1.5v3M596 467.5h3m-1.5 -1.5v3M596 468.5h3m-1.5 -1.5v3M597 468.5h3m-1.5 -1.5v3M598 468.5h3m-1.5 -1.5v3M599 468.5h3m-1.5 -1.5v3M600 468.5h3m-1.5 -1.5v3M600 469.5h3m-1.5 -1.5v3M601 469.5h3m-1.5 -1.5v3M602 469.5h3m-1.5 -1.5v3M603 469.5h3m-1.5 -1.5v3M604 469.5h3m-1.5 -1.5v3M605 469.5h3m-1.5 -1.5v3M606 469.5h3m-1.5 -1.5v3M607 469.5h3m-1.5 -1.5v3M607 470.5h3m-1.5 -1.5v3M608 470.5h3m-1.5 -1.5v3M609 469.5h3m-1.5 -1.5v3M609 470.5h3m-1.5 -1.5v3M610 470.5h3m-1.5 -1.5v3M611 470.5h3m-1.5 -1.5v3M612 470.5h3m-1.5 -1.5v3M613 470.5h3m-1.5 -1.5v3M614 470.5h3m-1.5 -1.5v3M615 470.5h3m-1.5 -1.5v3M616 470.5h3m-1.5 -1.5v3M617 470.5h3m-1.5 -1.5v3M617 471.5h3m-1.5 -1.5v3M618 470.5h3m-1.5 -1.5v3M619 470.5h3m-1.5 -1.5v3M620 470.5h3m-1.5 -1.5v3M621 470.5h3m-1.5 -1.5v3M622 470.5h3m-1.5 -1.5v3M623 470.5h3m-1.5 -1.5v3M623 469.5h3m-1.5 -1.5v3M624 469.5h3m-1.5 -1.5v3M625 469.5h3m-1.5 -1.5v3M626 469.5h3m-1.5 -1.5v3M627 469.5h3m-1.5 -1.5v3M628 469.5h3m-1.5 -1.5v3M629 469.5h3m-1.5 -1.5v3M630 469.5h3m-1.5 -1.5v3M631 468.5h3m-1.5 -1.5v3M631 469.5h3m-1.5 -1.5v3M632 468.5h3m-1.5 -1.5v3M632 469.5h3m-1.5 -1.5v3M633 468.5h3m-1.5 -1.5v3M633 469.5h3m-1.5 -1.5v3M634 468.5h3m-1.5 -1.5v3M635 468.5h3m-1.5 -1.5v3M636 468.5h3m-1.5 -1.5v3M637 468.5h3m-1.5 -1.5v3M638 468.5h3m-1.5 -1.5v3M639 468.5h3m-1.5 -1.5v3M639 467.5h3m-1.5 -1.5v3M640 467.5h3m-1.5 -1.5v3M640 466.5h3m-1.5 -1.5v3M641 466.5h3m-1.5 -1.5v3M642 466.5h3m-1.5 -1.5v3M642 465.5h3m-1.5 -1.5v3M643 465.5h3m-1.5 -1.5v3M644 465.5h3m-1.5 -1.5v3M644 464.5h3m-1.5 -1.5v3M645 465.5h3m-1.5 -1.5v3M645 464.5h3m-1.5 -1.5v3M646 464.5h3m-1.5 -1.5v3M647 464.5h3m-1.5 -1.5v3M647 465.5h3m-1.5 -1.5v3M648 465.5h3m-1.5 -1.5v3M649 465.5h3m-1.5 -1.5v3M649 466.5h3m-1.5 -1.5v3M650 466.5h3m-1.5 -1.5v3M651 466.5h3m-1.5 -1.5v3M651 467.5h3m-1.5 -1.5v3M652 467.5h3m-1.5 -1.5v3M652 466.5h3m-1.5 -1.5v3M653 466.5h3m-1.5 -1.5v3M654 466.5h3m-1.5 -1.5v3M655 466.5h3m-1.5 -1.5v3M656 466.5h3m-1.5 -1.5v3M657 466.5h3m-1.5 -1.5v3M657 465.5h3m-1.5 -1.5v3M658 465.5h3m-1.5 -1.5v3M658 466.5h3m-1.5 -1.5v3M399 211.5h3m-1.5 -1.5v3M400 212.5h3m-1.5 -1.5v3M400 213.5h3m-1.5 -1.5v3M400 214.5h3m-1.5 -1.5v3M400 215.5h3m-1.5 -1.5v3M401 216.5h3m-1.5 -1.5v3M401 217.5h3m-1.5 -1.5v3M401 218.5h3m-1.5 -1.5v3M401 219.5h3m-1.5 -1.5v3M402 220.5h3m-1.5 -1.5v3M402 221.5h3m-1.5 -1.5v3M402 223.5h3m-1.5 -1.5v3M403 224.5h3m-1.5 -1.5v3M403 225.5h3m-1.5 -1.5v3M403 226.5h3m-1.5 -1.5v3M403 228.5h3m-1.5 -1.5v3M404 229.5h3m-1.5 -1.5v3M404 230.5h3m-1.5 -1.5v3M404 231.5h3m-1.5 -1.5v3M404 232.5h3m-1.5 -1.5v3M405 233.5h3m-1.5 -1.5v3M405 234.5h3m-1.5 -1.5v3M405 235.5h3m-1.5 -1.5v3M406 236.5h3m-1.5 -1.5v3M406 237.5h3m-1.5 -1.5v3M406 238.5h3m-1.5 -1.5v3M406 239.5h3m-1.5 -1.5v3M407 240.5h3m-1.5 -1.5v3M407 241.5h3m-1.5 -1.5v3M407 242.5h3m-1.5 -1.5v3M407 243.5h3m-1.5 -1.5v3M408 244.5h3m-1.5 -1.5v3M408 245.5h3m-1.5 -1.5v3M408 246.5h3m-1.5 -1.5v3M408 247.5h3m-1.5 -1.5v3M409 248.5h3m-1.5 -1.5v3M409 249.5h3m-1.5 -1.5v3M409 250.5h3m-1.5 -1.5v3M409 251.5h3m-1.5 -1.5v3M410 252.5h3m-1.5 -1.5v3M410 253.5h3m-1.5 -1.5v3M410 254.5h3m-1.5 -1.5v3M410 255.5h3m-1.5 -1.5v3M411 256.5h3m-1.5 -1.5v3M411 257.5h3m-1.5 -1.5v3M411 258.5h3m-1.5 -1.5v3M411 259.5h3m-1.5 -1.5v3M412 260.5h3m-1.5 -1.5v3M412 262.5h3m-1.5 -1.5v3M412 263.5h3m-1.5 -1.5v3M412 264.5h3m-1.5 -1.5v3M413 264.5h3m-1.5 -1.5v3M413 265.5h3m-1.5 -1.5v3M413 266.5h3m-1.5 -1.5v3M413 267.5h3m-1.5 -1.5v3M414 268.5h3m-1.5 -1.5v3M414 269.5h3m-1.5 -1.5v3M415 273.5h3m-1.5 -1.5v3M415 274.5h3m-1.5 -1.5v3M415 275.5h3m-1.5 -1.5v3M416 276.5h3m-1.5 -1.5v3M416 277.5h3m-1.5 -1.5v3M416 278.5h3m-1.5 -1.5v3M416 279.5h3m-1.5 -1.5v3M417 280.5h3m-1.5 -1.5v3M417 281.5h3m-1.5 -1.5v3M417 282.5h3m-1.5 -1.5v3M417 283.5h3m-1.5 -1.5v3M418 284.5h3m-1.5 -1.5v3M418 285.5h3m-1.5 -1.5v3M418 286.5h3m-1.5 -1.5v3M418 287.5h3m-1.5 -1.5v3M419 288.5h3m-1.5 -1.5v3M419 289.5h3m-1.5 -1.5v3M419 290.5h3m-1.5 -1.5v3M419 291.5h3m-1.5 -1.5v3M420 292.5h3m-1.5 -1.5v3M420 293.5h3m-1.5 -1.5v3M420 294.5h3m-1.5 -1.5v3M421 297.5h3m-1.5 -1.5v3M421 298.5h3m-1.5 -1.5v3M422 298.5h3m-1.5 -1.5v3M422 299.5h3m-1.5 -1.5v3M422 300.5h3m-1.5 -1.5v3M422 301.5h3m-1.5 -1.5v3M423 302.5h3m-1.5 -1.5v3M423 303.5h3m-1.5 -1.5v3M423 304.5h3m-1.5 -1.5v3M423 305.5h3m-1.5 -1.5v3M424 305.5h3m-1.5 -1.5v3M424 306.5h3m-1.5 -1.5v3M424 307.5h3m-1.5 -1.5v3M425 308.5h3m-1.5 -1.5v3M425 309.5h3m-1.5 -1.5v3M425 310.5h3m-1.5 -1.5v3M426 311.5h3m-1.5 -1.5v3M426 313.5h3m-1.5 -1.5v3M426 314.5h3m-1.5 -1.5v3M427 315.5h3m-1.5 -1.5v3M427 316.5h3m-1.5 -1.5v3M427 317.5h3m-1.5 -1.5v3M428 318.5h3m-1.5 -1.5v3M428 319.5h3m-1.5 -1.5v3M428 320.5h3m-1.5 -1.5v3M429 321.5h3m-1.5 -1.5v3M429 322.5h3m-1.5 -1.5v3M429 323.5h3m-1.5 -1.5v3M430 324.5h3m-1.5 -1.5v3M430 325.5h3m-1.5 -1.5v3M430 326.5h3m-1.5 -1.5v3M430 327.5h3m-1.5 -1.5v3M431 327.5h3m-1.5 -1.5v3M431 328.5h3m-1.5 -1.5v3M431 329.5h3m-1.5 -1.5v3M431 330.5h3m-1.5 -1.5v3M432 330.5h3m-1.5 -1.5v3M432 331.5h3m-1.5 -1.5v3M432 332.5h3m-1.5 -1.5v3M432 333.5h3m-1.5 -1.5v3M433 334.5h3m-1.5 -1.5v3M433 335.5h3m-1.5 -1.5v3M433 336.5h3m-1.5 -1.5v3M434 337.5h3m-1.5 -1.5v3M434 338.5h3m-1.5 -1.5v3M434 339.5h3m-1.5 -1.5v3M435 340.5h3m-1.5 -1.5v3M435 341.5h3m-1.5 -1.5v3M436 342.5h3m-1.5 -1.5v3M436 343.5h3m-1.5 -1.5v3M437 344.5h3m-1.5 -1.5v3M437 345.5h3m-1.5 -1.5v3M438 346.5h3m-1.5 -1.5v3M438 347.5h3m-1.5 -1.5v3M439 348.5h3m-1.5 -1.5v3M439 349.5h3m-1.5 -1.5v3M440 350.5h3m-1.5 -1.5v3M440 351.5h3m-1.5 -1.5v3M440 352.5h3m-1.5 -1.5v3M441 352.5h3m-1.5 -1.5v3M441 353.5h3m-1.5 -1.5v3M441 354.5h3m-1.5 -1.5v3M441 355.5h3m-1.5 -1.5v3M442 355.5h3m-1.5 -1.5v3M442 356.5h3m-1.5 -1.5v3M442 357.5h3m-1.5 -1.5v3M443 357.5h3m-1.5 -1.5v3M443 358.5h3m-1.5 -1.5v3M443 359.5h3m-1.5 -1.5v3M444 360.5h3m-1.5 -1.5v3M444 361.5h3m-1.5 -1.5v3M444 362.5h3m-1.5 -1.5v3M445 363.5h3m-1.5 -1.5v3M445 364.5h3m-1.5 -1.5v3M445 365.5h3m-1.5 -1.5v3M446 365.5h3m-1.5 -1.5v3M446 366.5h3m-1.5 -1.5v3M446 367.5h3m-1.5 -1.5v3M447 368.5h3m-1.5 -1.5v3M447 369.5h3m-1.5 -1.5v3M447 370.5h3m-1.5 -1.5v3M448 371.5h3m-1.5 -1.5v3M448 372.5h3m-1.5 -1.5v3M448 373.5h3m-1.5 -1.5v3M449 374.5h3m-1.5 -1.5v3M449 375.5h3m-1.5 -1.5v3M449 376.5h3m-1.5 -1.5v3M450 376.5h3m-1.5 -1.5v3M450 377.5h3m-1.5 -1.5v3M450 378.5h3m-1.5 -1.5v3M450 379.5h3m-1.5 -1.5v3M451 379.5h3m-1.5 -1.5v3M451 380.5h3m-1.5 -1.5v3M451 381.5h3m-1.5 -1.5v3M452 382.5h3m-1.5 -1.5v3M452 383.5h3m-1.5 -1.5v3M452 384.5h3m-1.5 -1.5v3M453 384.5h3m-1.5 -1.5v3M453 385.5h3m-1.5 -1.5v3M453 386.5h3m-1.5 -1.5v3M454 387.5h3m-1.5 -1.5v3M454 388.5h3m-1.5 -1.5v3M454 389.5h3m-1.5 -1.5v3M455 389.5h3m-1.5 -1.5v3M455 390.5h3m-1.5 -1.5v3M455 391.5h3m-1.5 -1.5v3M456 391.5h3m-1.5 -1.5v3M456 392.5h3m-1.5 -1.5v3M456 393.5h3m-1.5 -1.5v3M457 393.5h3m-1.5 -1.5v3M457 394.5h3m-1.5 -1.5v3M457 395.5h3m-1.5 -1.5v3M458 395.5h3m-1.5 -1.5v3M458 396.5h3m-1.5 -1.5v3M458 397.5h3m-1.5 -1.5v3M459 398.5h3m-1.5 -1.5v3M459 399.5h3m-1.5 -1.5v3M460 399.5h3m-1.5 -1.5v3M460 400.5h3m-1.5 -1.5v3M460 401.5h3m-1.5 -1.5v3M461 401.5h3m-1.5 -1.5v3M461 402.5h3m-1.5 -1.5v3M462 403.5h3m-1.5 -1.5v3M462 404.5h3m-1.5 -1.5v3M463 405.5h3m-1.5 -1.5v3M463 406.5h3m-1.5 -1.5v3M464 406.5h3m-1.5 -1.5v3M464 407.5h3m-1.5 -1.5v3M465 407.5h3m-1.5 -1.5v3M465 408.5h3m-1.5 -1.5v3M465 409.5h3m-1.5 -1.5v3M466 409.5h3m-1.5 -1.5v3M466 410.5h3m-1.5 -1.5v3M467 411.5h3m-1.5 -1.5v3M467 412.5h3m-1.5 -1.5v3M468 412.5h3m-1.5 -1.5v3M468 413.5h3m-1.5 -1.5v3M469 413.5h3m-1.5 -1.5v3M469 414.5h3m-1.5 -1.5v3M469 415.5h3m-1.5 -1.5v3M470 415.5h3m-1.5 -1.5v3M470 416.5h3m-1.5 -1.5v3M470 417.5h3m-1.5 -1.5v3M471 417.5h3m-1.5 -1.5v3M471 418.5h3m-1.5 -1.5v3M472 418.5h3m-1.5 -1.5v3M473 419.5h3m-1.5 -1.5v3M473 420.5h3m-1.5 -1.5v3M474 420.5h3m-1.5 -1.5v3M474 421.5h3m-1.5 -1.5v3M475 421.5h3m-1.5 -1.5v3M475 422.5h3m-1.5 -1.5v3M476 423.5h3m-1.5 -1.5v3M477 423.5h3m-1.5 -1.5v3M477 424.5h3m-1.5 -1.5v3M478 424.5h3m-1.5 -1.5v3M478 425.5h3m-1.5 -1.5v3M479 425.5h3m-1.5 -1.5v3M480 425.5h3m-1.5 -1.5v3M480 426.5h3m-1.5 -1.5v3M481 426.5h3m-1.5 -1.5v3M481 427.5h3m-1.5 -1.5v3M482 427.5h3m-1.5 -1.5v3M483 428.5h3m-1.5 -1.5v3M484 428.5h3m-1.5 -1.5v3M485 428.5h3m-1.5 -1.5v3M486 428.5h3m-1.5 -1.5v3M486 427.5h3m-1.5 -1.5v3M487 427.5h3m-1.5 -1.5v3M487 426.5h3m-1.5 -1.5v3M488 426.5h3m-1.5 -1.5v3M489 426.5h3m-1.5 -1.5v3M490 425.5h3m-1.5 -1.5v3M491 425.5h3m-1.5 -1.5v3M491 424.5h3m-1.5 -1.5v3M492 424.5h3m-1.5 -1.5v3M493 424.5h3m-1.5 -1.5v3M494 423.5h3m-1.5 -1.5v3M495 423.5h3m-1.5 -1.5v3M496 423.5h3m-1.5 -1.5v3M497 423.5h3m-1.5 -1.5v3M498 423.5h3m-1.5 -1.5v3M499 423.5h3m-1.5 -1.5v3M500 423.5h3m-1.5 -1.5v3M500 422.5h3m-1.5 -1.5v3M501 423.5h3m-1.5 -1.5v3M501 422.5h3m-1.5 -1.5v3M502 423.5h3m-1.5 -1.5v3M502 422.5h3m-1.5 -1.5v3M503 423.5h3m-1.5 -1.5v3M504 423.5h3m-1.5 -1.5v3M505 423.5h3m-1.5 -1.5v3M506 424.5h3m-1.5 -1.5v3M506 423.5h3m-1.5 -1.5v3M507 423.5h3m-1.5 -1.5v3M508 423.5h3m-1.5 -1.5v3M509 423.5h3m-1.5 -1.5v3M509 424.5h3m-1.5 -1.5v3M510 424.5h3m-1.5 -1.5v3M511 424.5h3m-1.5 -1.5v3M512 424.5h3m-1.5 -1.5v3M513 424.5h3m-1.5 -1.5v3M514 424.5h3m-1.5 -1.5v3M515 424.5h3m-1.5 -1.5v3M516 424.5h3m-1.5 -1.5v3M517 424.5h3m-1.5 -1.5v3M518 424.5h3m-1.5 -1.5v3M519 424.5h3m-1.5 -1.5v3M520 424.5h3m-1.5 -1.5v3M521 424.5h3m-1.5 -1.5v3M522 424.5h3m-1.5 -1.5v3M523 424.5h3m-1.5 -1.5v3M523 425.5h3m-1.5 -1.5v3M524 425.5h3m-1.5 -1.5v3M525 425.5h3m-1.5 -1.5v3M525 424.5h3m-1.5 -1.5v3M526 424.5h3m-1.5 -1.5v3M527 424.5h3m-1.5 -1.5v3M527 425.5h3m-1.5 -1.5v3M528 425.5h3m-1.5 -1.5v3M529 425.5h3m-1.5 -1.5v3M530 424.5h3m-1.5 -1.5v3M530 425.5h3m-1.5 -1.5v3M531 425.5h3m-1.5 -1.5v3M532 425.5h3m-1.5 -1.5v3M533 425.5h3m-1.5 -1.5v3M534 425.5h3m-1.5 -1.5v3M534 426.5h3m-1.5 -1.5v3M535 426.5h3m-1.5 -1.5v3M536 426.5h3m-1.5 -1.5v3M537 426.5h3m-1.5 -1.5v3M538 426.5h3m-1.5 -1.5v3M538 427.5h3m-1.5 -1.5v3M539 428.5h3m-1.5 -1.5v3M539 429.5h3m-1.5 -1.5v3M540 429.5h3m-1.5 -1.5v3M541 429.5h3m-1.5 -1.5v3M542 430.5h3m-1.5 -1.5v3M542 429.5h3m-1.5 -1.5v3M543 430.5h3m-1.5 -1.5v3M544 430.5h3m-1.5 -1.5v3M545 430.5h3m-1.5 -1.5v3M546 430.5h3m-1.5 -1.5v3M547 430.5h3m-1.5 -1.5v3M548 430.5h3m-1.5 -1.5v3M549 429.5h3m-1.5 -1.5v3M550 429.5h3m-1.5 -1.5v3M551 429.5h3m-1.5 -1.5v3M552 429.5h3m-1.5 -1.5v3M553 429.5h3m-1.5 -1.5v3M554 429.5h3m-1.5 -1.5v3M554 430.5h3m-1.5 -1.5v3M555 430.5h3m-1.5 -1.5v3M555 429.5h3m-1.5 -1.5v3M556 429.5h3m-1.5 -1.5v3M557 429.5h3m-1.5 -1.5v3M558 429.5h3m-1.5 -1.5v3M559 429.5h3m-1.5 -1.5v3M559 430.5h3m-1.5 -1.5v3M560 429.5h3m-1.5 -1.5v3M561 429.5h3m-1.5 -1.5v3M562 429.5h3m-1.5 -1.5v3M563 429.5h3m-1.5 -1.5v3M563 430.5h3m-1.5 -1.5v3M564 430.5h3m-1.5 -1.5v3M565 430.5h3m-1.5 -1.5v3M566 430.5h3m-1.5 -1.5v3M567 430.5h3m-1.5 -1.5v3M568 431.5h3m-1.5 -1.5v3M569 431.5h3m-1.5 -1.5v3M569 430.5h3m-1.5 -1.5v3M570 431.5h3m-1.5 -1.5v3M571 431.5h3m-1.5 -1.5v3M572 431.5h3m-1.5 -1.5v3M573 431.5h3m-1.5 -1.5v3M573 432.5h3m-1.5 -1.5v3M574 432.5h3m-1.5 -1.5v3M575 432.5h3m-1.5 -1.5v3M576 432.5h3m-1.5 -1.5v3M577 433.5h3m-1.5 -1.5v3M578 433.5h3m-1.5 -1.5v3M579 433.5h3m-1.5 -1.5v3M580 433.5h3m-1.5 -1.5v3M580 434.5h3m-1.5 -1.5v3M581 434.5h3m-1.5 -1.5v3M582 434.5h3m-1.5 -1.5v3M582 435.5h3m-1.5 -1.5v3M583 435.5h3m-1.5 -1.5v3M584 435.5h3m-1.5 -1.5v3M584 436.5h3m-1.5 -1.5v3M585 436.5h3m-1.5 -1.5v3M586 436.5h3m-1.5 -1.5v3M587 436.5h3m-1.5 -1.5v3M587 437.5h3m-1.5 -1.5v3M588 437.5h3m-1.5 -1.5v3M589 437.5h3m-1.5 -1.5v3M590 437.5h3m-1.5 -1.5v3M590 438.5h3m-1.5 -1.5v3M591 438.5h3m-1.5 -1.5v3M592 438.5h3m-1.5 -1.5v3M593 438.5h3m-1.5 -1.5v3M593 439.5h3m-1.5 -1.5v3M594 439.5h3m-1.5 -1.5v3M595 439.5h3m-1.5 -1.5v3M596 439.5h3m-1.5 -1.5v3M596 440.5h3m-1.5 -1.5v3M597 440.5h3m-1.5 -1.5v3M598 440.5h3m-1.5 -1.5v3M599 440.5h3m-1.5 -1.5v3M600 440.5h3m-1.5 -1.5v3M601 440.5h3m-1.5 -1.5v3M601 441.5h3m-1.5 -1.5v3M602 441.5h3m-1.5 -1.5v3M603 441.5h3m-1.5 -1.5v3M604 441.5h3m-1.5 -1.5v3M605 441.5h3m-1.5 -1.5v3M606 441.5h3m-1.5 -1.5v3M607 441.5h3m-1.5 -1.5v3M607 442.5h3m-1.5 -1.5v3M608 442.5h3m-1.5 -1.5v3M609 442.5h3m-1.5 -1.5v3M610 442.5h3m-1.5 -1.5v3M611 442.5h3m-1.5 -1.5v3M611 443.5h3m-1.5 -1.5v3M612 442.5h3m-1.5 -1.5v3M612 443.5h3m-1.5 -1.5v3M613 443.5h3m-1.5 -1.5v3M614 443.5h3m-1.5 -1.5v3M615 443.5h3m-1.5 -1.5v3M616 443.5h3m-1.5 -1.5v3M617 443.5h3m-1.5 -1.5v3M618 443.5h3m-1.5 -1.5v3M619 443.5h3m-1.5 -1.5v3M620 443.5h3m-1.5 -1.5v3M621 443.5h3m-1.5 -1.5v3M621 442.5h3m-1.5 -1.5v3M622 442.5h3m-1.5 -1.5v3M623 442.5h3m-1.5 -1.5v3M624 442.5h3m-1.5 -1.5v3M625 442.5h3m-1.5 -1.5v3M626 442.5h3m-1.5 -1.5v3M627 442.5h3m-1.5 -1.5v3M628 442.5h3m-1.5 -1.5v3M629 442.5h3m-1.5 -1.5v3M630 441.5h3m-1.5 -1.5v3M631 441.5h3m-1.5 -1.5v3M632 441.5h3m-1.5 -1.5v3M632 440.5h3m-1.5 -1.5v3M633 440.5h3m-1.5 -1.5v3M634 440.5h3m-1.5 -1.5v3M635 440.5h3m-1.5 -1.5v3M635 439.5h3m-1.5 -1.5v3M636 439.5h3m-1.5 -1.5v3M637 439.5h3m-1.5 -1.5v3M638 438.5h3m-1.5 -1.5v3M638 439.5h3m-1.5 -1.5v3M639 439.5h3m-1.5 -1.5v3M639 438.5h3m-1.5 -1.5v3M640 438.5h3m-1.5 -1.5v3M640 439.5h3m-1.5 -1.5v3M641 438.5h3m-1.5 -1.5v3M641 437.5h3m-1.5 -1.5v3M426 310.5h3m-1.5 -1.5v3M427 314.5h3m-1.5 -1.5v3M428 316.5h3m-1.5 -1.5v3M428 317.5h3m-1.5 -1.5v3M429 318.5h3m-1.5 -1.5v3M429 319.5h3m-1.5 -1.5v3M429 320.5h3m-1.5 -1.5v3M430 321.5h3m-1.5 -1.5v3M430 322.5h3m-1.5 -1.5v3M430 323.5h3m-1.5 -1.5v3M431 323.5h3m-1.5 -1.5v3M431 324.5h3m-1.5 -1.5v3M431 325.5h3m-1.5 -1.5v3M431 326.5h3m-1.5 -1.5v3M432 326.5h3m-1.5 -1.5v3M432 327.5h3m-1.5 -1.5v3M432 328.5h3m-1.5 -1.5v3M433 328.5h3m-1.5 -1.5v3M433 329.5h3m-1.5 -1.5v3M433 330.5h3m-1.5 -1.5v3M434 331.5h3m-1.5 -1.5v3M434 332.5h3m-1.5 -1.5v3M435 333.5h3m-1.5 -1.5v3M435 334.5h3m-1.5 -1.5v3M436 335.5h3m-1.5 -1.5v3M436 336.5h3m-1.5 -1.5v3M437 337.5h3m-1.5 -1.5v3M437 338.5h3m-1.5 -1.5v3M438 339.5h3m-1.5 -1.5v3M438 340.5h3m-1.5 -1.5v3M438 341.5h3m-1.5 -1.5v3M439 341.5h3m-1.5 -1.5v3M439 342.5h3m-1.5 -1.5v3M439 343.5h3m-1.5 -1.5v3M439 344.5h3m-1.5 -1.5v3M440 344.5h3m-1.5 -1.5v3M440 345.5h3m-1.5 -1.5v3M440 346.5h3m-1.5 -1.5v3M440 347.5h3m-1.5 -1.5v3M441 347.5h3m-1.5 -1.5v3M441 348.5h3m-1.5 -1.5v3M441 349.5h3m-1.5 -1.5v3M441 350.5h3m-1.5 -1.5v3M441 351.5h3m-1.5 -1.5v3M442 351.5h3m-1.5 -1.5v3M442 352.5h3m-1.5 -1.5v3M442 353.5h3m-1.5 -1.5v3M442 354.5h3m-1.5 -1.5v3M443 355.5h3m-1.5 -1.5v3M443 356.5h3m-1.5 -1.5v3M444 358.5h3m-1.5 -1.5v3M444 359.5h3m-1.5 -1.5v3M445 361.5h3m-1.5 -1.5v3M445 362.5h3m-1.5 -1.5v3M446 363.5h3m-1.5 -1.5v3M446 364.5h3m-1.5 -1.5v3M447 366.5h3m-1.5 -1.5v3M447 367.5h3m-1.5 -1.5v3M448 369.5h3m-1.5 -1.5v3M448 370.5h3m-1.5 -1.5v3M449 372.5h3m-1.5 -1.5v3M449 373.5h3m-1.5 -1.5v3M450 374.5h3m-1.5 -1.5v3M450 375.5h3m-1.5 -1.5v3M451 377.5h3m-1.5 -1.5v3M451 378.5h3m-1.5 -1.5v3M452 380.5h3m-1.5 -1.5v3M452 381.5h3m-1.5 -1.5v3M453 381.5h3m-1.5 -1.5v3M453 382.5h3m-1.5 -1.5v3M453 383.5h3m-1.5 -1.5v3M454 384.5h3m-1.5 -1.5v3M454 385.5h3m-1.5 -1.5v3M454 386.5h3m-1.5 -1.5v3M455 386.5h3m-1.5 -1.5v3M455 387.5h3m-1.5 -1.5v3M455 388.5h3m-1.5 -1.5v3M456 388.5h3m-1.5 -1.5v3M456 389.5h3m-1.5 -1.5v3M456 390.5h3m-1.5 -1.5v3M457 390.5h3m-1.5 -1.5v3M457 391.5h3m-1.5 -1.5v3M457 392.5h3m-1.5 -1.5v3M458 392.5h3m-1.5 -1.5v3M458 393.5h3m-1.5 -1.5v3M458 394.5h3m-1.5 -1.5v3M459 394.5h3m-1.5 -1.5v3M459 395.5h3m-1.5 -1.5v3M459 396.5h3m-1.5 -1.5v3M460 396.5h3m-1.5 -1.5v3M460 397.5h3m-1.5 -1.5v3M460 398.5h3m-1.5 -1.5v3M461 398.5h3m-1.5 -1.5v3M461 399.5h3m-1.5 -1.5v3M461 400.5h3m-1.5 -1.5v3M462 400.5h3m-1.5 -1.5v3M462 401.5h3m-1.5 -1.5v3M462 402.5h3m-1.5 -1.5v3M463 402.5h3m-1.5 -1.5v3M463 403.5h3m-1.5 -1.5v3M463 404.5h3m-1.5 -1.5v3M464 404.5h3m-1.5 -1.5v3M464 405.5h3m-1.5 -1.5v3M465 405.5h3m-1.5 -1.5v3M465 406.5h3m-1.5 -1.5v3M466 407.5h3m-1.5 -1.5v3M466 408.5h3m-1.5 -1.5v3M467 409.5h3m-1.5 -1.5v3M467 410.5h3m-1.5 -1.5v3M468 410.5h3m-1.5 -1.5v3M468 411.5h3m-1.5 -1.5v3M469 412.5h3m-1.5 -1.5v3M470 413.5h3m-1.5 -1.5v3M470 414.5h3m-1.5 -1.5v3M471 415.5h3m-1.5 -1.5v3M471 416.5h3m-1.5 -1.5v3M472 416.5h3m-1.5 -1.5v3M472 417.5h3m-1.5 -1.5v3M473 417.5h3m-1.5 -1.5v3M473 418.5h3m-1.5 -1.5v3M474 419.5h3m-1.5 -1.5v3M475 420.5h3m-1.5 -1.5v3M476 421.5h3m-1.5 -1.5v3M476 422.5h3m-1.5 -1.5v3M477 422.5h3m-1.5 -1.5v3M478 423.5h3m-1.5 -1.5v3M479 424.5h3m-1.5 -1.5v3M483 427.5h3m-1.5 -1.5v3M484 429.5h3m-1.5 -1.5v3M485 429.5h3m-1.5 -1.5v3M486 429.5h3m-1.5 -1.5v3M487 428.5h3m-1.5 -1.5v3M488 427.5h3m-1.5 -1.5v3M488 428.5h3m-1.5 -1.5v3M489 427.5h3m-1.5 -1.5v3M490 426.5h3m-1.5 -1.5v3M490 427.5h3m-1.5 -1.5v3M491 426.5h3m-1.5 -1.5v3M492 426.5h3m-1.5 -1.5v3M493 425.5h3m-1.5 -1.5v3M494 425.5h3m-1.5 -1.5v3M495 425.5h3m-1.5 -1.5v3M495 424.5h3m-1.5 -1.5v3M496 424.5h3m-1.5 -1.5v3M497 424.5h3m-1.5 -1.5v3M498 424.5h3m-1.5 -1.5v3M499 424.5h3m-1.5 -1.5v3M500 424.5h3m-1.5 -1.5v3M501 424.5h3m-1.5 -1.5v3M502 424.5h3m-1.5 -1.5v3M503 424.5h3m-1.5 -1.5v3M504 424.5h3m-1.5 -1.5v3M505 424.5h3m-1.5 -1.5v3M507 425.5h3m-1.5 -1.5v3M507 424.5h3m-1.5 -1.5v3M508 424.5h3m-1.5 -1.5v3M508 425.5h3m-1.5 -1.5v3M509 425.5h3m-1.5 -1.5v3M510 425.5h3m-1.5 -1.5v3M511 425.5h3m-1.5 -1.5v3M512 425.5h3m-1.5 -1.5v3M513 425.5h3m-1.5 -1.5v3M514 425.5h3m-1.5 -1.5v3M515 425.5h3m-1.5 -1.5v3M516 425.5h3m-1.5 -1.5v3M517 425.5h3m-1.5 -1.5v3M518 425.5h3m-1.5 -1.5v3M519 425.5h3m-1.5 -1.5v3M519 426.5h3m-1.5 -1.5v3M520 425.5h3m-1.5 -1.5v3M521 425.5h3m-1.5 -1.5v3M522 425.5h3m-1.5 -1.5v3M523 426.5h3m-1.5 -1.5v3M524 426.5h3m-1.5 -1.5v3M526 425.5h3m-1.5 -1.5v3M526 426.5h3m-1.5 -1.5v3M527 426.5h3m-1.5 -1.5v3M528 426.5h3m-1.5 -1.5v3M529 426.5h3m-1.5 -1.5v3M530 426.5h3m-1.5 -1.5v3M531 426.5h3m-1.5 -1.5v3M532 426.5h3m-1.5 -1.5v3M533 426.5h3m-1.5 -1.5v3M535 427.5h3m-1.5 -1.5v3M536 427.5h3m-1.5 -1.5v3M537 427.5h3m-1.5 -1.5v3M537 428.5h3m-1.5 -1.5v3M538 428.5h3m-1.5 -1.5v3M538 429.5h3m-1.5 -1.5v3M538 430.5h3m-1.5 -1.5v3M539 430.5h3m-1.5 -1.5v3M539 431.5h3m-1.5 -1.5v3M540 432.5h3m-1.5 -1.5v3M540 433.5h3m-1.5 -1.5v3M540 434.5h3m-1.5 -1.5v3M541 434.5h3m-1.5 -1.5v3M541 435.5h3m-1.5 -1.5v3M542 435.5h3m-1.5 -1.5v3M543 435.5h3m-1.5 -1.5v3M543 436.5h3m-1.5 -1.5v3M544 436.5h3m-1.5 -1.5v3M545 436.5h3m-1.5 -1.5v3M545 437.5h3m-1.5 -1.5v3M546 437.5h3m-1.5 -1.5v3M547 437.5h3m-1.5 -1.5v3M548 437.5h3m-1.5 -1.5v3M548 438.5h3m-1.5 -1.5v3M549 438.5h3m-1.5 -1.5v3M550 438.5h3m-1.5 -1.5v3M551 438.5h3m-1.5 -1.5v3M552 438.5h3m-1.5 -1.5v3M553 439.5h3m-1.5 -1.5v3M554 439.5h3m-1.5 -1.5v3M555 439.5h3m-1.5 -1.5v3M556 439.5h3m-1.5 -1.5v3M556 440.5h3m-1.5 -1.5v3M557 440.5h3m-1.5 -1.5v3M558 440.5h3m-1.5 -1.5v3M559 440.5h3m-1.5 -1.5v3M559 441.5h3m-1.5 -1.5v3M560 440.5h3m-1.5 -1.5v3M560 441.5h3m-1.5 -1.5v3M561 441.5h3m-1.5 -1.5v3M562 441.5h3m-1.5 -1.5v3M562 442.5h3m-1.5 -1.5v3M563 442.5h3m-1.5 -1.5v3M564 442.5h3m-1.5 -1.5v3M565 443.5h3m-1.5 -1.5v3M566 443.5h3m-1.5 -1.5v3M567 443.5h3m-1.5 -1.5v3M568 443.5h3m-1.5 -1.5v3M568 444.5h3m-1.5 -1.5v3M569 443.5h3m-1.5 -1.5v3M569 444.5h3m-1.5 -1.5v3M570 444.5h3m-1.5 -1.5v3M571 444.5h3m-1.5 -1.5v3M572 444.5h3m-1.5 -1.5v3M573 444.5h3m-1.5 -1.5v3M573 445.5h3m-1.5 -1.5v3M574 444.5h3m-1.5 -1.5v3M574 445.5h3m-1.5 -1.5v3M575 445.5h3m-1.5 -1.5v3M576 445.5h3m-1.5 -1.5v3M577 445.5h3m-1.5 -1.5v3M577 446.5h3m-1.5 -1.5v3M578 446.5h3m-1.5 -1.5v3M579 446.5h3m-1.5 -1.5v3M580 446.5h3m-1.5 -1.5v3M580 447.5h3m-1.5 -1.5v3M581 447.5h3m-1.5 -1.5v3M581 448.5h3m-1.5 -1.5v3M582 448.5h3m-1.5 -1.5v3M583 448.5h3m-1.5 -1.5v3M584 449.5h3m-1.5 -1.5v3M585 449.5h3m-1.5 -1.5v3M586 449.5h3m-1.5 -1.5v3M586 450.5h3m-1.5 -1.5v3M587 450.5h3m-1.5 -1.5v3M588 450.5h3m-1.5 -1.5v3M589 450.5h3m-1.5 -1.5v3M590 450.5h3m-1.5 -1.5v3M590 451.5h3m-1.5 -1.5v3M591 451.5h3m-1.5 -1.5v3M592 451.5h3m-1.5 -1.5v3M593 451.5h3m-1.5 -1.5v3M593 452.5h3m-1.5 -1.5v3M594 452.5h3m-1.5 -1.5v3M595 452.5h3m-1.5 -1.5v3M595 453.5h3m-1.5 -1.5v3M596 453.5h3m-1.5 -1.5v3M597 453.5h3m-1.5 -1.5v3M598 453.5h3m-1.5 -1.5v3M598 454.5h3m-1.5 -1.5v3M599 454.5h3m-1.5 -1.5v3M600 455.5h3m-1.5 -1.5v3M600 454.5h3m-1.5 -1.5v3M601 455.5h3m-1.5 -1.5v3M602 455.5h3m-1.5 -1.5v3M603 455.5h3m-1.5 -1.5v3M604 455.5h3m-1.5 -1.5v3M604 456.5h3m-1.5 -1.5v3M605 456.5h3m-1.5 -1.5v3M606 456.5h3m-1.5 -1.5v3M607 457.5h3m-1.5 -1.5v3M608 457.5h3m-1.5 -1.5v3M609 457.5h3m-1.5 -1.5v3M609 458.5h3m-1.5 -1.5v3M610 458.5h3m-1.5 -1.5v3M611 458.5h3m-1.5 -1.5v3M612 458.5h3m-1.5 -1.5v3M612 459.5h3m-1.5 -1.5v3M613 459.5h3m-1.5 -1.5v3M614 459.5h3m-1.5 -1.5v3M615 459.5h3m-1.5 -1.5v3M616 459.5h3m-1.5 -1.5v3M617 460.5h3m-1.5 -1.5v3M618 460.5h3m-1.5 -1.5v3M619 460.5h3m-1.5 -1.5v3M620 460.5h3m-1.5 -1.5v3M620 461.5h3m-1.5 -1.5v3M621 461.5h3m-1.5 -1.5v3M621 460.5h3m-1.5 -1.5v3M622 460.5h3m-1.5 -1.5v3M623 460.5h3m-1.5 -1.5v3M624 459.5h3m-1.5 -1.5v3M625 459.5h3m-1.5 -1.5v3M625 458.5h3m-1.5 -1.5v3M626 458.5h3m-1.5 -1.5v3M627 458.5h3m-1.5 -1.5v3M628 458.5h3m-1.5 -1.5v3M629 458.5h3m-1.5 -1.5v3M630 458.5h3m-1.5 -1.5v3M630 457.5h3m-1.5 -1.5v3M631 457.5h3m-1.5 -1.5v3M632 457.5h3m-1.5 -1.5v3M633 457.5h3m-1.5 -1.5v3M634 457.5h3m-1.5 -1.5v3M635 457.5h3m-1.5 -1.5v3M636 457.5h3m-1.5 -1.5v3M637 456.5h3m-1.5 -1.5v3M638 456.5h3m-1.5 -1.5v3M639 456.5h3m-1.5 -1.5v3M639 455.5h3m-1.5 -1.5v3M640 455.5h3m-1.5 -1.5v3M641 455.5h3m-1.5 -1.5v3M642 455.5h3m-1.5 -1.5v3M643 455.5h3m-1.5 -1.5v3M644 455.5h3m-1.5 -1.5v3M645 455.5h3m-1.5 -1.5v3M646 456.5h3m-1.5 -1.5v3M646 455.5h3m-1.5 -1.5v3M647 455.5h3m-1.5 -1.5v3M647 456.5h3m-1.5 -1.5v3M648 455.5h3m-1.5 -1.5v3M649 455.5h3m-1.5 -1.5v3M649 456.5h3m-1.5 -1.5v3M650 456.5h3m-1.5 -1.5v3M650 455.5h3m-1.5 -1.5v3M651 456.5h3m-1.5 -1.5v3M652 456.5h3m-1.5 -1.5v3M653 456.5h3m-1.5 -1.5v3M653 457.5h3m-1.5 -1.5v3M654 456.5h3m-1.5 -1.5v3M654 455.5h3m-1.5 -1.5v3M655 456.5h3m-1.5 -1.5v3M655 455.5h3m-1.5 -1.5v3M656 456.5h3m-1.5 -1.5v3M656 457.5h3m-1.5 -1.5v3M657 456.5h3m-1.5 -1.5v3M657 457.5h3m-1.5 -1.5v3M658 456.5h3m-1.5 -1.5v3M537 429.5h3m-1.5 -1.5v3M537 430.5h3m-1.5 -1.5v3M538 431.5h3m-1.5 -1.5v3M538 432.5h3m-1.5 -1.5v3M539 432.5h3m-1.5 -1.5v3M539 433.5h3m-1.5 -1.5v3M540 435.5h3m-1.5 -1.5v3M541 436.5h3m-1.5 -1.5v3M542 437.5h3m-1.5 -1.5v3M542 438.5h3m-1.5 -1.5v3M543 438.5h3m-1.5 -1.5v3M543 439.5h3m-1.5 -1.5v3M544 439.5h3m-1.5 -1.5v3M545 439.5h3m-1.5 -1.5v3M546 440.5h3m-1.5 -1.5v3M547 440.5h3m-1.5 -1.5v3M548 441.5h3m-1.5 -1.5v3M549 441.5h3m-1.5 -1.5v3M549 442.5h3m-1.5 -1.5v3M550 442.5h3m-1.5 -1.5v3M551 442.5h3m-1.5 -1.5v3M551 443.5h3m-1.5 -1.5v3M552 443.5h3m-1.5 -1.5v3M553 443.5h3m-1.5 -1.5v3M554 443.5h3m-1.5 -1.5v3M555 443.5h3m-1.5 -1.5v3M555 444.5h3m-1.5 -1.5v3M556 444.5h3m-1.5 -1.5v3M557 444.5h3m-1.5 -1.5v3M558 444.5h3m-1.5 -1.5v3M559 445.5h3m-1.5 -1.5v3M560 445.5h3m-1.5 -1.5v3M561 445.5h3m-1.5 -1.5v3M562 446.5h3m-1.5 -1.5v3M562 445.5h3m-1.5 -1.5v3M563 446.5h3m-1.5 -1.5v3M564 446.5h3m-1.5 -1.5v3M565 446.5h3m-1.5 -1.5v3M565 447.5h3m-1.5 -1.5v3M566 447.5h3m-1.5 -1.5v3M566 448.5h3m-1.5 -1.5v3M567 447.5h3m-1.5 -1.5v3M568 448.5h3m-1.5 -1.5v3M569 448.5h3m-1.5 -1.5v3M570 448.5h3m-1.5 -1.5v3M571 449.5h3m-1.5 -1.5v3M571 448.5h3m-1.5 -1.5v3M572 449.5h3m-1.5 -1.5v3M573 449.5h3m-1.5 -1.5v3M573 450.5h3m-1.5 -1.5v3M574 449.5h3m-1.5 -1.5v3M574 450.5h3m-1.5 -1.5v3M575 450.5h3m-1.5 -1.5v3M576 450.5h3m-1.5 -1.5v3M576 451.5h3m-1.5 -1.5v3M577 451.5h3m-1.5 -1.5v3M578 451.5h3m-1.5 -1.5v3M579 451.5h3m-1.5 -1.5v3M580 451.5h3m-1.5 -1.5v3M580 452.5h3m-1.5 -1.5v3M581 452.5h3m-1.5 -1.5v3M582 452.5h3m-1.5 -1.5v3M583 452.5h3m-1.5 -1.5v3M583 453.5h3m-1.5 -1.5v3M584 453.5h3m-1.5 -1.5v3M585 453.5h3m-1.5 -1.5v3M586 453.5h3m-1.5 -1.5v3M587 454.5h3m-1.5 -1.5v3M588 454.5h3m-1.5 -1.5v3M588 455.5h3m-1.5 -1.5v3M589 455.5h3m-1.5 -1.5v3M590 455.5h3m-1.5 -1.5v3M591 455.5h3m-1.5 -1.5v3M592 455.5h3m-1.5 -1.5v3M592 456.5h3m-1.5 -1.5v3M593 456.5h3m-1.5 -1.5v3M594 456.5h3m-1.5 -1.5v3M595 456.5h3m-1.5 -1.5v3M595 457.5h3m-1.5 -1.5v3M596 457.5h3m-1.5 -1.5v3M597 457.5h3m-1.5 -1.5v3M598 457.5h3m-1.5 -1.5v3M599 458.5h3m-1.5 -1.5v3M600 458.5h3m-1.5 -1.5v3M601 458.5h3m-1.5 -1.5v3M602 458.5h3m-1.5 -1.5v3M602 459.5h3m-1.5 -1.5v3M603 459.5h3m-1.5 -1.5v3M604 459.5h3m-1.5 -1.5v3M605 460.5h3m-1.5 -1.5v3M606 460.5h3m-1.5 -1.5v3M607 460.5h3m-1.5 -1.5v3M608 460.5h3m-1.5 -1.5v3M609 460.5h3m-1.5 -1.5v3M610 461.5h3m-1.5 -1.5v3M611 461.5h3m-1.5 -1.5v3M612 461.5h3m-1.5 -1.5v3M613 462.5h3m-1.5 -1.5v3M614 462.5h3m-1.5 -1.5v3M615 462.5h3m-1.5 -1.5v3M616 462.5h3m-1.5 -1.5v3M617 462.5h3m-1.5 -1.5v3M618 462.5h3m-1.5 -1.5v3M619 462.5h3m-1.5 -1.5v3M620 462.5h3m-1.5 -1.5v3M621 462.5h3m-1.5 -1.5v3M622 462.5h3m-1.5 -1.5v3M623 462.5h3m-1.5 -1.5v3M624 462.5h3m-1.5 -1.5v3M625 462.5h3m-1.5 -1.5v3M626 462.5h3m-1.5 -1.5v3M627 462.5h3m-1.5 -1.5v3M627 461.5h3m-1.5 -1.5v3M628 461.5h3m-1.5 -1.5v3M629 461.5h3m-1.5 -1.5v3M630 461.5h3m-1.5 -1.5v3M631 460.5h3m-1.5 -1.5v3M632 461.5h3m-1.5 -1.5v3M633 460.5h3m-1.5 -1.5v3M634 460.5h3m-1.5 -1.5v3M635 460.5h3m-1.5 -1.5v3M636 460.5h3m-1.5 -1.5v3M637 460.5h3m-1.5 -1.5v3M638 460.5h3m-1.5 -1.5v3M639 459.5h3m-1.5 -1.5v3M640 459.5h3m-1.5 -1.5v3M641 459.5h3m-1.5 -1.5v3M642 459.5h3m-1.5 -1.5v3M642 460.5h3m-1.5 -1.5v3M643 459.5h3m-1.5 -1.5v3M644 459.5h3m-1.5 -1.5v3M645 458.5h3m-1.5 -1.5v3M645 459.5h3m-1.5 -1.5v3M646 458.5h3m-1.5 -1.5v3M646 459.5h3m-1.5 -1.5v3M647 459.5h3m-1.5 -1.5v3M647 460.5h3m-1.5 -1.5v3M648 459.5h3m-1.5 -1.5v3M648 460.5h3m-1.5 -1.5v3M649 460.5h3m-1.5 -1.5v3M650 459.5h3m-1.5 -1.5v3M651 458.5h3m-1.5 -1.5v3M651 459.5h3m-1.5 -1.5v3M652 459.5h3m-1.5 -1.5v3M653 460.5h3m-1.5 -1.5v3M653 459.5h3m-1.5 -1.5v3M654 460.5h3m-1.5 -1.5v3M654 459.5h3m-1.5 -1.5v3M655 459.5h3m-1.5 -1.5v3M656 460.5h3m-1.5 -1.5v3M656 459.5h3m-1.5 -1.5v3M657 459.5h3m-1.5 -1.5v3M658 459.5h3m-1.5 -1.5v3M413 234.5h3m-1.5 -1.5v3M413 235.5h3m-1.5 -1.5v3M414 235.5h3m-1.5 -1.5v3M414 236.5h3m-1.5 -1.5v3M415 237.5h3m-1.5 -1.5v3M415 238.5h3m-1.5 -1.5v3M415 239.5h3m-1.5 -1.5v3M416 239.5h3m-1.5 -1.5v3M416 240.5h3m-1.5 -1.5v3M416 241.5h3m-1.5 -1.5v3M417 242.5h3m-1.5 -1.5v3M417 243.5h3m-1.5 -1.5v3M417 244.5h3m-1.5 -1.5v3M418 245.5h3m-1.5 -1.5v3M418 246.5h3m-1.5 -1.5v3M418 247.5h3m-1.5 -1.5v3M419 247.5h3m-1.5 -1.5v3M419 248.5h3m-1.5 -1.5v3M419 249.5h3m-1.5 -1.5v3M420 250.5h3m-1.5 -1.5v3M420 251.5h3m-1.5 -1.5v3M421 252.5h3m-1.5 -1.5v3M421 253.5h3m-1.5 -1.5v3M421 254.5h3m-1.5 -1.5v3M422 254.5h3m-1.5 -1.5v3M422 255.5h3m-1.5 -1.5v3M422 256.5h3m-1.5 -1.5v3M423 257.5h3m-1.5 -1.5v3M423 258.5h3m-1.5 -1.5v3M423 259.5h3m-1.5 -1.5v3M424 259.5h3m-1.5 -1.5v3M424 260.5h3m-1.5 -1.5v3M424 261.5h3m-1.5 -1.5v3M425 261.5h3m-1.5 -1.5v3M425 262.5h3m-1.5 -1.5v3M425 263.5h3m-1.5 -1.5v3M425 264.5h3m-1.5 -1.5v3M426 264.5h3m-1.5 -1.5v3M426 265.5h3m-1.5 -1.5v3M426 266.5h3m-1.5 -1.5v3M426 267.5h3m-1.5 -1.5v3M427 268.5h3m-1.5 -1.5v3M427 269.5h3m-1.5 -1.5v3M428 270.5h3m-1.5 -1.5v3M428 271.5h3m-1.5 -1.5v3M429 272.5h3m-1.5 -1.5v3M429 273.5h3m-1.5 -1.5v3M430 273.5h3m-1.5 -1.5v3M430 274.5h3m-1.5 -1.5v3M431 275.5h3m-1.5 -1.5v3M431 276.5h3m-1.5 -1.5v3M432 277.5h3m-1.5 -1.5v3M432 278.5h3m-1.5 -1.5v3M433 279.5h3m-1.5 -1.5v3M433 280.5h3m-1.5 -1.5v3M434 281.5h3m-1.5 -1.5v3M434 282.5h3m-1.5 -1.5v3M435 283.5h3m-1.5 -1.5v3M435 284.5h3m-1.5 -1.5v3M436 284.5h3m-1.5 -1.5v3M436 285.5h3m-1.5 -1.5v3M436 286.5h3m-1.5 -1.5v3M436 287.5h3m-1.5 -1.5v3M437 287.5h3m-1.5 -1.5v3M437 288.5h3m-1.5 -1.5v3M437 289.5h3m-1.5 -1.5v3M438 289.5h3m-1.5 -1.5v3M438 290.5h3m-1.5 -1.5v3M438 291.5h3m-1.5 -1.5v3M439 292.5h3m-1.5 -1.5v3M439 293.5h3m-1.5 -1.5v3M439 294.5h3m-1.5 -1.5v3M440 294.5h3m-1.5 -1.5v3M440 295.5h3m-1.5 -1.5v3M440 296.5h3m-1.5 -1.5v3M440 297.5h3m-1.5 -1.5v3M441 297.5h3m-1.5 -1.5v3M441 298.5h3m-1.5 -1.5v3M441 299.5h3m-1.5 -1.5v3M442 300.5h3m-1.5 -1.5v3M442 301.5h3m-1.5 -1.5v3M443 302.5h3m-1.5 -1.5v3M443 303.5h3m-1.5 -1.5v3M444 304.5h3m-1.5 -1.5v3M444 305.5h3m-1.5 -1.5v3M444 306.5h3m-1.5 -1.5v3M445 307.5h3m-1.5 -1.5v3M555 422.5h3m-1.5 -1.5v3M556 422.5h3m-1.5 -1.5v3M557 422.5h3m-1.5 -1.5v3M557 423.5h3m-1.5 -1.5v3M558 423.5h3m-1.5 -1.5v3M559 423.5h3m-1.5 -1.5v3M559 424.5h3m-1.5 -1.5v3M560 423.5h3m-1.5 -1.5v3M560 424.5h3m-1.5 -1.5v3M561 424.5h3m-1.5 -1.5v3M562 424.5h3m-1.5 -1.5v3M562 425.5h3m-1.5 -1.5v3M563 425.5h3m-1.5 -1.5v3M564 425.5h3m-1.5 -1.5v3M564 426.5h3m-1.5 -1.5v3M565 426.5h3m-1.5 -1.5v3M566 427.5h3m-1.5 -1.5v3M566 426.5h3m-1.5 -1.5v3M567 427.5h3m-1.5 -1.5v3M568 427.5h3m-1.5 -1.5v3M568 428.5h3m-1.5 -1.5v3M569 428.5h3m-1.5 -1.5v3M570 428.5h3m-1.5 -1.5v3M570 429.5h3m-1.5 -1.5v3M571 429.5h3m-1.5 -1.5v3M572 430.5h3m-1.5 -1.5v3M573 430.5h3m-1.5 -1.5v3M574 430.5h3m-1.5 -1.5v3M575 430.5h3m-1.5 -1.5v3M575 431.5h3m-1.5 -1.5v3M576 431.5h3m-1.5 -1.5v3M577 431.5h3m-1.5 -1.5v3M578 431.5h3m-1.5 -1.5v3M578 432.5h3m-1.5 -1.5v3M579 432.5h3m-1.5 -1.5v3M580 432.5h3m-1.5 -1.5v3M581 433.5h3m-1.5 -1.5v3M582 433.5h3m-1.5 -1.5v3M583 433.5h3m-1.5 -1.5v3M584 433.5h3m-1.5 -1.5v3M584 434.5h3m-1.5 -1.5v3M585 434.5h3m-1.5 -1.5v3M586 434.5h3m-1.5 -1.5v3M586 435.5h3m-1.5 -1.5v3M587 435.5h3m-1.5 -1.5v3M588 435.5h3m-1.5 -1.5v3M589 435.5h3m-1.5 -1.5v3M589 436.5h3m-1.5 -1.5v3M590 435.5h3m-1.5 -1.5v3M590 436.5h3m-1.5 -1.5v3M591 436.5h3m-1.5 -1.5v3M592 436.5h3m-1.5 -1.5v3M593 436.5h3m-1.5 -1.5v3M594 436.5h3m-1.5 -1.5v3M594 437.5h3m-1.5 -1.5v3M595 437.5h3m-1.5 -1.5v3M596 437.5h3m-1.5 -1.5v3M597 437.5h3m-1.5 -1.5v3M598 438.5h3m-1.5 -1.5v3M599 438.5h3m-1.5 -1.5v3M600 438.5h3m-1.5 -1.5v3M601 438.5h3m-1.5 -1.5v3M601 439.5h3m-1.5 -1.5v3M602 439.5h3m-1.5 -1.5v3M603 439.5h3m-1.5 -1.5v3M604 439.5h3m-1.5 -1.5v3M605 439.5h3m-1.5 -1.5v3M606 439.5h3m-1.5 -1.5v3M607 439.5h3m-1.5 -1.5v3M608 439.5h3m-1.5 -1.5v3M608 440.5h3m-1.5 -1.5v3M609 440.5h3m-1.5 -1.5v3M610 440.5h3m-1.5 -1.5v3M611 440.5h3m-1.5 -1.5v3M611 441.5h3m-1.5 -1.5v3M612 440.5h3m-1.5 -1.5v3M612 441.5h3m-1.5 -1.5v3M613 441.5h3m-1.5 -1.5v3M614 441.5h3m-1.5 -1.5v3M615 441.5h3m-1.5 -1.5v3M616 441.5h3m-1.5 -1.5v3M617 441.5h3m-1.5 -1.5v3M618 441.5h3m-1.5 -1.5v3M619 441.5h3m-1.5 -1.5v3M620 441.5h3m-1.5 -1.5v3M621 441.5h3m-1.5 -1.5v3M622 441.5h3m-1.5 -1.5v3M623 441.5h3m-1.5 -1.5v3M623 440.5h3m-1.5 -1.5v3M624 441.5h3m-1.5 -1.5v3M624 440.5h3m-1.5 -1.5v3M625 440.5h3m-1.5 -1.5v3M626 440.5h3m-1.5 -1.5v3M627 440.5h3m-1.5 -1.5v3M628 440.5h3m-1.5 -1.5v3M628 439.5h3m-1.5 -1.5v3M629 439.5h3m-1.5 -1.5v3M630 439.5h3m-1.5 -1.5v3M630 438.5h3m-1.5 -1.5v3M631 438.5h3m-1.5 -1.5v3M632 438.5h3m-1.5 -1.5v3M633 437.5h3m-1.5 -1.5v3M634 437.5h3m-1.5 -1.5v3M635 437.5h3m-1.5 -1.5v3M635 436.5h3m-1.5 -1.5v3M636 436.5h3m-1.5 -1.5v3M636 435.5h3m-1.5 -1.5v3M637 435.5h3m-1.5 -1.5v3M637 434.5h3m-1.5 -1.5v3M638 434.5h3m-1.5 -1.5v3M639 434.5h3m-1.5 -1.5v3M640 434.5h3m-1.5 -1.5v3M640 433.5h3m-1.5 -1.5v3M641 433.5h3m-1.5 -1.5v3M641 434.5h3m-1.5 -1.5v3M642 434.5h3m-1.5 -1.5v3M643 435.5h3m-1.5 -1.5v3M644 435.5h3m-1.5 -1.5v3M645 435.5h3m-1.5 -1.5v3M645 436.5h3m-1.5 -1.5v3M646 436.5h3m-1.5 -1.5v3M647 437.5h3m-1.5 -1.5v3M647 436.5h3m-1.5 -1.5v3M648 436.5h3m-1.5 -1.5v3M648 437.5h3m-1.5 -1.5v3M649 437.5h3m-1.5 -1.5v3M650 437.5h3m-1.5 -1.5v3M650 436.5h3m-1.5 -1.5v3M651 436.5h3m-1.5 -1.5v3M651 435.5h3m-1.5 -1.5v3M652 437.5h3m-1.5 -1.5v3M652 436.5h3m-1.5 -1.5v3M653 436.5h3m-1.5 -1.5v3M654 437.5h3m-1.5 -1.5v3M655 436.5h3m-1.5 -1.5v3M655 437.5h3m-1.5 -1.5v3M655 438.5h3m-1.5 -1.5v3M656 438.5h3m-1.5 -1.5v3M657 438.5h3m-1.5 -1.5v3M658 438.5h3m-1.5 -1.5v3M658 437.5h3m-1.5 -1.5v3M659 437.5h3m-1.5 -1.5v3M660 436.5h3m-1.5 -1.5v3M660 437.5h3m-1.5 -1.5v3M661 437.5h3m-1.5 -1.5v3M662 437.5h3m-1.5 -1.5v3M663 438.5h3m-1.5 -1.5v3M663 439.5h3m-1.5 -1.5v3M664 439.5h3m-1.5 -1.5v3M664 440.5h3m-1.5 -1.5v3M665 441.5h3m-1.5 -1.5v3M666 441.5h3m-1.5 -1.5v3M667 442.5h3m-1.5 -1.5v3M667 441.5h3m-1.5 -1.5v3M668 442.5h3m-1.5 -1.5v3M669 442.5h3m-1.5 -1.5v3M669 443.5h3m-1.5 -1.5v3M670 442.5h3m-1.5 -1.5v3M671 442.5h3m-1.5 -1.5v3M671 441.5h3m-1.5 -1.5v3M672 442.5h3m-1.5 -1.5v3M672 441.5h3m-1.5 -1.5v3M673 441.5h3m-1.5 -1.5v3M673 442.5h3m-1.5 -1.5v3M674 442.5h3m-1.5 -1.5v3M674 443.5h3m-1.5 -1.5v3M675 442.5h3m-1.5 -1.5v3M675 443.5h3m-1.5 -1.5v3M676 442.5h3m-1.5 -1.5v3M676 443.5h3m-1.5 -1.5v3M677 442.5h3m-1.5 -1.5v3M678 441.5h3m-1.5 -1.5v3M678 442.5h3m-1.5 -1.5v3M678 440.5h3m-1.5 -1.5v3M679 441.5h3m-1.5 -1.5v3M679 440.5h3m-1.5 -1.5v3M679 439.5h3m-1.5 -1.5v3M680 439.5h3m-1.5 -1.5v3M680 438.5h3m-1.5 -1.5v3M681 438.5h3m-1.5 -1.5v3M681 437.5h3m-1.5 -1.5v3M682 437.5h3m-1.5 -1.5v3M682 436.5h3m-1.5 -1.5v3M683 436.5h3m-1.5 -1.5v3M683 435.5h3m-1.5 -1.5v3M684 435.5h3m-1.5 -1.5v3M685 435.5h3m-1.5 -1.5v3M686 435.5h3m-1.5 -1.5v3M687 434.5h3m-1.5 -1.5v3M687 433.5h3m-1.5 -1.5v3M688 434.5h3m-1.5 -1.5v3M688 433.5h3m-1.5 -1.5v3M688 432.5h3m-1.5 -1.5v3M689 432.5h3m-1.5 -1.5v3M690 432.5h3m-1.5 -1.5v3M690 431.5h3m-1.5 -1.5v3M691 430.5h3m-1.5 -1.5v3M692 430.5h3m-1.5 -1.5v3M692 431.5h3m-1.5 -1.5v3M693 430.5h3m-1.5 -1.5v3M694 430.5h3m-1.5 -1.5v3M695 430.5h3m-1.5 -1.5v3M696 430.5h3m-1.5 -1.5v3M696 431.5h3m-1.5 -1.5v3M697 431.5h3m-1.5 -1.5v3M698 431.5h3m-1.5 -1.5v3M698 430.5h3m-1.5 -1.5v3M699 430.5h3m-1.5 -1.5v3M699 429.5h3m-1.5 -1.5v3M700 429.5h3m-1.5 -1.5v3M701 429.5h3m-1.5 -1.5v3M701 430.5h3m-1.5 -1.5v3M702 430.5h3m-1.5 -1.5v3M702 431.5h3m-1.5 -1.5v3M703 431.5h3m-1.5 -1.5v3M703 433.5h3m-1.5 -1.5v3M704 433.5h3m-1.5 -1.5v3M704 434.5h3m-1.5 -1.5v3M704 435.5h3m-1.5 -1.5v3M705 436.5h3m-1.5 -1.5v3M705 437.5h3m-1.5 -1.5v3M705 438.5h3m-1.5 -1.5v3M705 439.5h3m-1.5 -1.5v3M706 440.5h3m-1.5 -1.5v3M706 439.5h3m-1.5 -1.5v3M706 438.5h3m-1.5 -1.5v3M707 436.5h3m-1.5 -1.5v3M707 435.5h3m-1.5 -1.5v3M707 434.5h3m-1.5 -1.5v3M708 435.5h3m-1.5 -1.5v3M708 434.5h3m-1.5 -1.5v3M709 436.5h3m-1.5 -1.5v3M709 438.5h3m-1.5 -1.5v3M710 437.5h3m-1.5 -1.5v3M710 438.5h3m-1.5 -1.5v3M711 438.5h3m-1.5 -1.5v3M711 437.5h3m-1.5 -1.5v3M712 437.5h3m-1.5 -1.5v3M712 436.5h3m-1.5 -1.5v3M713 435.5h3m-1.5 -1.5v3M714 435.5h3m-1.5 -1.5v3M715 435.5h3m-1.5 -1.5v3M716 435.5h3m-1.5 -1.5v3M716 436.5h3m-1.5 -1.5v3M717 436.5h3m-1.5 -1.5v3M718 436.5h3m-1.5 -1.5v3M719 436.5h3m-1.5 -1.5v3M719 435.5h3m-1.5 -1.5v3M720 436.5h3m-1.5 -1.5v3M720 435.5h3m-1.5 -1.5v3M721 436.5h3m-1.5 -1.5v3M721 435.5h3m-1.5 -1.5v3M722 436.5h3m-1.5 -1.5v3M723 436.5h3m-1.5 -1.5v3M723 435.5h3m-1.5 -1.5v3M724 436.5h3m-1.5 -1.5v3M724 435.5h3m-1.5 -1.5v3M725 436.5h3m-1.5 -1.5v3M726 436.5h3m-1.5 -1.5v3M726 437.5h3m-1.5 -1.5v3M727 437.5h3m-1.5 -1.5v3M728 438.5h3m-1.5 -1.5v3M728 439.5h3m-1.5 -1.5v3M729 439.5h3m-1.5 -1.5v3M730 440.5h3m-1.5 -1.5v3M731 440.5h3m-1.5 -1.5v3M731 441.5h3m-1.5 -1.5v3M732 442.5h3m-1.5 -1.5v3M732 441.5h3m-1.5 -1.5v3M733 441.5h3m-1.5 -1.5v3M734 441.5h3m-1.5 -1.5v3M734 440.5h3m-1.5 -1.5v3M735 441.5h3m-1.5 -1.5v3M735 440.5h3m-1.5 -1.5v3M735 439.5h3m-1.5 -1.5v3M735 438.5h3m-1.5 -1.5v3M735 437.5h3m-1.5 -1.5v3M736 436.5h3m-1.5 -1.5v3M736 435.5h3m-1.5 -1.5v3M736 434.5h3m-1.5 -1.5v3M736 433.5h3m-1.5 -1.5v3M737 432.5h3m-1.5 -1.5v3M737 431.5h3m-1.5 -1.5v3M737 430.5h3m-1.5 -1.5v3M738 429.5h3m-1.5 -1.5v3M738 428.5h3m-1.5 -1.5v3M739 427.5h3m-1.5 -1.5v3M739 426.5h3m-1.5 -1.5v3M740 426.5h3m-1.5 -1.5v3M740 425.5h3m-1.5 -1.5v3M741 425.5h3m-1.5 -1.5v3M741 424.5h3m-1.5 -1.5v3M742 424.5h3m-1.5 -1.5v3M743 424.5h3m-1.5 -1.5v3M743 423.5h3m-1.5 -1.5v3M744 423.5h3m-1.5 -1.5v3M744 422.5h3m-1.5 -1.5v3M745 421.5h3m-1.5 -1.5v3M745 422.5h3m-1.5 -1.5v3M746 422.5h3m-1.5 -1.5v3M747 423.5h3m-1.5 -1.5v3M747 422.5h3m-1.5 -1.5v3M748 423.5h3m-1.5 -1.5v3M748 424.5h3m-1.5 -1.5v3M749 424.5h3m-1.5 -1.5v3M750 424.5h3m-1.5 -1.5v3M750 423.5h3m-1.5 -1.5v3M751 424.5h3m-1.5 -1.5v3M751 423.5h3m-1.5 -1.5v3M752 424.5h3m-1.5 -1.5v3M753 424.5h3m-1.5 -1.5v3M753 425.5h3m-1.5 -1.5v3M753 426.5h3m-1.5 -1.5v3M754 426.5h3m-1.5 -1.5v3M754 427.5h3m-1.5 -1.5v3M667 412.5h3m-1.5 -1.5v3M667 413.5h3m-1.5 -1.5v3M668 413.5h3m-1.5 -1.5v3M668 412.5h3m-1.5 -1.5v3M669 412.5h3m-1.5 -1.5v3M670 413.5h3m-1.5 -1.5v3M671 413.5h3m-1.5 -1.5v3M672 413.5h3m-1.5 -1.5v3M673 413.5h3m-1.5 -1.5v3M673 412.5h3m-1.5 -1.5v3M674 412.5h3m-1.5 -1.5v3M674 413.5h3m-1.5 -1.5v3M675 412.5h3m-1.5 -1.5v3M675 413.5h3m-1.5 -1.5v3M676 413.5h3m-1.5 -1.5v3M677 414.5h3m-1.5 -1.5v3M677 413.5h3m-1.5 -1.5v3M678 413.5h3m-1.5 -1.5v3M678 412.5h3m-1.5 -1.5v3M679 412.5h3m-1.5 -1.5v3M679 413.5h3m-1.5 -1.5v3M680 413.5h3m-1.5 -1.5v3M680 414.5h3m-1.5 -1.5v3M681 413.5h3m-1.5 -1.5v3M682 413.5h3m-1.5 -1.5v3M682 412.5h3m-1.5 -1.5v3M683 413.5h3m-1.5 -1.5v3M684 413.5h3m-1.5 -1.5v3M684 412.5h3m-1.5 -1.5v3M685 412.5h3m-1.5 -1.5v3M685 411.5h3m-1.5 -1.5v3M686 411.5h3m-1.5 -1.5v3M686 410.5h3m-1.5 -1.5v3M687 411.5h3m-1.5 -1.5v3M687 410.5h3m-1.5 -1.5v3M688 410.5h3m-1.5 -1.5v3M688 411.5h3m-1.5 -1.5v3M689 410.5h3m-1.5 -1.5v3M690 410.5h3m-1.5 -1.5v3M690 411.5h3m-1.5 -1.5v3M691 410.5h3m-1.5 -1.5v3M691 409.5h3m-1.5 -1.5v3M692 409.5h3m-1.5 -1.5v3M692 410.5h3m-1.5 -1.5v3M693 410.5h3m-1.5 -1.5v3M693 409.5h3m-1.5 -1.5v3M694 409.5h3m-1.5 -1.5v3M694 410.5h3m-1.5 -1.5v3M695 409.5h3m-1.5 -1.5v3M695 408.5h3m-1.5 -1.5v3M696 409.5h3m-1.5 -1.5v3M697 409.5h3m-1.5 -1.5v3M697 408.5h3m-1.5 -1.5v3M698 409.5h3m-1.5 -1.5v3M698 408.5h3m-1.5 -1.5v3M699 408.5h3m-1.5 -1.5v3M700 408.5h3m-1.5 -1.5v3M700 407.5h3m-1.5 -1.5v3M701 407.5h3m-1.5 -1.5v3M702 407.5h3m-1.5 -1.5v3M702 406.5h3m-1.5 -1.5v3M703 406.5h3m-1.5 -1.5v3M703 407.5h3m-1.5 -1.5v3M704 407.5h3m-1.5 -1.5v3M704 406.5h3m-1.5 -1.5v3M705 405.5h3m-1.5 -1.5v3M705 404.5h3m-1.5 -1.5v3M706 403.5h3m-1.5 -1.5v3M707 402.5h3m-1.5 -1.5v3M708 402.5h3m-1.5 -1.5v3M709 402.5h3m-1.5 -1.5v3M709 401.5h3m-1.5 -1.5v3M710 401.5h3m-1.5 -1.5v3M711 401.5h3m-1.5 -1.5v3M711 400.5h3m-1.5 -1.5v3M712 399.5h3m-1.5 -1.5v3M712 400.5h3m-1.5 -1.5v3M713 399.5h3m-1.5 -1.5v3M713 398.5h3m-1.5 -1.5v3M714 398.5h3m-1.5 -1.5v3M715 398.5h3m-1.5 -1.5v3M715 397.5h3m-1.5 -1.5v3M716 397.5h3m-1.5 -1.5v3M716 398.5h3m-1.5 -1.5v3M717 398.5h3m-1.5 -1.5v3M718 398.5h3m-1.5 -1.5v3M718 397.5h3m-1.5 -1.5v3M719 397.5h3m-1.5 -1.5v3M719 398.5h3m-1.5 -1.5v3M720 399.5h3m-1.5 -1.5v3M720 400.5h3m-1.5 -1.5v3M721 401.5h3m-1.5 -1.5v3M721 402.5h3m-1.5 -1.5v3M721 403.5h3m-1.5 -1.5v3M722 403.5h3m-1.5 -1.5v3M722 404.5h3m-1.5 -1.5v3M723 404.5h3m-1.5 -1.5v3M723 405.5h3m-1.5 -1.5v3M724 405.5h3m-1.5 -1.5v3M724 404.5h3m-1.5 -1.5v3M725 403.5h3m-1.5 -1.5v3M725 402.5h3m-1.5 -1.5v3M725 401.5h3m-1.5 -1.5v3M726 401.5h3m-1.5 -1.5v3M726 402.5h3m-1.5 -1.5v3M726 403.5h3m-1.5 -1.5v3M726 404.5h3m-1.5 -1.5v3M727 405.5h3m-1.5 -1.5v3M727 406.5h3m-1.5 -1.5v3M728 406.5h3m-1.5 -1.5v3M728 407.5h3m-1.5 -1.5v3M729 407.5h3m-1.5 -1.5v3M729 406.5h3m-1.5 -1.5v3M730 406.5h3m-1.5 -1.5v3M730 407.5h3m-1.5 -1.5v3M731 407.5h3m-1.5 -1.5v3M731 408.5h3m-1.5 -1.5v3M732 407.5h3m-1.5 -1.5v3M732 406.5h3m-1.5 -1.5v3M733 406.5h3m-1.5 -1.5v3M733 405.5h3m-1.5 -1.5v3M734 405.5h3m-1.5 -1.5v3M734 404.5h3m-1.5 -1.5v3M735 403.5h3m-1.5 -1.5v3M735 402.5h3m-1.5 -1.5v3M735 401.5h3m-1.5 -1.5v3M735 399.5h3m-1.5 -1.5v3M736 399.5h3m-1.5 -1.5v3M736 398.5h3m-1.5 -1.5v3M736 397.5h3m-1.5 -1.5v3M736 396.5h3m-1.5 -1.5v3M737 395.5h3m-1.5 -1.5v3M737 394.5h3m-1.5 -1.5v3M737 393.5h3m-1.5 -1.5v3M738 392.5h3m-1.5 -1.5v3M738 393.5h3m-1.5 -1.5v3M738 391.5h3m-1.5 -1.5v3M739 391.5h3m-1.5 -1.5v3M739 390.5h3m-1.5 -1.5v3M739 389.5h3m-1.5 -1.5v3M740 388.5h3m-1.5 -1.5v3M740 387.5h3m-1.5 -1.5v3M741 386.5h3m-1.5 -1.5v3M741 385.5h3m-1.5 -1.5v3M742 384.5h3m-1.5 -1.5v3M742 383.5h3m-1.5 -1.5v3M743 383.5h3m-1.5 -1.5v3M743 382.5h3m-1.5 -1.5v3M743 381.5h3m-1.5 -1.5v3M744 382.5h3m-1.5 -1.5v3M744 381.5h3m-1.5 -1.5v3M745 380.5h3m-1.5 -1.5v3M745 379.5h3m-1.5 -1.5v3M746 380.5h3m-1.5 -1.5v3M746 381.5h3m-1.5 -1.5v3M747 381.5h3m-1.5 -1.5v3M747 382.5h3m-1.5 -1.5v3M747 383.5h3m-1.5 -1.5v3M748 383.5h3m-1.5 -1.5v3M748 382.5h3m-1.5 -1.5v3M749 382.5h3m-1.5 -1.5v3M749 381.5h3m-1.5 -1.5v3M750 381.5h3m-1.5 -1.5v3M750 382.5h3m-1.5 -1.5v3M751 383.5h3m-1.5 -1.5v3M751 384.5h3m-1.5 -1.5v3M752 384.5h3m-1.5 -1.5v3M753 384.5h3m-1.5 -1.5v3M753 385.5h3m-1.5 -1.5v3M754 386.5h3m-1.5 -1.5v3M754 387.5h3m-1.5 -1.5v3M659 456.5h3m-1.5 -1.5v3M659 455.5h3m-1.5 -1.5v3M660 456.5h3m-1.5 -1.5v3M660 455.5h3m-1.5 -1.5v3M661 455.5h3m-1.5 -1.5v3M661 454.5h3m-1.5 -1.5v3M662 455.5h3m-1.5 -1.5v3M663 455.5h3m-1.5 -1.5v3M664 454.5h3m-1.5 -1.5v3M664 455.5h3m-1.5 -1.5v3M665 455.5h3m-1.5 -1.5v3M666 455.5h3m-1.5 -1.5v3M666 456.5h3m-1.5 -1.5v3M667 455.5h3m-1.5 -1.5v3M668 455.5h3m-1.5 -1.5v3M669 455.5h3m-1.5 -1.5v3M670 455.5h3m-1.5 -1.5v3M671 455.5h3m-1.5 -1.5v3M671 454.5h3m-1.5 -1.5v3M672 454.5h3m-1.5 -1.5v3M673 454.5h3m-1.5 -1.5v3M674 453.5h3m-1.5 -1.5v3M675 453.5h3m-1.5 -1.5v3M675 452.5h3m-1.5 -1.5v3M676 453.5h3m-1.5 -1.5v3M676 452.5h3m-1.5 -1.5v3M677 452.5h3m-1.5 -1.5v3M677 453.5h3m-1.5 -1.5v3M678 453.5h3m-1.5 -1.5v3M678 452.5h3m-1.5 -1.5v3M679 452.5h3m-1.5 -1.5v3M679 451.5h3m-1.5 -1.5v3M680 451.5h3m-1.5 -1.5v3M680 452.5h3m-1.5 -1.5v3M681 452.5h3m-1.5 -1.5v3M681 451.5h3m-1.5 -1.5v3M682 451.5h3m-1.5 -1.5v3M682 450.5h3m-1.5 -1.5v3M683 451.5h3m-1.5 -1.5v3M683 450.5h3m-1.5 -1.5v3M684 450.5h3m-1.5 -1.5v3M684 451.5h3m-1.5 -1.5v3M685 450.5h3m-1.5 -1.5v3M686 451.5h3m-1.5 -1.5v3M686 450.5h3m-1.5 -1.5v3M687 451.5h3m-1.5 -1.5v3M687 450.5h3m-1.5 -1.5v3M688 450.5h3m-1.5 -1.5v3M689 450.5h3m-1.5 -1.5v3M689 449.5h3m-1.5 -1.5v3M690 449.5h3m-1.5 -1.5v3M691 449.5h3m-1.5 -1.5v3M691 448.5h3m-1.5 -1.5v3M692 448.5h3m-1.5 -1.5v3M692 449.5h3m-1.5 -1.5v3M693 449.5h3m-1.5 -1.5v3M693 448.5h3m-1.5 -1.5v3M694 448.5h3m-1.5 -1.5v3M695 448.5h3m-1.5 -1.5v3M696 448.5h3m-1.5 -1.5v3M696 447.5h3m-1.5 -1.5v3M697 447.5h3m-1.5 -1.5v3M697 448.5h3m-1.5 -1.5v3M698 447.5h3m-1.5 -1.5v3M699 446.5h3m-1.5 -1.5v3M699 447.5h3m-1.5 -1.5v3M700 446.5h3m-1.5 -1.5v3M700 447.5h3m-1.5 -1.5v3M701 447.5h3m-1.5 -1.5v3M701 446.5h3m-1.5 -1.5v3M702 447.5h3m-1.5 -1.5v3M702 446.5h3m-1.5 -1.5v3M703 446.5h3m-1.5 -1.5v3M703 447.5h3m-1.5 -1.5v3M704 446.5h3m-1.5 -1.5v3M704 445.5h3m-1.5 -1.5v3M705 445.5h3m-1.5 -1.5v3M706 444.5h3m-1.5 -1.5v3M706 443.5h3m-1.5 -1.5v3M706 442.5h3m-1.5 -1.5v3M707 440.5h3m-1.5 -1.5v3M708 440.5h3m-1.5 -1.5v3M708 441.5h3m-1.5 -1.5v3M709 440.5h3m-1.5 -1.5v3M710 441.5h3m-1.5 -1.5v3M710 440.5h3m-1.5 -1.5v3M711 440.5h3m-1.5 -1.5v3M712 440.5h3m-1.5 -1.5v3M712 439.5h3m-1.5 -1.5v3M713 439.5h3m-1.5 -1.5v3M713 438.5h3m-1.5 -1.5v3M714 439.5h3m-1.5 -1.5v3M714 438.5h3m-1.5 -1.5v3M715 438.5h3m-1.5 -1.5v3M715 439.5h3m-1.5 -1.5v3M716 438.5h3m-1.5 -1.5v3M717 438.5h3m-1.5 -1.5v3M717 439.5h3m-1.5 -1.5v3M718 438.5h3m-1.5 -1.5v3M659 457.5h3m-1.5 -1.5v3M659 458.5h3m-1.5 -1.5v3M660 458.5h3m-1.5 -1.5v3M660 457.5h3m-1.5 -1.5v3M661 457.5h3m-1.5 -1.5v3M661 458.5h3m-1.5 -1.5v3M662 458.5h3m-1.5 -1.5v3M663 458.5h3m-1.5 -1.5v3M663 459.5h3m-1.5 -1.5v3M664 459.5h3m-1.5 -1.5v3M664 460.5h3m-1.5 -1.5v3M665 460.5h3m-1.5 -1.5v3M666 460.5h3m-1.5 -1.5v3M667 460.5h3m-1.5 -1.5v3M668 460.5h3m-1.5 -1.5v3M668 461.5h3m-1.5 -1.5v3M669 461.5h3m-1.5 -1.5v3M670 461.5h3m-1.5 -1.5v3M670 460.5h3m-1.5 -1.5v3M671 459.5h3m-1.5 -1.5v3M672 459.5h3m-1.5 -1.5v3M673 460.5h3m-1.5 -1.5v3M674 459.5h3m-1.5 -1.5v3M675 459.5h3m-1.5 -1.5v3M675 458.5h3m-1.5 -1.5v3M676 459.5h3m-1.5 -1.5v3M676 458.5h3m-1.5 -1.5v3M677 458.5h3m-1.5 -1.5v3M678 458.5h3m-1.5 -1.5v3M679 458.5h3m-1.5 -1.5v3M680 458.5h3m-1.5 -1.5v3M681 458.5h3m-1.5 -1.5v3M681 457.5h3m-1.5 -1.5v3M682 457.5h3m-1.5 -1.5v3M682 458.5h3m-1.5 -1.5v3M683 456.5h3m-1.5 -1.5v3M684 456.5h3m-1.5 -1.5v3M684 457.5h3m-1.5 -1.5v3M685 456.5h3m-1.5 -1.5v3M685 457.5h3m-1.5 -1.5v3M686 457.5h3m-1.5 -1.5v3M686 456.5h3m-1.5 -1.5v3M687 455.5h3m-1.5 -1.5v3M687 456.5h3m-1.5 -1.5v3M688 456.5h3m-1.5 -1.5v3M688 457.5h3m-1.5 -1.5v3M689 456.5h3m-1.5 -1.5v3M689 455.5h3m-1.5 -1.5v3M690 455.5h3m-1.5 -1.5v3M691 455.5h3m-1.5 -1.5v3M692 455.5h3m-1.5 -1.5v3M692 454.5h3m-1.5 -1.5v3M693 454.5h3m-1.5 -1.5v3M694 454.5h3m-1.5 -1.5v3M694 453.5h3m-1.5 -1.5v3M695 454.5h3m-1.5 -1.5v3M695 453.5h3m-1.5 -1.5v3M696 454.5h3m-1.5 -1.5v3M696 453.5h3m-1.5 -1.5v3M697 455.5h3m-1.5 -1.5v3M697 454.5h3m-1.5 -1.5v3M698 454.5h3m-1.5 -1.5v3M699 454.5h3m-1.5 -1.5v3M700 453.5h3m-1.5 -1.5v3M701 453.5h3m-1.5 -1.5v3M702 453.5h3m-1.5 -1.5v3M702 452.5h3m-1.5 -1.5v3M703 452.5h3m-1.5 -1.5v3M703 453.5h3m-1.5 -1.5v3M704 452.5h3m-1.5 -1.5v3M704 453.5h3m-1.5 -1.5v3M705 452.5h3m-1.5 -1.5v3M705 451.5h3m-1.5 -1.5v3M706 452.5h3m-1.5 -1.5v3M707 452.5h3m-1.5 -1.5v3M707 451.5h3m-1.5 -1.5v3M708 451.5h3m-1.5 -1.5v3M708 452.5h3m-1.5 -1.5v3M709 451.5h3m-1.5 -1.5v3M709 452.5h3m-1.5 -1.5v3M710 452.5h3m-1.5 -1.5v3M711 452.5h3m-1.5 -1.5v3M711 451.5h3m-1.5 -1.5v3M712 451.5h3m-1.5 -1.5v3M713 451.5h3m-1.5 -1.5v3M713 450.5h3m-1.5 -1.5v3M714 450.5h3m-1.5 -1.5v3M715 450.5h3m-1.5 -1.5v3M715 448.5h3m-1.5 -1.5v3M716 449.5h3m-1.5 -1.5v3M717 449.5h3m-1.5 -1.5v3M717 448.5h3m-1.5 -1.5v3M718 448.5h3m-1.5 -1.5v3M719 449.5h3m-1.5 -1.5v3M719 450.5h3m-1.5 -1.5v3M720 450.5h3m-1.5 -1.5v3M720 451.5h3m-1.5 -1.5v3M721 451.5h3m-1.5 -1.5v3M722 452.5h3m-1.5 -1.5v3M722 453.5h3m-1.5 -1.5v3M723 453.5h3m-1.5 -1.5v3M723 454.5h3m-1.5 -1.5v3M724 454.5h3m-1.5 -1.5v3M724 455.5h3m-1.5 -1.5v3M724 456.5h3m-1.5 -1.5v3M725 456.5h3m-1.5 -1.5v3M725 457.5h3m-1.5 -1.5v3M725 458.5h3m-1.5 -1.5v3M726 459.5h3m-1.5 -1.5v3M726 460.5h3m-1.5 -1.5v3M726 461.5h3m-1.5 -1.5v3M727 461.5h3m-1.5 -1.5v3M727 462.5h3m-1.5 -1.5v3M728 463.5h3m-1.5 -1.5v3M728 464.5h3m-1.5 -1.5v3M728 465.5h3m-1.5 -1.5v3M729 465.5h3m-1.5 -1.5v3M729 466.5h3m-1.5 -1.5v3M730 466.5h3m-1.5 -1.5v3M730 467.5h3m-1.5 -1.5v3M731 466.5h3m-1.5 -1.5v3M731 467.5h3m-1.5 -1.5v3M731 468.5h3m-1.5 -1.5v3M732 467.5h3m-1.5 -1.5v3M732 468.5h3m-1.5 -1.5v3M733 468.5h3m-1.5 -1.5v3M733 467.5h3m-1.5 -1.5v3M734 466.5h3m-1.5 -1.5v3M734 465.5h3m-1.5 -1.5v3M735 465.5h3m-1.5 -1.5v3M735 464.5h3m-1.5 -1.5v3M735 463.5h3m-1.5 -1.5v3M735 462.5h3m-1.5 -1.5v3M736 461.5h3m-1.5 -1.5v3M736 460.5h3m-1.5 -1.5v3M737 459.5h3m-1.5 -1.5v3M737 458.5h3m-1.5 -1.5v3M737 457.5h3m-1.5 -1.5v3M738 457.5h3m-1.5 -1.5v3M738 456.5h3m-1.5 -1.5v3M738 454.5h3m-1.5 -1.5v3M739 453.5h3m-1.5 -1.5v3M739 452.5h3m-1.5 -1.5v3M739 451.5h3m-1.5 -1.5v3M740 450.5h3m-1.5 -1.5v3M740 451.5h3m-1.5 -1.5v3M740 449.5h3m-1.5 -1.5v3M741 449.5h3m-1.5 -1.5v3M741 450.5h3m-1.5 -1.5v3M742 449.5h3m-1.5 -1.5v3M742 448.5h3m-1.5 -1.5v3M742 447.5h3m-1.5 -1.5v3M743 446.5h3m-1.5 -1.5v3M744 445.5h3m-1.5 -1.5v3M744 444.5h3m-1.5 -1.5v3M745 444.5h3m-1.5 -1.5v3M745 443.5h3m-1.5 -1.5v3M746 442.5h3m-1.5 -1.5v3M747 441.5h3m-1.5 -1.5v3M747 440.5h3m-1.5 -1.5v3M748 441.5h3m-1.5 -1.5v3M748 440.5h3m-1.5 -1.5v3M749 440.5h3m-1.5 -1.5v3M749 439.5h3m-1.5 -1.5v3M750 439.5h3m-1.5 -1.5v3M750 440.5h3m-1.5 -1.5v3M751 438.5h3m-1.5 -1.5v3M751 437.5h3m-1.5 -1.5v3M752 437.5h3m-1.5 -1.5v3M752 436.5h3m-1.5 -1.5v3M752 435.5h3m-1.5 -1.5v3M753 436.5h3m-1.5 -1.5v3M753 435.5h3m-1.5 -1.5v3M754 435.5h3m-1.5 -1.5v3M754 434.5h3m-1.5 -1.5v3M659 460.5h3m-1.5 -1.5v3M659 461.5h3m-1.5 -1.5v3M660 461.5h3m-1.5 -1.5v3M660 462.5h3m-1.5 -1.5v3M661 463.5h3m-1.5 -1.5v3M662 464.5h3m-1.5 -1.5v3M662 465.5h3m-1.5 -1.5v3M663 464.5h3m-1.5 -1.5v3M663 465.5h3m-1.5 -1.5v3M663 466.5h3m-1.5 -1.5v3M664 466.5h3m-1.5 -1.5v3M664 467.5h3m-1.5 -1.5v3M665 467.5h3m-1.5 -1.5v3M665 468.5h3m-1.5 -1.5v3M666 468.5h3m-1.5 -1.5v3M667 469.5h3m-1.5 -1.5v3M667 468.5h3m-1.5 -1.5v3M668 469.5h3m-1.5 -1.5v3M668 468.5h3m-1.5 -1.5v3M668 467.5h3m-1.5 -1.5v3M669 467.5h3m-1.5 -1.5v3M669 468.5h3m-1.5 -1.5v3M670 467.5h3m-1.5 -1.5v3M670 468.5h3m-1.5 -1.5v3M671 467.5h3m-1.5 -1.5v3M671 466.5h3m-1.5 -1.5v3M672 465.5h3m-1.5 -1.5v3M672 466.5h3m-1.5 -1.5v3M673 466.5h3m-1.5 -1.5v3M673 465.5h3m-1.5 -1.5v3M674 465.5h3m-1.5 -1.5v3M675 465.5h3m-1.5 -1.5v3M675 466.5h3m-1.5 -1.5v3M676 465.5h3m-1.5 -1.5v3M676 464.5h3m-1.5 -1.5v3M677 464.5h3m-1.5 -1.5v3M678 464.5h3m-1.5 -1.5v3M678 463.5h3m-1.5 -1.5v3M679 463.5h3m-1.5 -1.5v3M679 464.5h3m-1.5 -1.5v3M680 463.5h3m-1.5 -1.5v3M680 464.5h3m-1.5 -1.5v3M681 464.5h3m-1.5 -1.5v3M682 464.5h3m-1.5 -1.5v3M683 464.5h3m-1.5 -1.5v3M683 463.5h3m-1.5 -1.5v3M684 463.5h3m-1.5 -1.5v3M685 463.5h3m-1.5 -1.5v3M686 463.5h3m-1.5 -1.5v3M687 462.5h3m-1.5 -1.5v3M687 463.5h3m-1.5 -1.5v3M688 463.5h3m-1.5 -1.5v3M689 463.5h3m-1.5 -1.5v3M689 462.5h3m-1.5 -1.5v3M690 463.5h3m-1.5 -1.5v3M690 462.5h3m-1.5 -1.5v3M691 463.5h3m-1.5 -1.5v3M691 462.5h3m-1.5 -1.5v3M692 462.5h3m-1.5 -1.5v3M693 462.5h3m-1.5 -1.5v3M694 461.5h3m-1.5 -1.5v3M694 462.5h3m-1.5 -1.5v3M695 462.5h3m-1.5 -1.5v3M696 462.5h3m-1.5 -1.5v3M696 461.5h3m-1.5 -1.5v3M697 461.5h3m-1.5 -1.5v3M697 462.5h3m-1.5 -1.5v3M698 461.5h3m-1.5 -1.5v3M699 461.5h3m-1.5 -1.5v3M699 462.5h3m-1.5 -1.5v3M700 462.5h3m-1.5 -1.5v3M700 461.5h3m-1.5 -1.5v3M701 461.5h3m-1.5 -1.5v3M701 462.5h3m-1.5 -1.5v3M702 462.5h3m-1.5 -1.5v3M702 461.5h3m-1.5 -1.5v3M702 460.5h3m-1.5 -1.5v3M703 460.5h3m-1.5 -1.5v3M704 460.5h3m-1.5 -1.5v3M705 460.5h3m-1.5 -1.5v3M706 459.5h3m-1.5 -1.5v3M706 460.5h3m-1.5 -1.5v3M707 459.5h3m-1.5 -1.5v3M707 460.5h3m-1.5 -1.5v3M708 460.5h3m-1.5 -1.5v3M709 460.5h3m-1.5 -1.5v3M709 459.5h3m-1.5 -1.5v3M710 459.5h3m-1.5 -1.5v3M710 458.5h3m-1.5 -1.5v3M711 458.5h3m-1.5 -1.5v3M712 458.5h3m-1.5 -1.5v3M713 458.5h3m-1.5 -1.5v3M714 458.5h3m-1.5 -1.5v3M715 457.5h3m-1.5 -1.5v3M716 457.5h3m-1.5 -1.5v3M716 456.5h3m-1.5 -1.5v3M717 456.5h3m-1.5 -1.5v3M717 454.5h3m-1.5 -1.5v3M718 454.5h3m-1.5 -1.5v3M719 455.5h3m-1.5 -1.5v3M719 456.5h3m-1.5 -1.5v3M720 455.5h3m-1.5 -1.5v3M721 455.5h3m-1.5 -1.5v3M721 456.5h3m-1.5 -1.5v3M721 457.5h3m-1.5 -1.5v3M722 457.5h3m-1.5 -1.5v3M723 457.5h3m-1.5 -1.5v3M723 458.5h3m-1.5 -1.5v3M724 458.5h3m-1.5 -1.5v3M724 459.5h3m-1.5 -1.5v3M725 460.5h3m-1.5 -1.5v3M725 461.5h3m-1.5 -1.5v3M726 462.5h3m-1.5 -1.5v3M727 463.5h3m-1.5 -1.5v3M729 464.5h3m-1.5 -1.5v3M730 465.5h3m-1.5 -1.5v3M731 465.5h3m-1.5 -1.5v3M732 465.5h3m-1.5 -1.5v3M732 466.5h3m-1.5 -1.5v3M734 467.5h3m-1.5 -1.5v3M734 468.5h3m-1.5 -1.5v3M735 467.5h3m-1.5 -1.5v3M735 466.5h3m-1.5 -1.5v3M736 464.5h3m-1.5 -1.5v3M737 463.5h3m-1.5 -1.5v3M737 462.5h3m-1.5 -1.5v3M737 461.5h3m-1.5 -1.5v3M738 461.5h3m-1.5 -1.5v3M738 460.5h3m-1.5 -1.5v3M738 459.5h3m-1.5 -1.5v3M739 459.5h3m-1.5 -1.5v3M739 458.5h3m-1.5 -1.5v3M740 457.5h3m-1.5 -1.5v3M740 456.5h3m-1.5 -1.5v3M741 456.5h3m-1.5 -1.5v3M741 455.5h3m-1.5 -1.5v3M742 454.5h3m-1.5 -1.5v3M742 453.5h3m-1.5 -1.5v3M743 454.5h3m-1.5 -1.5v3M743 453.5h3m-1.5 -1.5v3M743 452.5h3m-1.5 -1.5v3M744 451.5h3m-1.5 -1.5v3M744 450.5h3m-1.5 -1.5v3M744 449.5h3m-1.5 -1.5v3M745 449.5h3m-1.5 -1.5v3M745 448.5h3m-1.5 -1.5v3M746 447.5h3m-1.5 -1.5v3M746 446.5h3m-1.5 -1.5v3M747 445.5h3m-1.5 -1.5v3M748 445.5h3m-1.5 -1.5v3M748 444.5h3m-1.5 -1.5v3M749 444.5h3m-1.5 -1.5v3M749 443.5h3m-1.5 -1.5v3M750 443.5h3m-1.5 -1.5v3M750 442.5h3m-1.5 -1.5v3M751 442.5h3m-1.5 -1.5v3M751 441.5h3m-1.5 -1.5v3M752 440.5h3m-1.5 -1.5v3M752 439.5h3m-1.5 -1.5v3M753 439.5h3m-1.5 -1.5v3M753 438.5h3m-1.5 -1.5v3M754 439.5h3m-1.5 -1.5v3M754 438.5h3m-1.5 -1.5v3M659 462.5h3m-1.5 -1.5v3M659 464.5h3m-1.5 -1.5v3M660 464.5h3m-1.5 -1.5v3M661 465.5h3m-1.5 -1.5v3M661 464.5h3m-1.5 -1.5v3M664 465.5h3m-1.5 -1.5v3M665 465.5h3m-1.5 -1.5v3M666 465.5h3m-1.5 -1.5v3M666 466.5h3m-1.5 -1.5v3M667 466.5h3m-1.5 -1.5v3M667 467.5h3m-1.5 -1.5v3M669 466.5h3m-1.5 -1.5v3M671 468.5h3m-1.5 -1.5v3M672 467.5h3m-1.5 -1.5v3M673 467.5h3m-1.5 -1.5v3M674 466.5h3m-1.5 -1.5v3M676 466.5h3m-1.5 -1.5v3M677 466.5h3m-1.5 -1.5v3M677 465.5h3m-1.5 -1.5v3M678 465.5h3m-1.5 -1.5v3M679 465.5h3m-1.5 -1.5v3M680 465.5h3m-1.5 -1.5v3M681 465.5h3m-1.5 -1.5v3M682 465.5h3m-1.5 -1.5v3M684 464.5h3m-1.5 -1.5v3M684 465.5h3m-1.5 -1.5v3M685 464.5h3m-1.5 -1.5v3M686 464.5h3m-1.5 -1.5v3M687 464.5h3m-1.5 -1.5v3M688 464.5h3m-1.5 -1.5v3M689 464.5h3m-1.5 -1.5v3M692 463.5h3m-1.5 -1.5v3M692 461.5h3m-1.5 -1.5v3M693 461.5h3m-1.5 -1.5v3M695 463.5h3m-1.5 -1.5v3M698 462.5h3m-1.5 -1.5v3M699 463.5h3m-1.5 -1.5v3M701 463.5h3m-1.5 -1.5v3M703 462.5h3m-1.5 -1.5v3M703 461.5h3m-1.5 -1.5v3M704 461.5h3m-1.5 -1.5v3M704 462.5h3m-1.5 -1.5v3M705 462.5h3m-1.5 -1.5v3M706 461.5h3m-1.5 -1.5v3M706 462.5h3m-1.5 -1.5v3M707 462.5h3m-1.5 -1.5v3M708 463.5h3m-1.5 -1.5v3M708 462.5h3m-1.5 -1.5v3M709 462.5h3m-1.5 -1.5v3M709 461.5h3m-1.5 -1.5v3M710 461.5h3m-1.5 -1.5v3M710 462.5h3m-1.5 -1.5v3M711 461.5h3m-1.5 -1.5v3M711 462.5h3m-1.5 -1.5v3M712 462.5h3m-1.5 -1.5v3M713 462.5h3m-1.5 -1.5v3M713 461.5h3m-1.5 -1.5v3M714 461.5h3m-1.5 -1.5v3M715 461.5h3m-1.5 -1.5v3M715 460.5h3m-1.5 -1.5v3M716 460.5h3m-1.5 -1.5v3M716 459.5h3m-1.5 -1.5v3M717 460.5h3m-1.5 -1.5v3M718 460.5h3m-1.5 -1.5v3M718 459.5h3m-1.5 -1.5v3M718 458.5h3m-1.5 -1.5v3M719 459.5h3m-1.5 -1.5v3M719 458.5h3m-1.5 -1.5v3M720 459.5h3m-1.5 -1.5v3M720 458.5h3m-1.5 -1.5v3M720 457.5h3m-1.5 -1.5v3M721 458.5h3m-1.5 -1.5v3M721 459.5h3m-1.5 -1.5v3M722 459.5h3m-1.5 -1.5v3M722 458.5h3m-1.5 -1.5v3M723 459.5h3m-1.5 -1.5v3M725 459.5h3m-1.5 -1.5v3M727 464.5h3m-1.5 -1.5v3M733 466.5h3m-1.5 -1.5v3M736 463.5h3m-1.5 -1.5v3M736 465.5h3m-1.5 -1.5v3M737 464.5h3m-1.5 -1.5v3M738 463.5h3m-1.5 -1.5v3M738 462.5h3m-1.5 -1.5v3M739 462.5h3m-1.5 -1.5v3M739 461.5h3m-1.5 -1.5v3M739 460.5h3m-1.5 -1.5v3M740 459.5h3m-1.5 -1.5v3M740 458.5h3m-1.5 -1.5v3M741 458.5h3m-1.5 -1.5v3M741 457.5h3m-1.5 -1.5v3M742 457.5h3m-1.5 -1.5v3M742 456.5h3m-1.5 -1.5v3M743 455.5h3m-1.5 -1.5v3M744 455.5h3m-1.5 -1.5v3M744 454.5h3m-1.5 -1.5v3M745 454.5h3m-1.5 -1.5v3M746 453.5h3m-1.5 -1.5v3M746 454.5h3m-1.5 -1.5v3M747 452.5h3m-1.5 -1.5v3M747 453.5h3m-1.5 -1.5v3M748 452.5h3m-1.5 -1.5v3M748 451.5h3m-1.5 -1.5v3M749 452.5h3m-1.5 -1.5v3M749 453.5h3m-1.5 -1.5v3M750 453.5h3m-1.5 -1.5v3M750 452.5h3m-1.5 -1.5v3M751 453.5h3m-1.5 -1.5v3M751 452.5h3m-1.5 -1.5v3M752 452.5h3m-1.5 -1.5v3M752 453.5h3m-1.5 -1.5v3M753 452.5h3m-1.5 -1.5v3M753 453.5h3m-1.5 -1.5v3M754 453.5h3m-1.5 -1.5v3M754 452.5h3m-1.5 -1.5v3M659 466.5h3m-1.5 -1.5v3M659 467.5h3m-1.5 -1.5v3M660 467.5h3m-1.5 -1.5v3M660 468.5h3m-1.5 -1.5v3M661 468.5h3m-1.5 -1.5v3M662 468.5h3m-1.5 -1.5v3M662 467.5h3m-1.5 -1.5v3M663 468.5h3m-1.5 -1.5v3M664 468.5h3m-1.5 -1.5v3M665 469.5h3m-1.5 -1.5v3M669 469.5h3m-1.5 -1.5v3M670 469.5h3m-1.5 -1.5v3M671 469.5h3m-1.5 -1.5v3M672 469.5h3m-1.5 -1.5v3M673 468.5h3m-1.5 -1.5v3M674 468.5h3m-1.5 -1.5v3M675 468.5h3m-1.5 -1.5v3M675 467.5h3m-1.5 -1.5v3M676 467.5h3m-1.5 -1.5v3M676 468.5h3m-1.5 -1.5v3M677 467.5h3m-1.5 -1.5v3M678 467.5h3m-1.5 -1.5v3M679 467.5h3m-1.5 -1.5v3M679 468.5h3m-1.5 -1.5v3M680 467.5h3m-1.5 -1.5v3M680 466.5h3m-1.5 -1.5v3M681 467.5h3m-1.5 -1.5v3M681 466.5h3m-1.5 -1.5v3M682 466.5h3m-1.5 -1.5v3M683 467.5h3m-1.5 -1.5v3M683 466.5h3m-1.5 -1.5v3M684 466.5h3m-1.5 -1.5v3M685 466.5h3m-1.5 -1.5v3M686 466.5h3m-1.5 -1.5v3M686 467.5h3m-1.5 -1.5v3M687 466.5h3m-1.5 -1.5v3M687 465.5h3m-1.5 -1.5v3M688 465.5h3m-1.5 -1.5v3M688 466.5h3m-1.5 -1.5v3M689 466.5h3m-1.5 -1.5v3M689 465.5h3m-1.5 -1.5v3M690 465.5h3m-1.5 -1.5v3M691 465.5h3m-1.5 -1.5v3M691 466.5h3m-1.5 -1.5v3M692 466.5h3m-1.5 -1.5v3M693 466.5h3m-1.5 -1.5v3M694 466.5h3m-1.5 -1.5v3M694 465.5h3m-1.5 -1.5v3M695 465.5h3m-1.5 -1.5v3M696 465.5h3m-1.5 -1.5v3M697 465.5h3m-1.5 -1.5v3M697 466.5h3m-1.5 -1.5v3M698 465.5h3m-1.5 -1.5v3M699 464.5h3m-1.5 -1.5v3M699 465.5h3m-1.5 -1.5v3M700 466.5h3m-1.5 -1.5v3M700 465.5h3m-1.5 -1.5v3M701 465.5h3m-1.5 -1.5v3M701 464.5h3m-1.5 -1.5v3M702 465.5h3m-1.5 -1.5v3M702 464.5h3m-1.5 -1.5v3M703 465.5h3m-1.5 -1.5v3M703 464.5h3m-1.5 -1.5v3M704 465.5h3m-1.5 -1.5v3M704 464.5h3m-1.5 -1.5v3M705 464.5h3m-1.5 -1.5v3M705 463.5h3m-1.5 -1.5v3M706 464.5h3m-1.5 -1.5v3M706 465.5h3m-1.5 -1.5v3M707 464.5h3m-1.5 -1.5v3M708 464.5h3m-1.5 -1.5v3M709 464.5h3m-1.5 -1.5v3M709 463.5h3m-1.5 -1.5v3M710 463.5h3m-1.5 -1.5v3M711 463.5h3m-1.5 -1.5v3M712 463.5h3m-1.5 -1.5v3M716 462.5h3m-1.5 -1.5v3M716 461.5h3m-1.5 -1.5v3M717 461.5h3m-1.5 -1.5v3M717 462.5h3m-1.5 -1.5v3M718 461.5h3m-1.5 -1.5v3M719 460.5h3m-1.5 -1.5v3M719 461.5h3m-1.5 -1.5v3M719 462.5h3m-1.5 -1.5v3M720 461.5h3m-1.5 -1.5v3M721 462.5h3m-1.5 -1.5v3M721 461.5h3m-1.5 -1.5v3M722 461.5h3m-1.5 -1.5v3M722 462.5h3m-1.5 -1.5v3M723 462.5h3m-1.5 -1.5v3M724 462.5h3m-1.5 -1.5v3M724 463.5h3m-1.5 -1.5v3M724 464.5h3m-1.5 -1.5v3M725 464.5h3m-1.5 -1.5v3M725 463.5h3m-1.5 -1.5v3M726 464.5h3m-1.5 -1.5v3M727 465.5h3m-1.5 -1.5v3M728 466.5h3m-1.5 -1.5v3M730 468.5h3m-1.5 -1.5v3M731 469.5h3m-1.5 -1.5v3M739 457.5h3m-1.5 -1.5v3M742 455.5h3m-1.5 -1.5v3M744 453.5h3m-1.5 -1.5v3M745 452.5h3m-1.5 -1.5v3M746 451.5h3m-1.5 -1.5v3M746 450.5h3m-1.5 -1.5v3M747 450.5h3m-1.5 -1.5v3M747 449.5h3m-1.5 -1.5v3M748 450.5h3m-1.5 -1.5v3M748 449.5h3m-1.5 -1.5v3M748 448.5h3m-1.5 -1.5v3M749 448.5h3m-1.5 -1.5v3M749 447.5h3m-1.5 -1.5v3M750 447.5h3m-1.5 -1.5v3M751 446.5h3m-1.5 -1.5v3M751 447.5h3m-1.5 -1.5v3M751 445.5h3m-1.5 -1.5v3M752 446.5h3m-1.5 -1.5v3M752 445.5h3m-1.5 -1.5v3M752 444.5h3m-1.5 -1.5v3M753 445.5h3m-1.5 -1.5v3M753 444.5h3m-1.5 -1.5v3M754 443.5h3m-1.5 -1.5v3M85 312.5h3m-1.5 -1.5v3M86 317.5h3m-1.5 -1.5v3M87 318.5h3m-1.5 -1.5v3M87 320.5h3m-1.5 -1.5v3M87 321.5h3m-1.5 -1.5v3M88 325.5h3m-1.5 -1.5v3M89 326.5h3m-1.5 -1.5v3M89 331.5h3m-1.5 -1.5v3M90 330.5h3m-1.5 -1.5v3M90 329.5h3m-1.5 -1.5v3M90 331.5h3m-1.5 -1.5v3M91 335.5h3m-1.5 -1.5v3M91 333.5h3m-1.5 -1.5v3M91 337.5h3m-1.5 -1.5v3M92 339.5h3m-1.5 -1.5v3M92 340.5h3m-1.5 -1.5v3M92 343.5h3m-1.5 -1.5v3M93 346.5h3m-1.5 -1.5v3M93 350.5h3m-1.5 -1.5v3M93 353.5h3m-1.5 -1.5v3M93 357.5h3m-1.5 -1.5v3M100 311.5h3m-1.5 -1.5v3M101 317.5h3m-1.5 -1.5v3M104 312.5h3m-1.5 -1.5v3M104 313.5h3m-1.5 -1.5v3M105 314.5h3m-1.5 -1.5v3M105 315.5h3m-1.5 -1.5v3M105 313.5h3m-1.5 -1.5v3M106 316.5h3m-1.5 -1.5v3M106 317.5h3m-1.5 -1.5v3M106 315.5h3m-1.5 -1.5v3M131 323.5h3m-1.5 -1.5v3M131 328.5h3m-1.5 -1.5v3M168 303.5h3m-1.5 -1.5v3M169 303.5h3m-1.5 -1.5v3M171 298.5h3m-1.5 -1.5v3M172 297.5h3m-1.5 -1.5v3M173 296.5h3m-1.5 -1.5v3M173 295.5h3m-1.5 -1.5v3M174 294.5h3m-1.5 -1.5v3M174 293.5h3m-1.5 -1.5v3M174 292.5h3m-1.5 -1.5v3M175 292.5h3m-1.5 -1.5v3M175 291.5h3m-1.5 -1.5v3M175 290.5h3m-1.5 -1.5v3M176 290.5h3m-1.5 -1.5v3M176 289.5h3m-1.5 -1.5v3M176 288.5h3m-1.5 -1.5v3M177 288.5h3m-1.5 -1.5v3M177 287.5h3m-1.5 -1.5v3M177 286.5h3m-1.5 -1.5v3M178 286.5h3m-1.5 -1.5v3M178 285.5h3m-1.5 -1.5v3M178 284.5h3m-1.5 -1.5v3M179 284.5h3m-1.5 -1.5v3M179 283.5h3m-1.5 -1.5v3M179 282.5h3m-1.5 -1.5v3M180 282.5h3m-1.5 -1.5v3M180 281.5h3m-1.5 -1.5v3M180 280.5h3m-1.5 -1.5v3M181 280.5h3m-1.5 -1.5v3M181 279.5h3m-1.5 -1.5v3M181 278.5h3m-1.5 -1.5v3M182 278.5h3m-1.5 -1.5v3M182 277.5h3m-1.5 -1.5v3M182 276.5h3m-1.5 -1.5v3M183 276.5h3m-1.5 -1.5v3M183 275.5h3m-1.5 -1.5v3M183 274.5h3m-1.5 -1.5v3M184 274.5h3m-1.5 -1.5v3M184 273.5h3m-1.5 -1.5v3M184 272.5h3m-1.5 -1.5v3M185 271.5h3m-1.5 -1.5v3M185 270.5h3m-1.5 -1.5v3M185 269.5h3m-1.5 -1.5v3M186 269.5h3m-1.5 -1.5v3M186 268.5h3m-1.5 -1.5v3M186 267.5h3m-1.5 -1.5v3M187 266.5h3m-1.5 -1.5v3M187 265.5h3m-1.5 -1.5v3M187 264.5h3m-1.5 -1.5v3M188 263.5h3m-1.5 -1.5v3M82 255.5h3m-1.5 -1.5v3M82 250.5h3m-1.5 -1.5v3M81 254.5h3m-1.5 -1.5v3M81 244.5h3m-1.5 -1.5v3M81 247.5h3m-1.5 -1.5v3M81 249.5h3m-1.5 -1.5v3M83 249.5h3m-1.5 -1.5v3M82 248.5h3m-1.5 -1.5v3M81 251.5h3m-1.5 -1.5v3M82 252.5h3m-1.5 -1.5v3M85 245.5h3m-1.5 -1.5v3M83 254.5h3m-1.5 -1.5v3M81 245.5h3m-1.5 -1.5v3M82 244.5h3m-1.5 -1.5v3M81 253.5h3m-1.5 -1.5v3M82 249.5h3m-1.5 -1.5v3M85 254.5h3m-1.5 -1.5v3M83 251.5h3m-1.5 -1.5v3M85 242.5h3m-1.5 -1.5v3M82 246.5h3m-1.5 -1.5v3M82 254.5h3m-1.5 -1.5v3M84 248.5h3m-1.5 -1.5v3M83 247.5h3m-1.5 -1.5v3M81 246.5h3m-1.5 -1.5v3M81 242.5h3m-1.5 -1.5v3M83 252.5h3m-1.5 -1.5v3M82 243.5h3m-1.5 -1.5v3M83 255.5h3m-1.5 -1.5v3M84 244.5h3m-1.5 -1.5v3M82 329.5h3m-1.5 -1.5v3M85 353.5h3m-1.5 -1.5v3M81 308.5h3m-1.5 -1.5v3M81 310.5h3m-1.5 -1.5v3M82 293.5h3m-1.5 -1.5v3M82 324.5h3m-1.5 -1.5v3M82 305.5h3m-1.5 -1.5v3M83 356.5h3m-1.5 -1.5v3M82 296.5h3m-1.5 -1.5v3M81 352.5h3m-1.5 -1.5v3M82 315.5h3m-1.5 -1.5v3M87 359.5h3m-1.5 -1.5v3M82 348.5h3m-1.5 -1.5v3M82 297.5h3m-1.5 -1.5v3M82 291.5h3m-1.5 -1.5v3M85 320.5h3m-1.5 -1.5v3M82 292.5h3m-1.5 -1.5v3M82 290.5h3m-1.5 -1.5v3M85 345.5h3m-1.5 -1.5v3M85 324.5h3m-1.5 -1.5v3M81 302.5h3m-1.5 -1.5v3M84 297.5h3m-1.5 -1.5v3M83 338.5h3m-1.5 -1.5v3M83 295.5h3m-1.5 -1.5v3M82 300.5h3m-1.5 -1.5v3M82 323.5h3m-1.5 -1.5v3M81 323.5h3m-1.5 -1.5v3M81 320.5h3m-1.5 -1.5v3M82 326.5h3m-1.5 -1.5v3M82 303.5h3m-1.5 -1.5v3M82 340.5h3m-1.5 -1.5v3M81 337.5h3m-1.5 -1.5v3M82 335.5h3m-1.5 -1.5v3M84 352.5h3m-1.5 -1.5v3M82 307.5h3m-1.5 -1.5v3M83 296.5h3m-1.5 -1.5v3M84 319.5h3m-1.5 -1.5v3M82 313.5h3m-1.5 -1.5v3M81 361.5h3m-1.5 -1.5v3M82 310.5h3m-1.5 -1.5v3M81 293.5h3m-1.5 -1.5v3M82 347.5h3m-1.5 -1.5v3M82 333.5h3m-1.5 -1.5v3M83 347.5h3m-1.5 -1.5v3M81 296.5h3m-1.5 -1.5v3M83 291.5h3m-1.5 -1.5v3M81 318.5h3m-1.5 -1.5v3M81 316.5h3m-1.5 -1.5v3M85 332.5h3m-1.5 -1.5v3M81 299.5h3m-1.5 -1.5v3M83 327.5h3m-1.5 -1.5v3M86 357.5h3m-1.5 -1.5v3M82 331.5h3m-1.5 -1.5v3M83 330.5h3m-1.5 -1.5v3M81 298.5h3m-1.5 -1.5v3M83 317.5h3m-1.5 -1.5v3M83 310.5h3m-1.5 -1.5v3M81 331.5h3m-1.5 -1.5v3M86 339.5h3m-1.5 -1.5v3M82 342.5h3m-1.5 -1.5v3M85 357.5h3m-1.5 -1.5v3M83 294.5h3m-1.5 -1.5v3M81 315.5h3m-1.5 -1.5v3M82 319.5h3m-1.5 -1.5v3M85 344.5h3m-1.5 -1.5v3M81 340.5h3m-1.5 -1.5v3M85 337.5h3m-1.5 -1.5v3M82 349.5h3m-1.5 -1.5v3M83 309.5h3m-1.5 -1.5v3M85 356.5h3m-1.5 -1.5v3M85 360.5h3m-1.5 -1.5v3M84 312.5h3m-1.5 -1.5v3M87 342.5h3m-1.5 -1.5v3M84 340.5h3m-1.5 -1.5v3M82 295.5h3m-1.5 -1.5v3M82 294.5h3m-1.5 -1.5v3M83 313.5h3m-1.5 -1.5v3M81 290.5h3m-1.5 -1.5v3M84 325.5h3m-1.5 -1.5v3M84 290.5h3m-1.5 -1.5v3M82 356.5h3m-1.5 -1.5v3M83 301.5h3m-1.5 -1.5v3M82 318.5h3m-1.5 -1.5v3M82 301.5h3m-1.5 -1.5v3M85 331.5h3m-1.5 -1.5v3M82 337.5h3m-1.5 -1.5v3M82 306.5h3m-1.5 -1.5v3M88 357.5h3m-1.5 -1.5v3M84 347.5h3m-1.5 -1.5v3M82 314.5h3m-1.5 -1.5v3M83 339.5h3m-1.5 -1.5v3M84 329.5h3m-1.5 -1.5v3M81 322.5h3m-1.5 -1.5v3M81 307.5h3m-1.5 -1.5v3M83 355.5h3m-1.5 -1.5v3M82 332.5h3m-1.5 -1.5v3M81 345.5h3m-1.5 -1.5v3M85 354.5h3m-1.5 -1.5v3M86 347.5h3m-1.5 -1.5v3M84 317.5h3m-1.5 -1.5v3M81 291.5h3m-1.5 -1.5v3M85 350.5h3m-1.5 -1.5v3M85 347.5h3m-1.5 -1.5v3M83 337.5h3m-1.5 -1.5v3M81 292.5h3m-1.5 -1.5v3M81 305.5h3m-1.5 -1.5v3M83 334.5h3m-1.5 -1.5v3M84 307.5h3m-1.5 -1.5v3M82 355.5h3m-1.5 -1.5v3M81 294.5h3m-1.5 -1.5v3M83 321.5h3m-1.5 -1.5v3M82 327.5h3m-1.5 -1.5v3M81 297.5h3m-1.5 -1.5v3M81 346.5h3m-1.5 -1.5v3M81 301.5h3m-1.5 -1.5v3M81 300.5h3m-1.5 -1.5v3" fill="none" stroke="#4797cc" stroke-width="1.0"/>
<path d="M72.0 498.5H766.0M82.5 498.5v3.3M130.5 498.5v3.3M187.5 498.5v3.3M245.5 498.5v3.3M303.5 498.5v3.3M361.5 498.5v3.3M418.5 498.5v3.3M476.5 498.5v3.3M534.5 498.5v3.3M592.5 498.5v3.3M650.5 498.5v3.3M707.5 498.5v3.3M755.5 498.5v3.3M72.0 520.5H766.0M82.5 520.5v3.3M130.5 520.5v3.3M187.5 520.5v3.3M245.5 520.5v3.3M303.5 520.5v3.3M361.5 520.5v3.3M418.5 520.5v3.3M476.5 520.5v3.3M534.5 520.5v3.3M592.5 520.5v3.3M650.5 520.5v3.3M707.5 520.5v3.3M755.5 520.5v3.3M72.0 542.5H766.0M82.5 542.5v3.3M130.5 542.5v3.3M187.5 542.5v3.3M245.5 542.5v3.3M303.5 542.5v3.3M361.5 542.5v3.3M418.5 542.5v3.3M476.5 542.5v3.3M534.5 542.5v3.3M592.5 542.5v3.3M650.5 542.5v3.3M707.5 542.5v3.3M755.5 542.5v3.3M72.0 564.5H766.0M82.5 564.5v3.3M130.5 564.5v3.3M187.5 564.5v3.3M245.5 564.5v3.3M303.5 564.5v3.3M361.5 564.5v3.3M418.5 564.5v3.3M476.5 564.5v3.3M534.5 564.5v3.3M592.5 564.5v3.3M650.5 564.5v3.3M707.5 564.5v3.3M755.5 564.5v3.3" stroke="#222" stroke-width="0.8" fill="none"/>
<path d="M72.5 499.0V60.5H765.5V499.0" stroke="#000" stroke-width="1.05" fill="none" stroke-linejoin="miter"/>
<path d="M72.5 498.5h-3.5M72.5 428.5h-3.5M72.5 358.5h-3.5M72.5 288.5h-3.5M72.5 218.5h-3.5M72.5 148.5h-3.5M72.5 78.5h-3.5" stroke="#000" stroke-width="0.9" fill="none"/>
<g class="c" font-size="16.67" text-anchor="end">
<text x="65.7" y="503.8">0.0</text>
<text x="65.7" y="433.8">10.0</text>
<text x="65.7" y="363.8">20.0</text>
<text x="65.7" y="293.8">30.0</text>
<text x="65.7" y="223.8">40.0</text>
<text x="65.7" y="153.8">50.0</text>
<text x="65.7" y="83.8">60.0</text>
</g>
<g class="c" font-size="16.67" text-anchor="middle">
<text x="82.4" y="515.8">-87.3</text>
<text x="129.8" y="515.8">-75.0</text>
<text x="187.4" y="515.8">-60.0</text>
<text x="245.2" y="515.8">-45.0</text>
<text x="303.0" y="515.8">-30.0</text>
<text x="360.8" y="515.8">-15.0</text>
<text x="418.4" y="515.8">-0.0</text>
<text x="478.6" y="515.8">15.0</text>
<text x="536.4" y="515.8">30.0</text>
<text x="594.1" y="515.8">45.0</text>
<text x="652.1" y="515.8">60.0</text>
<text x="709.6" y="515.8">75.0</text>
<text x="757.0" y="515.8">87.3</text>
<text x="82.4" y="537.9">-77.6</text>
<text x="129.8" y="537.9">-67.6</text>
<text x="187.4" y="537.9">-54.6</text>
<text x="245.2" y="537.9">-41.3</text>
<text x="303.0" y="537.9">-28.3</text>
<text x="360.8" y="537.9">-16.6</text>
<text x="418.4" y="537.9">13.1</text>
<text x="476.2" y="537.9">22.7</text>
<text x="534.0" y="537.9">35.9</text>
<text x="591.8" y="537.9">49.9</text>
<text x="649.7" y="537.9">64.3</text>
<text x="707.2" y="537.9">78.8</text>
<text x="754.6" y="537.9">86.2</text>
<text x="84.8" y="559.9">3.2</text>
<text x="132.2" y="559.9">0.9</text>
<text x="189.8" y="559.9">0.0</text>
<text x="245.2" y="559.9">23.6</text>
<text x="303.0" y="559.9">23.2</text>
<text x="360.8" y="559.9">23.0</text>
<text x="418.4" y="559.9">22.9</text>
<text x="476.2" y="559.9">22.8</text>
<text x="534.0" y="559.9">22.6</text>
<text x="591.8" y="559.9">22.5</text>
<text x="649.7" y="559.9">22.3</text>
<text x="707.2" y="559.9">21.9</text>
<text x="754.6" y="559.9">12.8</text>
<text x="82.4" y="581.9">07:14</text>
<text x="129.8" y="581.9">07:17</text>
<text x="187.4" y="581.9">07:21</text>
<text x="245.2" y="581.9">07:25</text>
<text x="303.0" y="581.9">07:29</text>
<text x="360.8" y="581.9">07:33</text>
<text x="418.4" y="581.9">07:37</text>
<text x="476.2" y="581.9">07:41</text>
<text x="534.0" y="581.9">07:45</text>
<text x="591.8" y="581.9">07:48</text>
<text x="649.7" y="581.9">07:52</text>
<text x="707.2" y="581.9">07:56</text>
<text x="754.6" y="581.9">08:00</text>
</g>
<g class="c k" font-size="16.67">
<text x="786.9" y="516.5">LAT <tspan x="818.8">[°]</tspan></text>
<text x="786.9" y="538.5">MLAT <tspan x="831.8">[°]</tspan></text>
<text x="786.9" y="559.7">MLT <tspan x="822.1">[h]</tspan></text>
<text x="786.9" y="580.7">UTC <tspan x="822.0">[HH</tspan><tspan x="848.8"> : </tspan><tspan x="860.8">MM]</tspan></text>
</g>
<text class="c" transform="translate(21.4 279.7) rotate(-90)" text-anchor="middle" font-size="16.85">TEC [TECU]</text>
<text x="155.60 167.27 182.30 193.56 201.12 219.15 224.99 237.83 247.37 253.22 264.91 276.60 288.30 303.57 322.55 334.25 349.52 368.50 380.20 391.89 401.44 407.28 418.51 430.12 443.08 448.93 460.57 471.82 479.38 486.58 498.23 513.26 524.53 532.08 543.75 553.30 559.14 570.39 577.94 589.61 594.72 602.05 607.89 623.29 634.99 646.68 658.38 670.07" y="30.80" font-size="18.38">Swarm C, 2026−01−24, TEC northward, orbit #68398</text>
<text x="111.90 123.51 135.18 146.83 158.09 165.30 176.54 187.68 197.58 203.42 216.55 227.78 240.74 246.58 258.28 273.55 283.33 295.02 310.29 320.07 331.76 343.46 353.00 358.85 369.09 380.44 386.28 397.98 409.67 415.51 427.21 438.90 450.55 460.10 465.94 476.18 487.43 502.78 508.62 527.60 539.30 550.67 562.37 567.73 579.42 591.11 600.30 609.85 615.69 628.27 633.37 640.70 646.55 658.24 669.94 681.63 687.47 699.17 709.81" y="53.90" font-size="18.38">Equator: UTC 07:37:20, LT 22.97h, Lon −129.82°, Alt 433.9km</text>
</svg>
</body></html>
